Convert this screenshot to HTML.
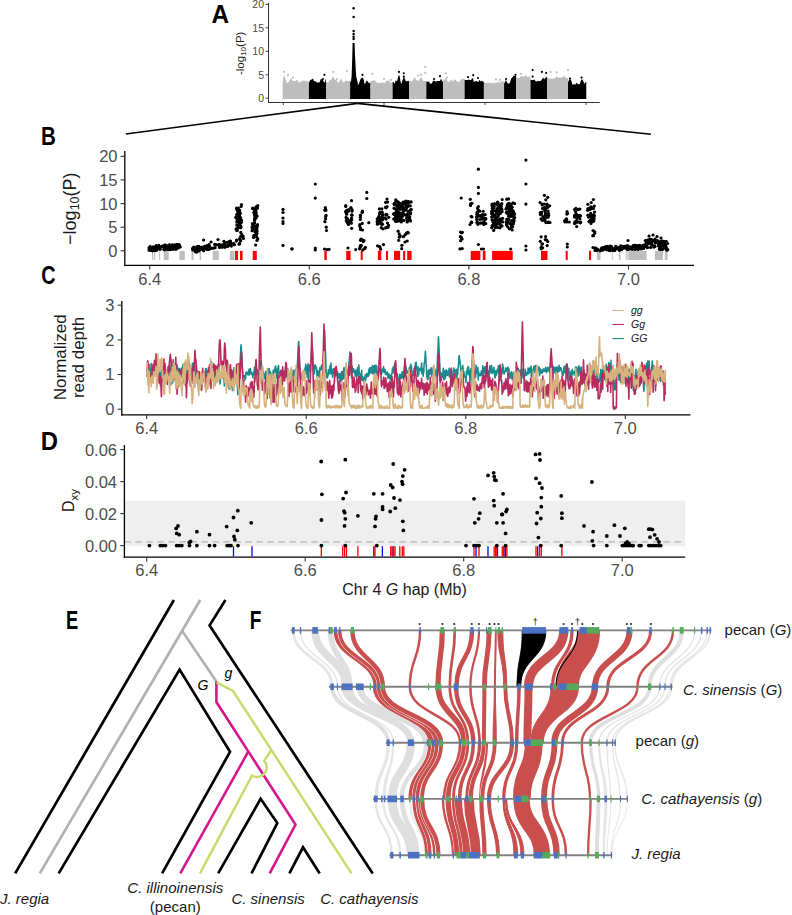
<!DOCTYPE html>
<html><head><meta charset="utf-8"><title>Figure</title>
<style>html,body{margin:0;padding:0;background:#fff;width:792px;height:915px;overflow:hidden}svg{display:block}</style>
</head><body>
<svg width="792" height="915" viewBox="0 0 792 915" font-family='"Liberation Sans", sans-serif'>
<line x1="268.5" y1="3" x2="268.5" y2="103" stroke="#333" stroke-width="1.0"/>
<line x1="268" y1="102.5" x2="599.7" y2="102.5" stroke="#333" stroke-width="1.0"/>
<line x1="265.5" y1="98.2" x2="268.5" y2="98.2" stroke="#333" stroke-width="0.9"/>
<text x="264" y="101.9" font-size="10.5" text-anchor="end" fill="#4d4d4d" font-weight="normal" font-style="normal">0</text>
<line x1="265.5" y1="74.8" x2="268.5" y2="74.8" stroke="#333" stroke-width="0.9"/>
<text x="264" y="78.5" font-size="10.5" text-anchor="end" fill="#4d4d4d" font-weight="normal" font-style="normal">5</text>
<line x1="265.5" y1="51.3" x2="268.5" y2="51.3" stroke="#333" stroke-width="0.9"/>
<text x="264" y="55" font-size="10.5" text-anchor="end" fill="#4d4d4d" font-weight="normal" font-style="normal">10</text>
<line x1="265.5" y1="27.8" x2="268.5" y2="27.8" stroke="#333" stroke-width="0.9"/>
<text x="264" y="31.5" font-size="10.5" text-anchor="end" fill="#4d4d4d" font-weight="normal" font-style="normal">15</text>
<line x1="265.5" y1="4.4" x2="268.5" y2="4.4" stroke="#333" stroke-width="0.9"/>
<text x="264" y="8.1" font-size="10.5" text-anchor="end" fill="#4d4d4d" font-weight="normal" font-style="normal">20</text>
<line x1="283.3" y1="102.5" x2="283.3" y2="105" stroke="#333" stroke-width="0.9"/>
<line x1="384" y1="102.5" x2="384" y2="105" stroke="#333" stroke-width="0.9"/>
<line x1="485" y1="102.5" x2="485" y2="105" stroke="#333" stroke-width="0.9"/>
<line x1="586" y1="102.5" x2="586" y2="105" stroke="#333" stroke-width="0.9"/>
<text transform="translate(211.4 23.4) scale(0.96 1)" font-size="25.4" font-weight="bold" fill="#000">A</text>
<text transform="translate(243.8 53.3) rotate(-90)" font-size="11.5" text-anchor="middle" fill="#1a1a1a">-log<tspan font-size="8" dy="2.2">10</tspan><tspan dy="-2.2">(P)</tspan></text>
<line x1="124.8" y1="151" x2="124.8" y2="266" stroke="#000" stroke-width="1.3"/>
<line x1="124.2" y1="265.4" x2="694" y2="265.4" stroke="#000" stroke-width="1.3"/>
<line x1="120.6" y1="250.8" x2="124.8" y2="250.8" stroke="#333" stroke-width="1.1"/>
<text x="117.5" y="256.7" font-size="16.5" text-anchor="end" fill="#4d4d4d" font-weight="normal" font-style="normal">0</text>
<line x1="120.6" y1="227.2" x2="124.8" y2="227.2" stroke="#333" stroke-width="1.1"/>
<text x="117.5" y="233.1" font-size="16.5" text-anchor="end" fill="#4d4d4d" font-weight="normal" font-style="normal">5</text>
<line x1="120.6" y1="203.6" x2="124.8" y2="203.6" stroke="#333" stroke-width="1.1"/>
<text x="117.5" y="209.5" font-size="16.5" text-anchor="end" fill="#4d4d4d" font-weight="normal" font-style="normal">10</text>
<line x1="120.6" y1="179.9" x2="124.8" y2="179.9" stroke="#333" stroke-width="1.1"/>
<text x="117.5" y="185.8" font-size="16.5" text-anchor="end" fill="#4d4d4d" font-weight="normal" font-style="normal">15</text>
<line x1="120.6" y1="156.3" x2="124.8" y2="156.3" stroke="#333" stroke-width="1.1"/>
<text x="117.5" y="162.2" font-size="16.5" text-anchor="end" fill="#4d4d4d" font-weight="normal" font-style="normal">20</text>
<line x1="149.7" y1="265.4" x2="149.7" y2="269.6" stroke="#333" stroke-width="1.1"/>
<text x="149.7" y="284.6" font-size="16.5" text-anchor="middle" fill="#4d4d4d" font-weight="normal" font-style="normal">6.4</text>
<line x1="309.3" y1="265.4" x2="309.3" y2="269.6" stroke="#333" stroke-width="1.1"/>
<text x="309.3" y="284.6" font-size="16.5" text-anchor="middle" fill="#4d4d4d" font-weight="normal" font-style="normal">6.6</text>
<line x1="468.9" y1="265.4" x2="468.9" y2="269.6" stroke="#333" stroke-width="1.1"/>
<text x="468.9" y="284.6" font-size="16.5" text-anchor="middle" fill="#4d4d4d" font-weight="normal" font-style="normal">6.8</text>
<line x1="628.5" y1="265.4" x2="628.5" y2="269.6" stroke="#333" stroke-width="1.1"/>
<text x="628.5" y="284.6" font-size="16.5" text-anchor="middle" fill="#4d4d4d" font-weight="normal" font-style="normal">7.0</text>
<text transform="translate(41 144.7) scale(0.81 1)" font-size="25.4" font-weight="bold" fill="#000">B</text>
<text transform="translate(76.2 208.7) rotate(-90)" font-size="18" text-anchor="middle" fill="#1a1a1a">−log<tspan font-size="12.5" dy="3">10</tspan><tspan dy="-3">(P)</tspan></text>
<line x1="121.8" y1="301" x2="121.8" y2="415.5" stroke="#000" stroke-width="1.3"/>
<line x1="121.2" y1="414.8" x2="690.5" y2="414.8" stroke="#000" stroke-width="1.3"/>
<line x1="117.6" y1="409.2" x2="121.8" y2="409.2" stroke="#333" stroke-width="1.1"/>
<text x="114.5" y="415.1" font-size="16.5" text-anchor="end" fill="#4d4d4d" font-weight="normal" font-style="normal">0</text>
<line x1="117.6" y1="374.5" x2="121.8" y2="374.5" stroke="#333" stroke-width="1.1"/>
<text x="114.5" y="380.4" font-size="16.5" text-anchor="end" fill="#4d4d4d" font-weight="normal" font-style="normal">1</text>
<line x1="117.6" y1="339.9" x2="121.8" y2="339.9" stroke="#333" stroke-width="1.1"/>
<text x="114.5" y="345.8" font-size="16.5" text-anchor="end" fill="#4d4d4d" font-weight="normal" font-style="normal">2</text>
<line x1="117.6" y1="305.2" x2="121.8" y2="305.2" stroke="#333" stroke-width="1.1"/>
<text x="114.5" y="311.1" font-size="16.5" text-anchor="end" fill="#4d4d4d" font-weight="normal" font-style="normal">3</text>
<line x1="146.7" y1="414.8" x2="146.7" y2="419" stroke="#333" stroke-width="1.1"/>
<text x="146.7" y="434" font-size="16.5" text-anchor="middle" fill="#4d4d4d" font-weight="normal" font-style="normal">6.4</text>
<line x1="306.2" y1="414.8" x2="306.2" y2="419" stroke="#333" stroke-width="1.1"/>
<text x="306.2" y="434" font-size="16.5" text-anchor="middle" fill="#4d4d4d" font-weight="normal" font-style="normal">6.6</text>
<line x1="465.8" y1="414.8" x2="465.8" y2="419" stroke="#333" stroke-width="1.1"/>
<text x="465.8" y="434" font-size="16.5" text-anchor="middle" fill="#4d4d4d" font-weight="normal" font-style="normal">6.8</text>
<line x1="625.3" y1="414.8" x2="625.3" y2="419" stroke="#333" stroke-width="1.1"/>
<text x="625.3" y="434" font-size="16.5" text-anchor="middle" fill="#4d4d4d" font-weight="normal" font-style="normal">7.0</text>
<text transform="translate(41.3 284) scale(0.78 1)" font-size="25.4" font-weight="bold" fill="#000">C</text>
<text x="66" y="357.2" font-size="17" text-anchor="middle" fill="#1a1a1a" font-weight="normal" font-style="normal" transform="rotate(-90 66 357.2)">Normalized</text>
<text x="84.2" y="357.4" font-size="17" text-anchor="middle" fill="#1a1a1a" font-weight="normal" font-style="normal" transform="rotate(-90 84.2 357.4)">read depth</text>
<rect x="124.4" y="500.7" width="560.8" height="45.5" fill="#efefef"/>
<line x1="124.4" y1="541.8" x2="685.2" y2="541.8" stroke="#b3b3b3" stroke-width="1.3" stroke-dasharray="6.5 4.5"/>
<line x1="124.4" y1="445" x2="124.4" y2="557.8" stroke="#000" stroke-width="1.3"/>
<line x1="123.8" y1="557.2" x2="685.2" y2="557.2" stroke="#000" stroke-width="1.3"/>
<line x1="120.2" y1="545.6" x2="124.4" y2="545.6" stroke="#333" stroke-width="1.1"/>
<text x="117" y="551.5" font-size="16.5" text-anchor="end" fill="#4d4d4d" font-weight="normal" font-style="normal">0.00</text>
<line x1="120.2" y1="513.6" x2="124.4" y2="513.6" stroke="#333" stroke-width="1.1"/>
<text x="117" y="519.5" font-size="16.5" text-anchor="end" fill="#4d4d4d" font-weight="normal" font-style="normal">0.02</text>
<line x1="120.2" y1="481.6" x2="124.4" y2="481.6" stroke="#333" stroke-width="1.1"/>
<text x="117" y="487.5" font-size="16.5" text-anchor="end" fill="#4d4d4d" font-weight="normal" font-style="normal">0.04</text>
<line x1="120.2" y1="449.6" x2="124.4" y2="449.6" stroke="#333" stroke-width="1.1"/>
<text x="117" y="455.5" font-size="16.5" text-anchor="end" fill="#4d4d4d" font-weight="normal" font-style="normal">0.06</text>
<line x1="146.7" y1="557.2" x2="146.7" y2="561.4" stroke="#333" stroke-width="1.1"/>
<text x="146.7" y="576.4" font-size="16.5" text-anchor="middle" fill="#4d4d4d" font-weight="normal" font-style="normal">6.4</text>
<line x1="305.2" y1="557.2" x2="305.2" y2="561.4" stroke="#333" stroke-width="1.1"/>
<text x="305.2" y="576.4" font-size="16.5" text-anchor="middle" fill="#4d4d4d" font-weight="normal" font-style="normal">6.6</text>
<line x1="463.7" y1="557.2" x2="463.7" y2="561.4" stroke="#333" stroke-width="1.1"/>
<text x="463.7" y="576.4" font-size="16.5" text-anchor="middle" fill="#4d4d4d" font-weight="normal" font-style="normal">6.8</text>
<line x1="622.2" y1="557.2" x2="622.2" y2="561.4" stroke="#333" stroke-width="1.1"/>
<text x="622.2" y="576.4" font-size="16.5" text-anchor="middle" fill="#4d4d4d" font-weight="normal" font-style="normal">7.0</text>
<text transform="translate(40.8 450) scale(0.94 1)" font-size="25.4" font-weight="bold" fill="#000">D</text>
<text transform="translate(74.0 500.5) rotate(-90)" font-size="16" text-anchor="middle" fill="#1a1a1a">D<tspan font-size="11.5" dy="4">xy</tspan></text>
<text x="404.5" y="595.4" font-size="16" text-anchor="middle" fill="#1a1a1a">Chr 4 <tspan font-style="italic">G</tspan> hap (Mb)</text>
<text transform="translate(65.9 629) scale(0.72 1)" font-size="25.4" font-weight="bold" fill="#000">E</text>
<text transform="translate(249.8 628.7) scale(0.75 1)" font-size="25.4" font-weight="bold" fill="#000">F</text>
<text x="0" y="903.8" font-size="15" text-anchor="start" fill="#1a1a1a" font-weight="normal" font-style="italic">J. regia</text>
<text x="175.3" y="892.5" font-size="15" text-anchor="middle" fill="#1a1a1a" font-weight="normal" font-style="italic">C. illinoinensis</text>
<text x="268.1" y="903.8" font-size="15" text-anchor="middle" fill="#1a1a1a" font-weight="normal" font-style="italic">C. sinensis</text>
<text x="369.4" y="903.8" font-size="15" text-anchor="middle" fill="#1a1a1a" font-weight="normal" font-style="italic">C. cathayensis</text>
<text x="175.3" y="911.8" font-size="15" text-anchor="middle" fill="#1a1a1a" font-weight="normal" font-style="normal">(pecan)</text>
<text x="724.6" y="635" font-size="15" fill="#1a1a1a">pecan (<tspan font-style="italic">G</tspan>)</text>
<text x="683.1" y="694.7" font-size="15" fill="#1a1a1a"><tspan font-style="italic">C. sinensis</tspan> (<tspan font-style="italic">G</tspan>)</text>
<text x="635.6" y="745.9" font-size="15" fill="#1a1a1a">pecan (<tspan font-style="italic">g</tspan>)</text>
<text x="641.3" y="804.2" font-size="15" fill="#1a1a1a"><tspan font-style="italic">C. cathayensis</tspan> (<tspan font-style="italic">g</tspan>)</text>
<text x="631.4" y="858.8" font-size="15" fill="#1a1a1a" font-style="italic">J. regia</text>
<path d="M282.6 99 L282.6 82.9 L283.4 76.8 L284.1 75.1 L285.2 78.3 L286.5 82.6 L288 82.9 L289.5 80.5 L290.3 79.4 L291.1 77.8 L292.1 80.3 L292.9 81 L293.8 81 L294.7 80.7 L295.6 80.9 L297 79.6 L298.5 81.7 L299.3 82.5 L300.6 81.9 L302 80.8 L303.1 80.5 L304.6 80.7 L305.4 80.7 L306.8 81.1 L307.9 81.4 L308.9 81.4 L308.9 99 Z" fill="#bdbdbd"/>
<circle cx="284" cy="71.9" r="1.1" fill="#bdbdbd"/>
<circle cx="288" cy="75.2" r="1.1" fill="#bdbdbd"/>
<circle cx="293" cy="77.6" r="1.1" fill="#bdbdbd"/>
<path d="M308.9 99 L308.9 82.8 L310.2 80 L311.6 79.5 L313 78.6 L313.9 81.1 L315.3 81.3 L316.2 81.8 L317.4 82.8 L318.4 82.2 L319.6 82.6 L320.8 78.8 L322.2 79.3 L323.3 80.7 L324 82.3 L324.8 82.6 L325.8 79.1 L326 79.1 L326 99 Z" fill="#000"/>
<circle cx="324.4" cy="74.8" r="1.1" fill="#000"/>
<circle cx="323" cy="79" r="1.1" fill="#000"/>
<path d="M326 99 L326 82.4 L326.8 81.7 L327.9 82.7 L328.7 82.2 L329.5 79.8 L330.3 80.4 L331.4 79.5 L332.7 76.5 L334 78.2 L335 79.9 L336.3 80.1 L337.6 81.8 L338.4 82.8 L339.6 81.5 L341.1 78.2 L342.1 80.7 L342.9 82.3 L344.3 82.6 L345.6 80.6 L347 81.1 L347.8 81.2 L349.1 81.1 L350.1 81.1 L350.1 99 Z" fill="#bdbdbd"/>
<circle cx="333.4" cy="71.9" r="1.1" fill="#bdbdbd"/>
<circle cx="337" cy="79" r="1.1" fill="#bdbdbd"/>
<circle cx="347" cy="71" r="1.1" fill="#bdbdbd"/>
<path d="M350.1 99 L350.1 82.9 L350.9 80.6 L352.3 81.9 L353.5 82.4 L354.3 81.8 L355.4 82 L356.8 82.3 L357.7 84.2 L358.6 84.7 L360.1 79.9 L361.2 77.9 L362.7 77.8 L363.8 79.7 L364.5 84 L365.6 83 L366.5 80.6 L367.9 81.6 L368.8 83.3 L369.9 82.8 L370.5 82.8 L370.5 99 Z" fill="#000"/>
<circle cx="362.5" cy="74.8" r="1.1" fill="#000"/>
<path d="M370.5 99 L370.5 80.8 L371.6 80.9 L372.7 80.4 L374 80.3 L374.9 80.3 L376.3 82.4 L377 82.3 L378.4 82.9 L379.6 82.9 L381 82.8 L382.5 82.5 L384 82.9 L385 82.7 L385.9 81 L387 81 L388 80.4 L388.8 80.1 L390.2 82.4 L391.6 82.4 L392.6 82.4 L392.6 99 Z" fill="#bdbdbd"/>
<circle cx="372.6" cy="73.8" r="1.1" fill="#bdbdbd"/>
<circle cx="384" cy="79" r="1.1" fill="#bdbdbd"/>
<circle cx="391" cy="79.9" r="1.1" fill="#bdbdbd"/>
<path d="M392.6 99 L392.6 82.1 L393.4 81.7 L394.7 83.7 L395.7 80.2 L397.1 81.2 L398.5 75.5 L399.6 75.7 L400.4 81 L401.2 84.3 L402.1 81.3 L403.2 78.5 L404.1 76.6 L405 79.2 L405.8 81.3 L406.9 81.3 L408 80.7 L408.9 81 L409.1 81 L409.1 99 Z" fill="#000"/>
<circle cx="399" cy="71.9" r="1.1" fill="#000"/>
<circle cx="403.8" cy="73.3" r="1.1" fill="#000"/>
<circle cx="403.8" cy="76.6" r="1.1" fill="#000"/>
<path d="M409.1 99 L409.1 79.6 L409.8 81.2 L410.7 81.1 L412.1 81.7 L413 80.3 L414.1 77.4 L415.2 78.1 L416.2 80.3 L417.3 80.3 L418.2 80.7 L418.9 80.8 L420.1 78.5 L421.3 77 L422.3 79.4 L423.6 81.4 L425 80.7 L426.2 81.3 L426.3 81.3 L426.3 99 Z" fill="#bdbdbd"/>
<circle cx="425.2" cy="66.8" r="1.1" fill="#bdbdbd"/>
<circle cx="425.2" cy="72.9" r="1.1" fill="#bdbdbd"/>
<circle cx="421" cy="74.8" r="1.1" fill="#bdbdbd"/>
<circle cx="418" cy="75.7" r="1.1" fill="#bdbdbd"/>
<path d="M426.3 99 L426.3 81.4 L427.6 81.7 L429.1 81.6 L429.9 83.8 L430.7 83.5 L431.9 83.4 L433 80.7 L434.1 80.8 L434.9 81.2 L435.6 81.6 L436.9 81.2 L437.9 81 L439.2 81.1 L440 81 L441 78.6 L441.7 80.3 L442.9 82.1 L443.2 82.1 L443.2 99 Z" fill="#000"/>
<circle cx="440" cy="76.2" r="1.1" fill="#000"/>
<circle cx="434" cy="79" r="1.1" fill="#000"/>
<path d="M443.2 99 L443.2 79.7 L444.7 79.9 L445.7 77.7 L446.8 79.1 L447.7 82 L448.8 82 L450.2 81.1 L451.4 79.4 L452.1 80.7 L453.1 81.4 L454.4 79.5 L455.2 79.6 L456.7 81.2 L458.2 81.2 L459.2 82.5 L460.6 79.6 L461.5 79.6 L462.5 78.8 L463.8 78.8 L464.6 78.8 L464.6 99 Z" fill="#bdbdbd"/>
<circle cx="445.7" cy="73.3" r="1.1" fill="#bdbdbd"/>
<circle cx="447" cy="77.6" r="1.1" fill="#bdbdbd"/>
<path d="M464.6 99 L464.6 79.7 L465.3 80 L466.6 80.1 L467.4 80.3 L468.5 79.4 L469.9 79.9 L471.1 80 L471.9 78.6 L472.8 78.1 L473.9 81.9 L474.8 81.6 L476 81 L477 81.3 L478 82.3 L479.5 80.1 L480.9 81.5 L481.9 80.7 L483.3 81.7 L483.9 81.7 L483.9 99 Z" fill="#000"/>
<circle cx="473.2" cy="75.2" r="1.1" fill="#000"/>
<circle cx="468" cy="77.1" r="1.1" fill="#000"/>
<circle cx="478" cy="78" r="1.1" fill="#000"/>
<path d="M483.9 99 L483.9 82.3 L485 83.3 L486 82.4 L487.4 83 L488.2 82.8 L489.6 82.8 L490.9 82.9 L491.7 83.3 L493.1 83.2 L493.9 82.3 L494.7 82.9 L495.7 83.2 L496.6 82.2 L497.9 82.7 L498.7 81 L499.7 82.9 L500.7 81.9 L501.6 80.9 L502.9 81.6 L504 81.4 L504.1 81.4 L504.1 99 Z" fill="#bdbdbd"/>
<circle cx="496" cy="79.4" r="1.1" fill="#bdbdbd"/>
<circle cx="500" cy="79.9" r="1.1" fill="#bdbdbd"/>
<path d="M504.1 99 L504.1 82.5 L505 82.5 L505.9 79.8 L507.3 82.7 L508.8 83.8 L509.8 82.9 L511.1 78.8 L512.1 77.6 L512.8 76.7 L513.8 75.5 L514.7 76.1 L515.5 74.4 L516.1 74.4 L516.1 99 Z" fill="#000"/>
<circle cx="515.5" cy="74.8" r="1.1" fill="#000"/>
<circle cx="506" cy="79" r="1.1" fill="#000"/>
<path d="M516.1 99 L516.1 77.2 L517.1 78.1 L518.6 77.8 L519.3 77.9 L520.6 76.2 L522.1 76.6 L523 76.3 L523.9 76.6 L524.9 76.6 L526.1 77.6 L527 76.5 L528.4 77.3 L529.5 76.5 L530.3 76.8 L530.5 76.8 L530.5 99 Z" fill="#bdbdbd"/>
<circle cx="521" cy="73.8" r="1.1" fill="#bdbdbd"/>
<circle cx="526" cy="76.6" r="1.1" fill="#bdbdbd"/>
<path d="M530.5 99 L530.5 79.8 L531.5 80.1 L532.2 79.8 L533 80.2 L534.5 79.4 L535.4 81.1 L536.6 81.4 L537.7 80.9 L539 80.9 L539.8 81.3 L540.9 80.8 L541.8 79.4 L543.2 77.5 L544.2 79.4 L545.1 78.2 L546.6 76.9 L547 76.9 L547 99 Z" fill="#000"/>
<circle cx="532.6" cy="70.1" r="1.1" fill="#000"/>
<circle cx="532.6" cy="76.6" r="1.1" fill="#000"/>
<circle cx="541.9" cy="71.9" r="1.1" fill="#000"/>
<circle cx="546.2" cy="72.9" r="1.1" fill="#000"/>
<path d="M547 99 L547 77.6 L547.9 77.7 L549.1 78.4 L550.5 78.5 L551.8 78.7 L553 78.5 L554 78.4 L555.2 78.5 L555.9 77.2 L556.8 76.5 L557.6 77.6 L558.8 78.1 L559.8 77.4 L560.8 78 L561.8 77.3 L562.8 77 L563.5 76.8 L564.9 76.3 L565.9 78.6 L567.1 78 L568 78 L568 99 Z" fill="#bdbdbd"/>
<circle cx="550.6" cy="71.9" r="1.1" fill="#bdbdbd"/>
<circle cx="556.6" cy="72.4" r="1.1" fill="#bdbdbd"/>
<circle cx="568" cy="70.1" r="1.1" fill="#bdbdbd"/>
<path d="M568 99 L568 82.2 L568.8 80.5 L569.6 78.6 L571.1 80.3 L572.6 85 L574 84 L575.2 84.8 L576.5 82.7 L577.9 84.1 L579 84.4 L579.9 83.6 L580.6 81.5 L581.4 79.6 L582.5 79.4 L583.5 81.8 L584.5 84.1 L585.6 82.1 L586.3 82.1 L586.3 99 Z" fill="#000"/>
<circle cx="581.5" cy="77.6" r="1.1" fill="#000"/>
<circle cx="570" cy="78.5" r="1.1" fill="#000"/>
<path d="M350.6 84.1 L351.6 76.6 L352.3 56 L352.6 42.9 L354.6 42.9 L355.0 56 L356.2 76.6 L358.0 84.1 Z" fill="#000"/>
<circle cx="353.6" cy="8.2" r="1.25" fill="#000"/>
<circle cx="353.6" cy="17.1" r="1.25" fill="#000"/>
<circle cx="353.6" cy="31.1" r="1.25" fill="#000"/>
<circle cx="353.6" cy="33.9" r="1.25" fill="#000"/>
<circle cx="353.6" cy="36.8" r="1.25" fill="#000"/>
<circle cx="353.6" cy="39.1" r="1.25" fill="#000"/>
<line x1="125.8" y1="134" x2="357.4" y2="103.4" stroke="#000" stroke-width="1.6"/>
<line x1="357.4" y1="103.4" x2="650.9" y2="134.2" stroke="#000" stroke-width="1.6"/>
<rect x="152.1" y="250.9" width="1" height="9.1" fill="#bebebe"/>
<rect x="154.1" y="250.9" width="1.1" height="9.1" fill="#bebebe"/>
<rect x="159.2" y="250.9" width="1" height="9.1" fill="#bebebe"/>
<rect x="163.8" y="250.9" width="4.9" height="9.1" fill="#bebebe"/>
<rect x="179.4" y="250.9" width="5.4" height="9.1" fill="#bebebe"/>
<rect x="191.5" y="250.9" width="2" height="9.1" fill="#bebebe"/>
<rect x="199.6" y="250.9" width="1.4" height="9.1" fill="#bebebe"/>
<rect x="212.7" y="250.9" width="6.1" height="9.1" fill="#bebebe"/>
<rect x="229.9" y="250.9" width="4.6" height="9.1" fill="#bebebe"/>
<rect x="597" y="250.9" width="3.5" height="9.1" fill="#bebebe"/>
<rect x="611.8" y="250.9" width="0.9" height="9.1" fill="#bebebe"/>
<rect x="619" y="250.9" width="1.6" height="9.1" fill="#bebebe"/>
<rect x="628.5" y="250.9" width="18.2" height="9.1" fill="#bebebe"/>
<rect x="655" y="250.9" width="8" height="9.1" fill="#bebebe"/>
<rect x="664.8" y="250.9" width="2.8" height="9.1" fill="#bebebe"/>
<rect x="625.5" y="250.9" width="3" height="9.1" fill="#d4d4d4"/>
<rect x="235" y="250.9" width="3" height="9.1" fill="#ff0000"/>
<rect x="240" y="250.9" width="2.6" height="9.1" fill="#ff0000"/>
<rect x="252.7" y="250.9" width="4.1" height="9.1" fill="#ff0000"/>
<rect x="324.3" y="250.9" width="2.5" height="9.1" fill="#ff0000"/>
<rect x="346.2" y="250.9" width="4.4" height="9.1" fill="#ff0000"/>
<rect x="360.7" y="250.9" width="2" height="9.1" fill="#ff0000"/>
<rect x="377.9" y="250.9" width="3.4" height="9.1" fill="#ff0000"/>
<rect x="386" y="250.9" width="2" height="9.1" fill="#ff0000"/>
<rect x="394" y="250.9" width="6.1" height="9.1" fill="#ff0000"/>
<rect x="403.1" y="250.9" width="2.1" height="9.1" fill="#ff0000"/>
<rect x="407.2" y="250.9" width="4.4" height="9.1" fill="#ff0000"/>
<rect x="470.7" y="250.9" width="9.7" height="9.1" fill="#ff0000"/>
<rect x="482.8" y="250.9" width="2.7" height="9.1" fill="#ff0000"/>
<rect x="492.1" y="250.9" width="20.6" height="9.1" fill="#ff0000"/>
<rect x="541" y="250.9" width="6.5" height="9.1" fill="#ff0000"/>
<rect x="565.7" y="250.9" width="2" height="9.1" fill="#ff0000"/>
<rect x="589" y="250.9" width="2.1" height="9.1" fill="#ff0000"/>
<g fill="#000"><circle cx="173.1" cy="248.4" r="1.6"/><circle cx="163.4" cy="246" r="1.6"/><circle cx="163.9" cy="245.6" r="1.6"/><circle cx="153" cy="247.9" r="1.6"/><circle cx="151.9" cy="248" r="1.6"/><circle cx="165.1" cy="245.2" r="1.6"/><circle cx="169" cy="245.1" r="1.6"/><circle cx="172.1" cy="248.4" r="1.6"/><circle cx="165.1" cy="245.2" r="1.6"/><circle cx="164.9" cy="246.9" r="1.6"/><circle cx="179" cy="244.8" r="1.6"/><circle cx="176" cy="249.3" r="1.6"/><circle cx="172.1" cy="248.6" r="1.6"/><circle cx="155.1" cy="250.5" r="1.6"/><circle cx="164.5" cy="249.8" r="1.6"/><circle cx="177.9" cy="245" r="1.6"/><circle cx="173.8" cy="249.1" r="1.6"/><circle cx="151.1" cy="247.6" r="1.6"/><circle cx="172.8" cy="245.3" r="1.6"/><circle cx="177.2" cy="245.6" r="1.6"/><circle cx="174.7" cy="245.1" r="1.6"/><circle cx="164.8" cy="249.6" r="1.6"/><circle cx="155.6" cy="246.9" r="1.6"/><circle cx="164.9" cy="246.6" r="1.6"/><circle cx="150.2" cy="246.8" r="1.6"/><circle cx="154.1" cy="250.4" r="1.6"/><circle cx="170.4" cy="249.1" r="1.6"/><circle cx="154.3" cy="249.6" r="1.6"/><circle cx="152.6" cy="248.4" r="1.6"/><circle cx="169" cy="246.5" r="1.6"/><circle cx="176.5" cy="247" r="1.6"/><circle cx="167.3" cy="249.3" r="1.6"/><circle cx="152.3" cy="250.8" r="1.6"/><circle cx="168.8" cy="246.7" r="1.6"/><circle cx="174.1" cy="245.7" r="1.6"/><circle cx="180.2" cy="246.9" r="1.6"/><circle cx="160.3" cy="249.1" r="1.6"/><circle cx="162.9" cy="246" r="1.6"/><circle cx="172.4" cy="244.8" r="1.6"/><circle cx="174.8" cy="245.6" r="1.6"/><circle cx="169.1" cy="249.6" r="1.6"/><circle cx="167.5" cy="248.1" r="1.6"/><circle cx="158.8" cy="245.4" r="1.6"/><circle cx="150.1" cy="246.7" r="1.6"/><circle cx="168.4" cy="246.9" r="1.6"/><circle cx="165.1" cy="249.5" r="1.6"/><circle cx="153.2" cy="246.9" r="1.6"/><circle cx="169.6" cy="244.8" r="1.6"/><circle cx="149.1" cy="247.8" r="1.6"/><circle cx="152.4" cy="247.6" r="1.6"/><circle cx="156.1" cy="248.5" r="1.6"/><circle cx="167.6" cy="245.8" r="1.6"/><circle cx="168.7" cy="247.1" r="1.6"/><circle cx="153.2" cy="250.4" r="1.6"/><circle cx="156.7" cy="246.3" r="1.6"/><circle cx="152" cy="249" r="1.6"/><circle cx="176.4" cy="248.2" r="1.6"/><circle cx="161.7" cy="246.5" r="1.6"/><circle cx="149.4" cy="249.2" r="1.6"/><circle cx="166.7" cy="246.6" r="1.6"/><circle cx="169.3" cy="246.9" r="1.6"/><circle cx="178.5" cy="247.8" r="1.6"/><circle cx="156.8" cy="250" r="1.6"/><circle cx="150.4" cy="248.6" r="1.6"/><circle cx="161.8" cy="246.4" r="1.6"/><circle cx="150.8" cy="249.8" r="1.6"/><circle cx="149.4" cy="248.7" r="1.6"/><circle cx="178.6" cy="244.8" r="1.6"/><circle cx="155.3" cy="248.6" r="1.6"/><circle cx="165" cy="248.2" r="1.6"/><circle cx="174.6" cy="245.2" r="1.6"/><circle cx="158.7" cy="246.9" r="1.6"/><circle cx="150.5" cy="250.3" r="1.6"/><circle cx="173.7" cy="248" r="1.6"/><circle cx="149.2" cy="250.2" r="1.6"/><circle cx="172.5" cy="246.8" r="1.6"/><circle cx="172.4" cy="246.8" r="1.6"/><circle cx="156.1" cy="246.1" r="1.6"/><circle cx="156.3" cy="245.7" r="1.6"/><circle cx="159.6" cy="249.1" r="1.6"/><circle cx="170.9" cy="248.8" r="1.6"/><circle cx="171.4" cy="245.9" r="1.6"/><circle cx="166.4" cy="247.1" r="1.6"/><circle cx="173.8" cy="247" r="1.6"/><circle cx="157.4" cy="248.7" r="1.6"/><circle cx="179.4" cy="245.2" r="1.6"/><circle cx="176.7" cy="244.3" r="1.6"/><circle cx="157.2" cy="246.7" r="1.6"/><circle cx="172.4" cy="249.2" r="1.6"/><circle cx="172.5" cy="246.1" r="1.6"/><circle cx="176.7" cy="245.9" r="1.6"/><circle cx="156.5" cy="250.1" r="1.6"/><circle cx="168.9" cy="248.2" r="1.6"/><circle cx="170" cy="249.6" r="1.6"/><circle cx="163.8" cy="249.3" r="1.6"/><circle cx="222.1" cy="247.1" r="1.6"/><circle cx="211.1" cy="248.2" r="1.6"/><circle cx="216.7" cy="244.9" r="1.6"/><circle cx="201.5" cy="249.2" r="1.6"/><circle cx="195.8" cy="251.8" r="1.6"/><circle cx="198.6" cy="246.3" r="1.6"/><circle cx="197" cy="251.7" r="1.6"/><circle cx="207.2" cy="245.6" r="1.6"/><circle cx="193.7" cy="247.2" r="1.6"/><circle cx="221.9" cy="245.9" r="1.6"/><circle cx="222.1" cy="246.4" r="1.6"/><circle cx="195.3" cy="250" r="1.6"/><circle cx="207.9" cy="249.2" r="1.6"/><circle cx="227.3" cy="246.5" r="1.6"/><circle cx="195.3" cy="251.6" r="1.6"/><circle cx="231.4" cy="246.1" r="1.6"/><circle cx="197.1" cy="247.6" r="1.6"/><circle cx="197.3" cy="246.6" r="1.6"/><circle cx="228.5" cy="245.8" r="1.6"/><circle cx="219.5" cy="247.4" r="1.6"/><circle cx="219.3" cy="244.4" r="1.6"/><circle cx="196.7" cy="247" r="1.6"/><circle cx="224.7" cy="243" r="1.6"/><circle cx="206.1" cy="247.3" r="1.6"/><circle cx="193.4" cy="248.5" r="1.6"/><circle cx="204.5" cy="249.2" r="1.6"/><circle cx="208.1" cy="246.4" r="1.6"/><circle cx="233.5" cy="243.3" r="1.6"/><circle cx="228.7" cy="244.7" r="1.6"/><circle cx="193.8" cy="249.3" r="1.6"/><circle cx="211" cy="248.5" r="1.6"/><circle cx="207.2" cy="248.7" r="1.6"/><circle cx="215.4" cy="244.6" r="1.6"/><circle cx="229.1" cy="241.7" r="1.6"/><circle cx="227.3" cy="242.4" r="1.6"/><circle cx="192.6" cy="248.3" r="1.6"/><circle cx="224.9" cy="247.3" r="1.6"/><circle cx="192.7" cy="249.9" r="1.6"/><circle cx="213.4" cy="248.2" r="1.6"/><circle cx="200.3" cy="248.7" r="1.6"/><circle cx="207.3" cy="249.4" r="1.6"/><circle cx="203.6" cy="250.7" r="1.6"/><circle cx="204.6" cy="246.4" r="1.6"/><circle cx="222.2" cy="245.1" r="1.6"/><circle cx="197.2" cy="250" r="1.6"/><circle cx="195.9" cy="251" r="1.6"/><circle cx="222.1" cy="246.7" r="1.6"/><circle cx="219.2" cy="244.8" r="1.6"/><circle cx="209.6" cy="246.6" r="1.6"/><circle cx="230.3" cy="241.4" r="1.6"/><circle cx="230.3" cy="241.1" r="1.6"/><circle cx="201.3" cy="247.2" r="1.6"/><circle cx="230.8" cy="243.7" r="1.6"/><circle cx="208.6" cy="249.5" r="1.6"/><circle cx="202.4" cy="248.1" r="1.6"/><circle cx="215.1" cy="247.7" r="1.6"/><circle cx="224.5" cy="245.5" r="1.6"/><circle cx="207.3" cy="246.6" r="1.6"/><circle cx="199.1" cy="250.8" r="1.6"/><circle cx="220.6" cy="246.7" r="1.6"/><circle cx="199.7" cy="248.5" r="1.6"/><circle cx="225.4" cy="245" r="1.6"/><circle cx="197.9" cy="248.9" r="1.6"/><circle cx="230.1" cy="242.3" r="1.6"/><circle cx="200.6" cy="247.5" r="1.6"/><circle cx="222.4" cy="247" r="1.6"/><circle cx="199.1" cy="247" r="1.6"/><circle cx="203" cy="247.3" r="1.6"/><circle cx="214.7" cy="244.4" r="1.6"/><circle cx="206.4" cy="246" r="1.6"/><circle cx="233.9" cy="244.5" r="1.6"/><circle cx="196.8" cy="251.9" r="1.6"/><circle cx="196.8" cy="248.6" r="1.6"/><circle cx="234.3" cy="244.8" r="1.6"/><circle cx="223.7" cy="244.5" r="1.6"/><circle cx="200.8" cy="249.4" r="1.6"/><circle cx="197" cy="247.6" r="1.6"/><circle cx="209" cy="244.7" r="1.6"/><circle cx="209.5" cy="248.8" r="1.6"/><circle cx="222" cy="245.1" r="1.6"/><circle cx="203.6" cy="240" r="1.6"/><circle cx="211" cy="242" r="1.6"/><circle cx="218" cy="239.5" r="1.6"/><circle cx="224" cy="241.3" r="1.6"/><circle cx="239.5" cy="211.1" r="1.6"/><circle cx="239.3" cy="224.3" r="1.6"/><circle cx="241" cy="220.6" r="1.6"/><circle cx="240.1" cy="213" r="1.6"/><circle cx="240" cy="225.9" r="1.6"/><circle cx="239.9" cy="223.3" r="1.6"/><circle cx="239.5" cy="214.9" r="1.6"/><circle cx="239.5" cy="217.2" r="1.6"/><circle cx="240.3" cy="222" r="1.6"/><circle cx="237.4" cy="218" r="1.6"/><circle cx="239.4" cy="222.9" r="1.6"/><circle cx="241.1" cy="222.4" r="1.6"/><circle cx="240.3" cy="218.8" r="1.6"/><circle cx="241.4" cy="220" r="1.6"/><circle cx="236.9" cy="230.4" r="1.6"/><circle cx="238.9" cy="220.6" r="1.6"/><circle cx="239" cy="218.8" r="1.6"/><circle cx="239.5" cy="219.1" r="1.6"/><circle cx="238.3" cy="210.7" r="1.6"/><circle cx="239.8" cy="224.8" r="1.6"/><circle cx="236.7" cy="214.6" r="1.6"/><circle cx="236.3" cy="216.8" r="1.6"/><circle cx="236.1" cy="217.3" r="1.6"/><circle cx="239.8" cy="213.8" r="1.6"/><circle cx="237.2" cy="230.4" r="1.6"/><circle cx="238.9" cy="225.6" r="1.6"/><circle cx="238.2" cy="210.8" r="1.6"/><circle cx="240.3" cy="222.1" r="1.6"/><circle cx="238.6" cy="213" r="1.6"/><circle cx="241.3" cy="222.1" r="1.6"/><circle cx="240.5" cy="217.6" r="1.6"/><circle cx="237.6" cy="210.8" r="1.6"/><circle cx="240.6" cy="226.7" r="1.6"/><circle cx="237.5" cy="213.6" r="1.6"/><circle cx="238.3" cy="208.1" r="1.6"/><circle cx="240" cy="213.4" r="1.6"/><circle cx="237.7" cy="217.4" r="1.6"/><circle cx="239.5" cy="216" r="1.6"/><circle cx="241.1" cy="206.5" r="1.6"/><circle cx="240.6" cy="226.2" r="1.6"/><circle cx="236.8" cy="222.1" r="1.6"/><circle cx="236.1" cy="228.9" r="1.6"/><circle cx="239.6" cy="210.2" r="1.6"/><circle cx="236.8" cy="225.1" r="1.6"/><circle cx="237.9" cy="227.9" r="1.6"/><circle cx="240.4" cy="227.6" r="1.6"/><circle cx="239.3" cy="223" r="1.6"/><circle cx="240.9" cy="227.6" r="1.6"/><circle cx="237.1" cy="219.7" r="1.6"/><circle cx="240.1" cy="227.4" r="1.6"/><circle cx="239.1" cy="213.2" r="1.6"/><circle cx="236.8" cy="209.3" r="1.6"/><circle cx="238.6" cy="218.8" r="1.6"/><circle cx="238.7" cy="227" r="1.6"/><circle cx="236" cy="217.6" r="1.6"/><circle cx="240.2" cy="240.4" r="1.6"/><circle cx="242.3" cy="236.8" r="1.6"/><circle cx="239.1" cy="244.2" r="1.6"/><circle cx="236.6" cy="240.1" r="1.6"/><circle cx="240.8" cy="232.4" r="1.6"/><circle cx="240.6" cy="240.7" r="1.6"/><circle cx="243" cy="236.2" r="1.6"/><circle cx="243.4" cy="238.5" r="1.6"/><circle cx="239.6" cy="243.4" r="1.6"/><circle cx="236.3" cy="241.1" r="1.6"/><circle cx="240.7" cy="236.3" r="1.6"/><circle cx="242.5" cy="236.7" r="1.6"/><circle cx="239.6" cy="238.7" r="1.6"/><circle cx="241.8" cy="234.7" r="1.6"/><circle cx="241.5" cy="204.5" r="1.6"/><circle cx="236.5" cy="208" r="1.6"/><circle cx="254.6" cy="223.1" r="1.6"/><circle cx="257" cy="231" r="1.6"/><circle cx="254.4" cy="214.9" r="1.6"/><circle cx="255" cy="231.7" r="1.6"/><circle cx="256.8" cy="216.2" r="1.6"/><circle cx="253.8" cy="225.4" r="1.6"/><circle cx="256.7" cy="228" r="1.6"/><circle cx="257.3" cy="208.4" r="1.6"/><circle cx="253.8" cy="212.5" r="1.6"/><circle cx="257.5" cy="226.1" r="1.6"/><circle cx="256.7" cy="230" r="1.6"/><circle cx="255.7" cy="227.2" r="1.6"/><circle cx="255.6" cy="213.2" r="1.6"/><circle cx="256" cy="229.1" r="1.6"/><circle cx="252.6" cy="208.1" r="1.6"/><circle cx="256.6" cy="231.8" r="1.6"/><circle cx="254.2" cy="237.1" r="1.6"/><circle cx="255.4" cy="215.8" r="1.6"/><circle cx="254.5" cy="219.5" r="1.6"/><circle cx="255.9" cy="207.2" r="1.6"/><circle cx="255.4" cy="210.4" r="1.6"/><circle cx="256.9" cy="233.6" r="1.6"/><circle cx="254.7" cy="218.2" r="1.6"/><circle cx="255.6" cy="245" r="1.6"/><circle cx="254.9" cy="210" r="1.6"/><circle cx="255.9" cy="211.4" r="1.6"/><circle cx="252.1" cy="226.8" r="1.6"/><circle cx="252.7" cy="208.6" r="1.6"/><circle cx="257.2" cy="207.5" r="1.6"/><circle cx="256.3" cy="228.3" r="1.6"/><circle cx="253.1" cy="229.4" r="1.6"/><circle cx="256.3" cy="234.8" r="1.6"/><circle cx="252.5" cy="227.6" r="1.6"/><circle cx="254.8" cy="215.4" r="1.6"/><circle cx="257.8" cy="205.5" r="1.6"/><circle cx="252.1" cy="230.7" r="1.6"/><circle cx="252.5" cy="228.2" r="1.6"/><circle cx="253" cy="224.8" r="1.6"/><circle cx="252.4" cy="223.7" r="1.6"/><circle cx="254.6" cy="211.2" r="1.6"/><circle cx="256.8" cy="225.7" r="1.6"/><circle cx="255.8" cy="218.2" r="1.6"/><circle cx="256.7" cy="237" r="1.6"/><circle cx="255.4" cy="208.8" r="1.6"/><circle cx="257.8" cy="238.8" r="1.6"/><circle cx="254" cy="235.3" r="1.6"/><circle cx="257" cy="215.9" r="1.6"/><circle cx="254.6" cy="220.4" r="1.6"/><circle cx="256.1" cy="233" r="1.6"/><circle cx="256.8" cy="207" r="1.6"/><circle cx="253.6" cy="224" r="1.6"/><circle cx="256.9" cy="206.7" r="1.6"/><circle cx="257" cy="240.4" r="1.6"/><circle cx="255.4" cy="231.7" r="1.6"/><circle cx="256.8" cy="233.5" r="1.6"/><circle cx="254.1" cy="223.1" r="1.6"/><circle cx="256.8" cy="228.8" r="1.6"/><circle cx="257.6" cy="224.6" r="1.6"/><circle cx="256.1" cy="213" r="1.6"/><circle cx="253.5" cy="237.3" r="1.6"/><circle cx="283" cy="209.4" r="1.6"/><circle cx="283" cy="212.5" r="1.6"/><circle cx="283" cy="218" r="1.6"/><circle cx="283" cy="221.5" r="1.6"/><circle cx="283" cy="223.5" r="1.6"/><circle cx="283" cy="245.4" r="1.6"/><circle cx="291.9" cy="248.8" r="1.6"/><circle cx="292" cy="249" r="1.6"/><circle cx="315.3" cy="184" r="1.6"/><circle cx="315.3" cy="198.1" r="1.6"/><circle cx="315.3" cy="248" r="1.6"/><circle cx="315.3" cy="250" r="1.6"/><circle cx="325.4" cy="207.5" r="1.6"/><circle cx="326.3" cy="227.2" r="1.6"/><circle cx="324.9" cy="221.7" r="1.6"/><circle cx="326.5" cy="230.5" r="1.6"/><circle cx="325.6" cy="218.7" r="1.6"/><circle cx="325.8" cy="210.4" r="1.6"/><circle cx="324.8" cy="210.2" r="1.6"/><circle cx="326.1" cy="215.4" r="1.6"/><circle cx="325.7" cy="216.6" r="1.6"/><circle cx="325.6" cy="209.3" r="1.6"/><circle cx="324.5" cy="249" r="1.6"/><circle cx="327" cy="249.5" r="1.6"/><circle cx="329" cy="249.3" r="1.6"/><circle cx="345.9" cy="211.5" r="1.6"/><circle cx="346.3" cy="220.8" r="1.6"/><circle cx="346.6" cy="214.2" r="1.6"/><circle cx="349" cy="209.5" r="1.6"/><circle cx="352" cy="215.2" r="1.6"/><circle cx="349.3" cy="220.7" r="1.6"/><circle cx="348.4" cy="224.4" r="1.6"/><circle cx="350.9" cy="207.5" r="1.6"/><circle cx="345.8" cy="211.7" r="1.6"/><circle cx="346.1" cy="217.4" r="1.6"/><circle cx="351.3" cy="223.2" r="1.6"/><circle cx="351.5" cy="218" r="1.6"/><circle cx="348.2" cy="223.4" r="1.6"/><circle cx="347.3" cy="218.6" r="1.6"/><circle cx="351.8" cy="214.9" r="1.6"/><circle cx="348.5" cy="223.5" r="1.6"/><circle cx="352" cy="209.6" r="1.6"/><circle cx="347.3" cy="222.5" r="1.6"/><circle cx="351.5" cy="200.7" r="1.6"/><circle cx="350.7" cy="220.4" r="1.6"/><circle cx="352" cy="211.2" r="1.6"/><circle cx="350.5" cy="221.4" r="1.6"/><circle cx="347.5" cy="220.4" r="1.6"/><circle cx="346.3" cy="212.9" r="1.6"/><circle cx="346.4" cy="211.5" r="1.6"/><circle cx="347.1" cy="219.2" r="1.6"/><circle cx="345.7" cy="205.6" r="1.6"/><circle cx="345.8" cy="206.4" r="1.6"/><circle cx="351.7" cy="228.3" r="1.6"/><circle cx="346.5" cy="210.5" r="1.6"/><circle cx="351.6" cy="219.8" r="1.6"/><circle cx="348.5" cy="221.3" r="1.6"/><circle cx="348.7" cy="211.1" r="1.6"/><circle cx="347" cy="219.7" r="1.6"/><circle cx="349.2" cy="222.1" r="1.6"/><circle cx="347.3" cy="211.3" r="1.6"/><circle cx="347.4" cy="210.2" r="1.6"/><circle cx="346.7" cy="213.8" r="1.6"/><circle cx="348" cy="248" r="1.6"/><circle cx="355.7" cy="249.6" r="1.6"/><circle cx="366.8" cy="192.4" r="1.6"/><circle cx="366.8" cy="198.5" r="1.6"/><circle cx="368.8" cy="222.7" r="1.6"/><circle cx="362.2" cy="212.3" r="1.6"/><circle cx="362.4" cy="211.1" r="1.6"/><circle cx="362.2" cy="223.4" r="1.6"/><circle cx="360.3" cy="219.5" r="1.6"/><circle cx="360.5" cy="215.2" r="1.6"/><circle cx="360.3" cy="217.3" r="1.6"/><circle cx="362.5" cy="230" r="1.6"/><circle cx="362.3" cy="212" r="1.6"/><circle cx="360.5" cy="227.9" r="1.6"/><circle cx="359.9" cy="224.5" r="1.6"/><circle cx="360.5" cy="229.6" r="1.6"/><circle cx="359.7" cy="226.1" r="1.6"/><circle cx="362.1" cy="239.8" r="1.6"/><circle cx="359.5" cy="248.8" r="1.6"/><circle cx="363.4" cy="240.4" r="1.6"/><circle cx="362.8" cy="249.9" r="1.6"/><circle cx="361.1" cy="245.4" r="1.6"/><circle cx="360.5" cy="240.3" r="1.6"/><circle cx="365.3" cy="247.3" r="1.6"/><circle cx="361" cy="239" r="1.6"/><circle cx="360.2" cy="245.9" r="1.6"/><circle cx="363.2" cy="241.6" r="1.6"/><circle cx="361" cy="246" r="1.6"/><circle cx="364.8" cy="248.6" r="1.6"/><circle cx="363.9" cy="240.6" r="1.6"/><circle cx="360" cy="247.5" r="1.6"/><circle cx="379.4" cy="208.9" r="1.6"/><circle cx="381.8" cy="223.8" r="1.6"/><circle cx="382.2" cy="212.2" r="1.6"/><circle cx="382.5" cy="224.2" r="1.6"/><circle cx="378.5" cy="223.6" r="1.6"/><circle cx="379.1" cy="217.2" r="1.6"/><circle cx="380.5" cy="219.3" r="1.6"/><circle cx="379.6" cy="213.7" r="1.6"/><circle cx="381.3" cy="227.7" r="1.6"/><circle cx="378.9" cy="216.4" r="1.6"/><circle cx="381.5" cy="224.2" r="1.6"/><circle cx="382.7" cy="219.2" r="1.6"/><circle cx="380.1" cy="212.3" r="1.6"/><circle cx="382.8" cy="214.6" r="1.6"/><circle cx="377.5" cy="223.4" r="1.6"/><circle cx="377.1" cy="221.8" r="1.6"/><circle cx="378.1" cy="220.4" r="1.6"/><circle cx="380.4" cy="221.8" r="1.6"/><circle cx="377.5" cy="224.2" r="1.6"/><circle cx="377.2" cy="218.9" r="1.6"/><circle cx="380" cy="213.7" r="1.6"/><circle cx="379.4" cy="220.3" r="1.6"/><circle cx="382.2" cy="220" r="1.6"/><circle cx="381.5" cy="223.6" r="1.6"/><circle cx="382.6" cy="217.9" r="1.6"/><circle cx="382" cy="217.5" r="1.6"/><circle cx="382.6" cy="215.5" r="1.6"/><circle cx="378.4" cy="218.1" r="1.6"/><circle cx="382.9" cy="228.8" r="1.6"/><circle cx="381.9" cy="208.8" r="1.6"/><circle cx="380.6" cy="249.2" r="1.6"/><circle cx="383.5" cy="244.6" r="1.6"/><circle cx="380" cy="247.1" r="1.6"/><circle cx="379.6" cy="246.5" r="1.6"/><circle cx="377.5" cy="245.8" r="1.6"/><circle cx="387" cy="199.1" r="1.6"/><circle cx="385.6" cy="227.9" r="1.6"/><circle cx="388.1" cy="226.9" r="1.6"/><circle cx="387.5" cy="223" r="1.6"/><circle cx="388.5" cy="225.3" r="1.6"/><circle cx="385.1" cy="217.9" r="1.6"/><circle cx="386.1" cy="219.1" r="1.6"/><circle cx="386.1" cy="214.9" r="1.6"/><circle cx="388.7" cy="217.3" r="1.6"/><circle cx="386" cy="214.3" r="1.6"/><circle cx="386.7" cy="227.3" r="1.6"/><circle cx="386.2" cy="207.8" r="1.6"/><circle cx="387.6" cy="202.1" r="1.6"/><circle cx="387.4" cy="227.5" r="1.6"/><circle cx="387.1" cy="206.6" r="1.6"/><circle cx="386.9" cy="214.7" r="1.6"/><circle cx="385.6" cy="202.3" r="1.6"/><circle cx="385.5" cy="207.4" r="1.6"/><circle cx="400.7" cy="206.1" r="1.6"/><circle cx="395.1" cy="218.6" r="1.6"/><circle cx="404.3" cy="214.7" r="1.6"/><circle cx="397.1" cy="210.5" r="1.6"/><circle cx="403.2" cy="210.8" r="1.6"/><circle cx="399" cy="205.7" r="1.6"/><circle cx="402.6" cy="213.3" r="1.6"/><circle cx="393.7" cy="219.1" r="1.6"/><circle cx="397.7" cy="211.3" r="1.6"/><circle cx="398.5" cy="206.3" r="1.6"/><circle cx="407.2" cy="202.4" r="1.6"/><circle cx="408.9" cy="202.3" r="1.6"/><circle cx="400.4" cy="216.4" r="1.6"/><circle cx="395.4" cy="221.1" r="1.6"/><circle cx="406.6" cy="208.1" r="1.6"/><circle cx="399.7" cy="213.9" r="1.6"/><circle cx="408.5" cy="212" r="1.6"/><circle cx="406.6" cy="218.2" r="1.6"/><circle cx="401.9" cy="216.9" r="1.6"/><circle cx="409.7" cy="219.3" r="1.6"/><circle cx="393.6" cy="213.8" r="1.6"/><circle cx="402.3" cy="213.4" r="1.6"/><circle cx="400.9" cy="221.1" r="1.6"/><circle cx="404.2" cy="210.5" r="1.6"/><circle cx="401.6" cy="206.2" r="1.6"/><circle cx="400.4" cy="209.1" r="1.6"/><circle cx="399.2" cy="220.5" r="1.6"/><circle cx="402.3" cy="204.9" r="1.6"/><circle cx="398.9" cy="213.1" r="1.6"/><circle cx="403.8" cy="220.3" r="1.6"/><circle cx="399.2" cy="220.2" r="1.6"/><circle cx="410.5" cy="210" r="1.6"/><circle cx="409.6" cy="202" r="1.6"/><circle cx="403.5" cy="220.3" r="1.6"/><circle cx="407.2" cy="222" r="1.6"/><circle cx="402.7" cy="215.4" r="1.6"/><circle cx="400.4" cy="213.5" r="1.6"/><circle cx="399.7" cy="216.1" r="1.6"/><circle cx="402.8" cy="208.9" r="1.6"/><circle cx="400.6" cy="213.1" r="1.6"/><circle cx="409.1" cy="211.2" r="1.6"/><circle cx="401.3" cy="221.9" r="1.6"/><circle cx="399.6" cy="218.1" r="1.6"/><circle cx="396.5" cy="221.5" r="1.6"/><circle cx="408.1" cy="203.3" r="1.6"/><circle cx="409.3" cy="218.2" r="1.6"/><circle cx="411" cy="209.5" r="1.6"/><circle cx="396.3" cy="211.7" r="1.6"/><circle cx="402.4" cy="204.8" r="1.6"/><circle cx="404.7" cy="208.4" r="1.6"/><circle cx="411.1" cy="201.9" r="1.6"/><circle cx="400.8" cy="206.6" r="1.6"/><circle cx="405.7" cy="207.4" r="1.6"/><circle cx="408.4" cy="215" r="1.6"/><circle cx="397" cy="212.6" r="1.6"/><circle cx="398.2" cy="212.2" r="1.6"/><circle cx="411.1" cy="209.6" r="1.6"/><circle cx="395.7" cy="216.9" r="1.6"/><circle cx="395.4" cy="204.6" r="1.6"/><circle cx="402.7" cy="214.5" r="1.6"/><circle cx="407.8" cy="201.3" r="1.6"/><circle cx="407.1" cy="216" r="1.6"/><circle cx="399.8" cy="206.6" r="1.6"/><circle cx="395.3" cy="213.7" r="1.6"/><circle cx="399.7" cy="209.1" r="1.6"/><circle cx="394.5" cy="213.7" r="1.6"/><circle cx="410.5" cy="214" r="1.6"/><circle cx="397.9" cy="220.5" r="1.6"/><circle cx="408.6" cy="219.9" r="1.6"/><circle cx="407.9" cy="213.7" r="1.6"/><circle cx="410.5" cy="220.9" r="1.6"/><circle cx="397.8" cy="216.1" r="1.6"/><circle cx="397.4" cy="219.4" r="1.6"/><circle cx="402.1" cy="205" r="1.6"/><circle cx="396.6" cy="204.9" r="1.6"/><circle cx="410.7" cy="212.8" r="1.6"/><circle cx="395.5" cy="209.1" r="1.6"/><circle cx="400.6" cy="203.6" r="1.6"/><circle cx="408.1" cy="206.1" r="1.6"/><circle cx="396.9" cy="206" r="1.6"/><circle cx="394.1" cy="208.2" r="1.6"/><circle cx="396.3" cy="201.1" r="1.6"/><circle cx="398.3" cy="202" r="1.6"/><circle cx="401.3" cy="219.4" r="1.6"/><circle cx="396.3" cy="216.2" r="1.6"/><circle cx="400.2" cy="204" r="1.6"/><circle cx="410.3" cy="205.8" r="1.6"/><circle cx="401.5" cy="215.8" r="1.6"/><circle cx="398.1" cy="213.8" r="1.6"/><circle cx="400" cy="213.8" r="1.6"/><circle cx="397.3" cy="201.9" r="1.6"/><circle cx="402.6" cy="206.7" r="1.6"/><circle cx="407.2" cy="214.8" r="1.6"/><circle cx="403.5" cy="209.2" r="1.6"/><circle cx="395" cy="218.9" r="1.6"/><circle cx="399.2" cy="203.3" r="1.6"/><circle cx="403.4" cy="211.5" r="1.6"/><circle cx="398.8" cy="207.5" r="1.6"/><circle cx="397.5" cy="216.1" r="1.6"/><circle cx="398.5" cy="220.1" r="1.6"/><circle cx="407.2" cy="220.8" r="1.6"/><circle cx="395.8" cy="201.6" r="1.6"/><circle cx="405.5" cy="208.4" r="1.6"/><circle cx="400.8" cy="215.7" r="1.6"/><circle cx="397.9" cy="207.7" r="1.6"/><circle cx="404.6" cy="203.4" r="1.6"/><circle cx="409.7" cy="217" r="1.6"/><circle cx="394.2" cy="204.4" r="1.6"/><circle cx="397" cy="209" r="1.6"/><circle cx="394.2" cy="214.4" r="1.6"/><circle cx="396.7" cy="213.4" r="1.6"/><circle cx="406.2" cy="210.1" r="1.6"/><circle cx="405.6" cy="201" r="1.6"/><circle cx="408.3" cy="206.1" r="1.6"/><circle cx="394.3" cy="214.3" r="1.6"/><circle cx="394.3" cy="203.3" r="1.6"/><circle cx="407.5" cy="220.2" r="1.6"/><circle cx="406.8" cy="215.6" r="1.6"/><circle cx="400.5" cy="220" r="1.6"/><circle cx="398.5" cy="220.9" r="1.6"/><circle cx="401" cy="216.5" r="1.6"/><circle cx="406.6" cy="214.8" r="1.6"/><circle cx="401.5" cy="215.7" r="1.6"/><circle cx="401.1" cy="220.5" r="1.6"/><circle cx="395.8" cy="199.8" r="1.6"/><circle cx="405.9" cy="205.4" r="1.6"/><circle cx="403.2" cy="215.1" r="1.6"/><circle cx="403.1" cy="202.2" r="1.6"/><circle cx="399.8" cy="205.2" r="1.6"/><circle cx="399" cy="215.8" r="1.6"/><circle cx="405.1" cy="234.8" r="1.6"/><circle cx="398.6" cy="240.3" r="1.6"/><circle cx="401.7" cy="248.7" r="1.6"/><circle cx="400.3" cy="236" r="1.6"/><circle cx="408.3" cy="232.8" r="1.6"/><circle cx="403.4" cy="236.7" r="1.6"/><circle cx="407.2" cy="241" r="1.6"/><circle cx="406.4" cy="233.4" r="1.6"/><circle cx="405" cy="242" r="1.6"/><circle cx="401.9" cy="245.3" r="1.6"/><circle cx="407.5" cy="232.3" r="1.6"/><circle cx="399.3" cy="237.2" r="1.6"/><circle cx="398.1" cy="231.2" r="1.6"/><circle cx="399.2" cy="233.9" r="1.6"/><circle cx="461.2" cy="198" r="1.6"/><circle cx="462.1" cy="239" r="1.6"/><circle cx="460.3" cy="236.7" r="1.6"/><circle cx="461.4" cy="237.4" r="1.6"/><circle cx="460.5" cy="232.1" r="1.6"/><circle cx="460" cy="248.9" r="1.6"/><circle cx="462.3" cy="232.3" r="1.6"/><circle cx="462.2" cy="248.6" r="1.6"/><circle cx="461.7" cy="232.8" r="1.6"/><circle cx="461.5" cy="238.7" r="1.6"/><circle cx="460.6" cy="240.7" r="1.6"/><circle cx="470" cy="224.5" r="1.6"/><circle cx="471.3" cy="216.3" r="1.6"/><circle cx="471.9" cy="217" r="1.6"/><circle cx="470.5" cy="205.5" r="1.6"/><circle cx="470.3" cy="199.3" r="1.6"/><circle cx="471.5" cy="222.3" r="1.6"/><circle cx="470.6" cy="203.8" r="1.6"/><circle cx="471.3" cy="222.4" r="1.6"/><circle cx="471.9" cy="203.3" r="1.6"/><circle cx="471.6" cy="222" r="1.6"/><circle cx="478.4" cy="169.2" r="1.6"/><circle cx="478.4" cy="187.4" r="1.6"/><circle cx="478.4" cy="193.4" r="1.6"/><circle cx="478.4" cy="244.5" r="1.6"/><circle cx="481.4" cy="249" r="1.6"/><circle cx="483.4" cy="249" r="1.6"/><circle cx="478" cy="211.7" r="1.6"/><circle cx="476.9" cy="222.6" r="1.6"/><circle cx="477.1" cy="212.6" r="1.6"/><circle cx="477.6" cy="212.7" r="1.6"/><circle cx="478.2" cy="209.8" r="1.6"/><circle cx="476.6" cy="217" r="1.6"/><circle cx="477.8" cy="222.5" r="1.6"/><circle cx="477.9" cy="224.3" r="1.6"/><circle cx="478.4" cy="215.4" r="1.6"/><circle cx="477.5" cy="208" r="1.6"/><circle cx="477.1" cy="217.3" r="1.6"/><circle cx="476.7" cy="219.6" r="1.6"/><circle cx="476.8" cy="214.3" r="1.6"/><circle cx="478.4" cy="206.6" r="1.6"/><circle cx="479.8" cy="211.2" r="1.6"/><circle cx="484.2" cy="222.3" r="1.6"/><circle cx="485.1" cy="214.7" r="1.6"/><circle cx="481.3" cy="216.7" r="1.6"/><circle cx="482.2" cy="215.5" r="1.6"/><circle cx="483.8" cy="224.4" r="1.6"/><circle cx="480.6" cy="215.5" r="1.6"/><circle cx="483.2" cy="211.3" r="1.6"/><circle cx="480.1" cy="215.8" r="1.6"/><circle cx="485.8" cy="223.7" r="1.6"/><circle cx="485.8" cy="218.6" r="1.6"/><circle cx="484.8" cy="219.5" r="1.6"/><circle cx="483.5" cy="217.7" r="1.6"/><circle cx="485.7" cy="219" r="1.6"/><circle cx="481.4" cy="223" r="1.6"/><circle cx="479.7" cy="219.5" r="1.6"/><circle cx="482.4" cy="219.2" r="1.6"/><circle cx="481.9" cy="215.1" r="1.6"/><circle cx="482.9" cy="214.7" r="1.6"/><circle cx="480.2" cy="223.1" r="1.6"/><circle cx="483.1" cy="222.7" r="1.6"/><circle cx="481.1" cy="217" r="1.6"/><circle cx="494.3" cy="216.9" r="1.6"/><circle cx="494" cy="205.8" r="1.6"/><circle cx="497.2" cy="205" r="1.6"/><circle cx="496.1" cy="214" r="1.6"/><circle cx="501.2" cy="220.9" r="1.6"/><circle cx="500" cy="227.8" r="1.6"/><circle cx="499.6" cy="223.8" r="1.6"/><circle cx="495.9" cy="227" r="1.6"/><circle cx="497.8" cy="202.9" r="1.6"/><circle cx="500.2" cy="208.9" r="1.6"/><circle cx="495.7" cy="217.9" r="1.6"/><circle cx="493.9" cy="220.7" r="1.6"/><circle cx="496.3" cy="219" r="1.6"/><circle cx="501.3" cy="225.9" r="1.6"/><circle cx="501.3" cy="221.6" r="1.6"/><circle cx="495.3" cy="221" r="1.6"/><circle cx="500.7" cy="212.3" r="1.6"/><circle cx="499.8" cy="222.4" r="1.6"/><circle cx="492" cy="205.5" r="1.6"/><circle cx="497.6" cy="202.2" r="1.6"/><circle cx="501.9" cy="209.4" r="1.6"/><circle cx="493.7" cy="224" r="1.6"/><circle cx="498" cy="203.5" r="1.6"/><circle cx="492.7" cy="204.6" r="1.6"/><circle cx="497.7" cy="220.2" r="1.6"/><circle cx="495.8" cy="224.9" r="1.6"/><circle cx="497.5" cy="223.2" r="1.6"/><circle cx="502.1" cy="211.6" r="1.6"/><circle cx="493.2" cy="224.8" r="1.6"/><circle cx="500.5" cy="207.6" r="1.6"/><circle cx="500.7" cy="212.8" r="1.6"/><circle cx="496.8" cy="224.1" r="1.6"/><circle cx="495.9" cy="218.7" r="1.6"/><circle cx="492.3" cy="208.4" r="1.6"/><circle cx="501.5" cy="204.1" r="1.6"/><circle cx="493.4" cy="214.7" r="1.6"/><circle cx="498" cy="211.8" r="1.6"/><circle cx="491.6" cy="211.3" r="1.6"/><circle cx="491.7" cy="227.7" r="1.6"/><circle cx="492" cy="219.8" r="1.6"/><circle cx="494.6" cy="215.5" r="1.6"/><circle cx="494.4" cy="216.2" r="1.6"/><circle cx="502.2" cy="199.5" r="1.6"/><circle cx="497.8" cy="227.4" r="1.6"/><circle cx="500.2" cy="218.9" r="1.6"/><circle cx="495.6" cy="222.9" r="1.6"/><circle cx="501.3" cy="221" r="1.6"/><circle cx="494.9" cy="223" r="1.6"/><circle cx="497.2" cy="211.8" r="1.6"/><circle cx="497.7" cy="204.5" r="1.6"/><circle cx="495.3" cy="227.7" r="1.6"/><circle cx="496.9" cy="209.1" r="1.6"/><circle cx="494.1" cy="206.4" r="1.6"/><circle cx="491.6" cy="213.4" r="1.6"/><circle cx="496.5" cy="210.6" r="1.6"/><circle cx="493.4" cy="210.5" r="1.6"/><circle cx="495" cy="216.7" r="1.6"/><circle cx="502" cy="226" r="1.6"/><circle cx="498" cy="207.5" r="1.6"/><circle cx="498" cy="210.3" r="1.6"/><circle cx="500.2" cy="224.7" r="1.6"/><circle cx="492.3" cy="225.5" r="1.6"/><circle cx="494.6" cy="203.6" r="1.6"/><circle cx="493.3" cy="220.6" r="1.6"/><circle cx="493.9" cy="208" r="1.6"/><circle cx="498.3" cy="219.9" r="1.6"/><circle cx="493.7" cy="230.4" r="1.6"/><circle cx="498.2" cy="223.2" r="1.6"/><circle cx="501.3" cy="206.4" r="1.6"/><circle cx="493.6" cy="224.9" r="1.6"/><circle cx="498.7" cy="205.4" r="1.6"/><circle cx="495.2" cy="219.9" r="1.6"/><circle cx="496" cy="211.4" r="1.6"/><circle cx="492.1" cy="204.1" r="1.6"/><circle cx="498.5" cy="215.4" r="1.6"/><circle cx="498.2" cy="214.6" r="1.6"/><circle cx="491.7" cy="217.1" r="1.6"/><circle cx="502.6" cy="218.3" r="1.6"/><circle cx="499.6" cy="205.3" r="1.6"/><circle cx="493.2" cy="222.2" r="1.6"/><circle cx="492.5" cy="212.5" r="1.6"/><circle cx="497.5" cy="216.9" r="1.6"/><circle cx="498.9" cy="211.3" r="1.6"/><circle cx="499.8" cy="220.8" r="1.6"/><circle cx="500" cy="208.7" r="1.6"/><circle cx="500.2" cy="213.4" r="1.6"/><circle cx="494.6" cy="226.5" r="1.6"/><circle cx="493" cy="214.9" r="1.6"/><circle cx="498.8" cy="210.4" r="1.6"/><circle cx="502.6" cy="221.9" r="1.6"/><circle cx="492.5" cy="206.4" r="1.6"/><circle cx="492.2" cy="216.9" r="1.6"/><circle cx="493.5" cy="210.5" r="1.6"/><circle cx="493.2" cy="221.4" r="1.6"/><circle cx="501.8" cy="203.7" r="1.6"/><circle cx="512.6" cy="226.6" r="1.6"/><circle cx="510.2" cy="211.3" r="1.6"/><circle cx="512.8" cy="210.8" r="1.6"/><circle cx="513.8" cy="220.6" r="1.6"/><circle cx="506.4" cy="212.6" r="1.6"/><circle cx="513.4" cy="216.5" r="1.6"/><circle cx="509.4" cy="228.8" r="1.6"/><circle cx="511.3" cy="209" r="1.6"/><circle cx="508.1" cy="208.6" r="1.6"/><circle cx="507.6" cy="219.2" r="1.6"/><circle cx="508.4" cy="205.7" r="1.6"/><circle cx="510.8" cy="223.7" r="1.6"/><circle cx="513.4" cy="221" r="1.6"/><circle cx="513" cy="211" r="1.6"/><circle cx="510.1" cy="204" r="1.6"/><circle cx="511.8" cy="213.9" r="1.6"/><circle cx="510.9" cy="205.5" r="1.6"/><circle cx="513.6" cy="221.7" r="1.6"/><circle cx="513.4" cy="223.7" r="1.6"/><circle cx="514.6" cy="203.6" r="1.6"/><circle cx="506.8" cy="199.2" r="1.6"/><circle cx="513.8" cy="220.7" r="1.6"/><circle cx="506.7" cy="219.4" r="1.6"/><circle cx="506.6" cy="225" r="1.6"/><circle cx="512.1" cy="229.9" r="1.6"/><circle cx="506.1" cy="222" r="1.6"/><circle cx="511.9" cy="215.1" r="1.6"/><circle cx="507.8" cy="205.5" r="1.6"/><circle cx="506" cy="208.9" r="1.6"/><circle cx="513.5" cy="214.7" r="1.6"/><circle cx="507" cy="207.3" r="1.6"/><circle cx="511.8" cy="220.7" r="1.6"/><circle cx="510.2" cy="211.5" r="1.6"/><circle cx="510.2" cy="209.9" r="1.6"/><circle cx="507.7" cy="226.8" r="1.6"/><circle cx="512.2" cy="207.3" r="1.6"/><circle cx="508.1" cy="204" r="1.6"/><circle cx="510.3" cy="216.4" r="1.6"/><circle cx="509" cy="219.5" r="1.6"/><circle cx="511.5" cy="216.2" r="1.6"/><circle cx="511.9" cy="226.5" r="1.6"/><circle cx="512.1" cy="210.6" r="1.6"/><circle cx="509.5" cy="211.1" r="1.6"/><circle cx="509.2" cy="206.4" r="1.6"/><circle cx="514.6" cy="217.6" r="1.6"/><circle cx="514" cy="217.7" r="1.6"/><circle cx="509.1" cy="207.8" r="1.6"/><circle cx="506.8" cy="223.7" r="1.6"/><circle cx="513.8" cy="219.7" r="1.6"/><circle cx="508.7" cy="216.2" r="1.6"/><circle cx="508.6" cy="198.9" r="1.6"/><circle cx="512.4" cy="215" r="1.6"/><circle cx="511" cy="206.3" r="1.6"/><circle cx="511.3" cy="210.9" r="1.6"/><circle cx="512.1" cy="215.6" r="1.6"/><circle cx="511.2" cy="210.7" r="1.6"/><circle cx="511.3" cy="208.4" r="1.6"/><circle cx="511.2" cy="224.8" r="1.6"/><circle cx="510" cy="215.4" r="1.6"/><circle cx="510" cy="206.4" r="1.6"/><circle cx="514" cy="215.6" r="1.6"/><circle cx="510.4" cy="206.4" r="1.6"/><circle cx="507.3" cy="213.4" r="1.6"/><circle cx="511.4" cy="227.2" r="1.6"/><circle cx="513.4" cy="212.2" r="1.6"/><circle cx="513.1" cy="202.8" r="1.6"/><circle cx="507.2" cy="205.5" r="1.6"/><circle cx="508.9" cy="215.4" r="1.6"/><circle cx="509.8" cy="212.5" r="1.6"/><circle cx="514.6" cy="213.8" r="1.6"/><circle cx="510" cy="222.9" r="1.6"/><circle cx="507.1" cy="211.8" r="1.6"/><circle cx="510.4" cy="211.9" r="1.6"/><circle cx="508.8" cy="203.4" r="1.6"/><circle cx="507.6" cy="204.4" r="1.6"/><circle cx="507.4" cy="207.6" r="1.6"/><circle cx="508.7" cy="223" r="1.6"/><circle cx="506.6" cy="223.6" r="1.6"/><circle cx="507.6" cy="222" r="1.6"/><circle cx="511.2" cy="204.1" r="1.6"/><circle cx="510.7" cy="249" r="1.6"/><circle cx="525.9" cy="160.1" r="1.6"/><circle cx="525.9" cy="184" r="1.6"/><circle cx="525.9" cy="204.1" r="1.6"/><circle cx="525.9" cy="246" r="1.6"/><circle cx="525.9" cy="250" r="1.6"/><circle cx="544.4" cy="218" r="1.6"/><circle cx="543" cy="216.6" r="1.6"/><circle cx="548.1" cy="211.1" r="1.6"/><circle cx="545.8" cy="199.8" r="1.6"/><circle cx="549.7" cy="205.8" r="1.6"/><circle cx="546.7" cy="204.5" r="1.6"/><circle cx="547.6" cy="214" r="1.6"/><circle cx="545" cy="218.7" r="1.6"/><circle cx="540.3" cy="212.7" r="1.6"/><circle cx="544.6" cy="207.3" r="1.6"/><circle cx="544.7" cy="208.1" r="1.6"/><circle cx="544.9" cy="220.3" r="1.6"/><circle cx="546.7" cy="206.8" r="1.6"/><circle cx="540.4" cy="214.6" r="1.6"/><circle cx="547.7" cy="197.3" r="1.6"/><circle cx="542.2" cy="220.2" r="1.6"/><circle cx="541" cy="218.8" r="1.6"/><circle cx="545.6" cy="217.3" r="1.6"/><circle cx="547.1" cy="204.2" r="1.6"/><circle cx="546.9" cy="215.3" r="1.6"/><circle cx="550" cy="222.5" r="1.6"/><circle cx="541.5" cy="213.9" r="1.6"/><circle cx="540.1" cy="202.6" r="1.6"/><circle cx="542.6" cy="208.4" r="1.6"/><circle cx="548.6" cy="213.7" r="1.6"/><circle cx="544.2" cy="209.4" r="1.6"/><circle cx="548.7" cy="222" r="1.6"/><circle cx="542.6" cy="204.1" r="1.6"/><circle cx="545.4" cy="212.7" r="1.6"/><circle cx="544.9" cy="210.7" r="1.6"/><circle cx="548" cy="222.3" r="1.6"/><circle cx="545.6" cy="209.6" r="1.6"/><circle cx="545.3" cy="214.9" r="1.6"/><circle cx="543.2" cy="219.7" r="1.6"/><circle cx="542.9" cy="220.2" r="1.6"/><circle cx="545.9" cy="222.6" r="1.6"/><circle cx="544.4" cy="195.3" r="1.6"/><circle cx="544.3" cy="204" r="1.6"/><circle cx="548.6" cy="215.5" r="1.6"/><circle cx="541.8" cy="212.1" r="1.6"/><circle cx="548" cy="217.2" r="1.6"/><circle cx="546.7" cy="207.4" r="1.6"/><circle cx="548.4" cy="222.3" r="1.6"/><circle cx="542.1" cy="205" r="1.6"/><circle cx="547.8" cy="207.3" r="1.6"/><circle cx="545.3" cy="239.6" r="1.6"/><circle cx="547.2" cy="245.6" r="1.6"/><circle cx="541.2" cy="236.8" r="1.6"/><circle cx="545.6" cy="236.6" r="1.6"/><circle cx="546.7" cy="240.1" r="1.6"/><circle cx="541.9" cy="244.1" r="1.6"/><circle cx="542.5" cy="243.8" r="1.6"/><circle cx="541.2" cy="248.8" r="1.6"/><circle cx="542.6" cy="247.8" r="1.6"/><circle cx="541.2" cy="247.2" r="1.6"/><circle cx="547.8" cy="241.5" r="1.6"/><circle cx="540.3" cy="241.3" r="1.6"/><circle cx="567.5" cy="213.3" r="1.6"/><circle cx="567" cy="211.7" r="1.6"/><circle cx="566.6" cy="219.4" r="1.6"/><circle cx="566.4" cy="218.8" r="1.6"/><circle cx="564.8" cy="220.6" r="1.6"/><circle cx="564.8" cy="221.8" r="1.6"/><circle cx="569.3" cy="222" r="1.6"/><circle cx="566.9" cy="214.1" r="1.6"/><circle cx="566" cy="219.7" r="1.6"/><circle cx="566.7" cy="221.9" r="1.6"/><circle cx="567.3" cy="244" r="1.6"/><circle cx="567.3" cy="247" r="1.6"/><circle cx="575" cy="221.8" r="1.6"/><circle cx="578.5" cy="209.4" r="1.6"/><circle cx="575.3" cy="222.3" r="1.6"/><circle cx="580.3" cy="222.8" r="1.6"/><circle cx="574.5" cy="223.5" r="1.6"/><circle cx="576.7" cy="221.1" r="1.6"/><circle cx="574.7" cy="215.2" r="1.6"/><circle cx="576.1" cy="209" r="1.6"/><circle cx="579.9" cy="209.1" r="1.6"/><circle cx="578.3" cy="216.8" r="1.6"/><circle cx="579.9" cy="215.4" r="1.6"/><circle cx="574.5" cy="209.6" r="1.6"/><circle cx="578.9" cy="217.2" r="1.6"/><circle cx="576.8" cy="218.6" r="1.6"/><circle cx="575.5" cy="223.1" r="1.6"/><circle cx="576.7" cy="226.6" r="1.6"/><circle cx="577.7" cy="209.5" r="1.6"/><circle cx="580.5" cy="215.9" r="1.6"/><circle cx="578.1" cy="215.5" r="1.6"/><circle cx="575.5" cy="216.1" r="1.6"/><circle cx="576.9" cy="214.5" r="1.6"/><circle cx="575.7" cy="211.8" r="1.6"/><circle cx="580.5" cy="222.2" r="1.6"/><circle cx="574.4" cy="216.9" r="1.6"/><circle cx="579.9" cy="219" r="1.6"/><circle cx="575.9" cy="208.4" r="1.6"/><circle cx="576.2" cy="214.3" r="1.6"/><circle cx="578" cy="222.2" r="1.6"/><circle cx="588.1" cy="209" r="1.6"/><circle cx="591.7" cy="218.2" r="1.6"/><circle cx="587.9" cy="215.2" r="1.6"/><circle cx="594.4" cy="215.5" r="1.6"/><circle cx="592.3" cy="208.5" r="1.6"/><circle cx="593.2" cy="220.7" r="1.6"/><circle cx="587.6" cy="210.3" r="1.6"/><circle cx="590.3" cy="209.2" r="1.6"/><circle cx="592.6" cy="207.6" r="1.6"/><circle cx="589.9" cy="208.4" r="1.6"/><circle cx="589" cy="221.6" r="1.6"/><circle cx="594.5" cy="212.1" r="1.6"/><circle cx="591" cy="223.4" r="1.6"/><circle cx="592.8" cy="208.4" r="1.6"/><circle cx="591.9" cy="220.2" r="1.6"/><circle cx="588.1" cy="208.7" r="1.6"/><circle cx="588.6" cy="217.2" r="1.6"/><circle cx="592.7" cy="219.1" r="1.6"/><circle cx="594.1" cy="219.1" r="1.6"/><circle cx="593.3" cy="215" r="1.6"/><circle cx="590.5" cy="220.1" r="1.6"/><circle cx="593.6" cy="221.3" r="1.6"/><circle cx="591.2" cy="202.5" r="1.6"/><circle cx="594.3" cy="206.1" r="1.6"/><circle cx="593.4" cy="208.4" r="1.6"/><circle cx="590.7" cy="213.4" r="1.6"/><circle cx="593.9" cy="217.1" r="1.6"/><circle cx="590.2" cy="220.4" r="1.6"/><circle cx="592.3" cy="221.2" r="1.6"/><circle cx="590.3" cy="216.1" r="1.6"/><circle cx="593.4" cy="215.1" r="1.6"/><circle cx="593.4" cy="199.6" r="1.6"/><circle cx="590.9" cy="206.9" r="1.6"/><circle cx="593.2" cy="215.3" r="1.6"/><circle cx="590.7" cy="208.6" r="1.6"/><circle cx="590" cy="215.8" r="1.6"/><circle cx="589.5" cy="209.6" r="1.6"/><circle cx="592.4" cy="216.2" r="1.6"/><circle cx="593.1" cy="216.6" r="1.6"/><circle cx="587.8" cy="204.3" r="1.6"/><circle cx="592.8" cy="235.7" r="1.6"/><circle cx="593.1" cy="230.6" r="1.6"/><circle cx="594.7" cy="233.3" r="1.6"/><circle cx="594.7" cy="231.8" r="1.6"/><circle cx="593.5" cy="235.7" r="1.6"/><circle cx="619.4" cy="250.2" r="1.6"/><circle cx="602.9" cy="250.1" r="1.6"/><circle cx="601.4" cy="248.8" r="1.6"/><circle cx="593" cy="247.5" r="1.6"/><circle cx="642.1" cy="246.9" r="1.6"/><circle cx="635.1" cy="246.2" r="1.6"/><circle cx="611.3" cy="246.5" r="1.6"/><circle cx="621.7" cy="249.6" r="1.6"/><circle cx="619.7" cy="247.4" r="1.6"/><circle cx="641.3" cy="249" r="1.6"/><circle cx="627.6" cy="245.7" r="1.6"/><circle cx="625.4" cy="247.5" r="1.6"/><circle cx="642.8" cy="246.4" r="1.6"/><circle cx="627.4" cy="248.3" r="1.6"/><circle cx="612.5" cy="248.4" r="1.6"/><circle cx="628.2" cy="249.5" r="1.6"/><circle cx="618.9" cy="247.4" r="1.6"/><circle cx="643.8" cy="245" r="1.6"/><circle cx="636.4" cy="248.2" r="1.6"/><circle cx="622" cy="247.6" r="1.6"/><circle cx="632.1" cy="249.3" r="1.6"/><circle cx="630.9" cy="248.7" r="1.6"/><circle cx="594.8" cy="248.1" r="1.6"/><circle cx="600.1" cy="250.8" r="1.6"/><circle cx="639.4" cy="245.6" r="1.6"/><circle cx="623.6" cy="248.2" r="1.6"/><circle cx="595.4" cy="248.4" r="1.6"/><circle cx="631.9" cy="248.2" r="1.6"/><circle cx="607.6" cy="249.6" r="1.6"/><circle cx="608.1" cy="248.6" r="1.6"/><circle cx="614.9" cy="250.4" r="1.6"/><circle cx="626.7" cy="249.1" r="1.6"/><circle cx="628.2" cy="247.1" r="1.6"/><circle cx="643.1" cy="248" r="1.6"/><circle cx="628.9" cy="246.6" r="1.6"/><circle cx="601.4" cy="249" r="1.6"/><circle cx="635.9" cy="248.7" r="1.6"/><circle cx="611.1" cy="246.6" r="1.6"/><circle cx="619.8" cy="249.7" r="1.6"/><circle cx="601.4" cy="249.8" r="1.6"/><circle cx="601.9" cy="247.8" r="1.6"/><circle cx="595.8" cy="248" r="1.6"/><circle cx="612.9" cy="250.4" r="1.6"/><circle cx="643" cy="245.6" r="1.6"/><circle cx="609.1" cy="250.4" r="1.6"/><circle cx="603.3" cy="247.8" r="1.6"/><circle cx="615.8" cy="246.3" r="1.6"/><circle cx="606.5" cy="248" r="1.6"/><circle cx="613" cy="250.4" r="1.6"/><circle cx="606.9" cy="247.1" r="1.6"/><circle cx="640.3" cy="247" r="1.6"/><circle cx="636.5" cy="248" r="1.6"/><circle cx="633.5" cy="246.6" r="1.6"/><circle cx="600.9" cy="249.9" r="1.6"/><circle cx="617.5" cy="248.3" r="1.6"/><circle cx="627.9" cy="248.8" r="1.6"/><circle cx="607.3" cy="247.8" r="1.6"/><circle cx="640.7" cy="247.3" r="1.6"/><circle cx="608" cy="249" r="1.6"/><circle cx="606.5" cy="249.7" r="1.6"/><circle cx="595.1" cy="250.4" r="1.6"/><circle cx="622.5" cy="247.2" r="1.6"/><circle cx="641.9" cy="246" r="1.6"/><circle cx="605.7" cy="246.5" r="1.6"/><circle cx="621.5" cy="249.1" r="1.6"/><circle cx="628.3" cy="247.2" r="1.6"/><circle cx="635" cy="245.6" r="1.6"/><circle cx="609" cy="249.1" r="1.6"/><circle cx="643.3" cy="247.7" r="1.6"/><circle cx="629" cy="248.9" r="1.6"/><circle cx="613.5" cy="250.2" r="1.6"/><circle cx="631.6" cy="246.8" r="1.6"/><circle cx="613.4" cy="249.6" r="1.6"/><circle cx="611.2" cy="246.9" r="1.6"/><circle cx="638.3" cy="247.4" r="1.6"/><circle cx="620.1" cy="248.7" r="1.6"/><circle cx="639.9" cy="245.5" r="1.6"/><circle cx="610.6" cy="246.3" r="1.6"/><circle cx="614.5" cy="248.2" r="1.6"/><circle cx="637.3" cy="248.1" r="1.6"/><circle cx="623" cy="247.4" r="1.6"/><circle cx="622.8" cy="246.8" r="1.6"/><circle cx="636.9" cy="248.6" r="1.6"/><circle cx="636.6" cy="245.7" r="1.6"/><circle cx="627.9" cy="248.8" r="1.6"/><circle cx="619" cy="249.8" r="1.6"/><circle cx="639.7" cy="248.3" r="1.6"/><circle cx="635.7" cy="248" r="1.6"/><circle cx="638.7" cy="245.5" r="1.6"/><circle cx="629.6" cy="248.5" r="1.6"/><circle cx="624.8" cy="246.7" r="1.6"/><circle cx="596.5" cy="249.3" r="1.6"/><circle cx="635.9" cy="246.3" r="1.6"/><circle cx="604.1" cy="247.3" r="1.6"/><circle cx="597.9" cy="249.6" r="1.6"/><circle cx="643.7" cy="248.4" r="1.6"/><circle cx="611.7" cy="249.2" r="1.6"/><circle cx="596.8" cy="250.4" r="1.6"/><circle cx="609.9" cy="246.1" r="1.6"/><circle cx="625.7" cy="246.1" r="1.6"/><circle cx="607.3" cy="246.4" r="1.6"/><circle cx="616.2" cy="248.4" r="1.6"/><circle cx="635" cy="245.3" r="1.6"/><circle cx="636" cy="245.6" r="1.6"/><circle cx="604.7" cy="249.1" r="1.6"/><circle cx="610.7" cy="247.5" r="1.6"/><circle cx="622.6" cy="246.6" r="1.6"/><circle cx="634.3" cy="246.1" r="1.6"/><circle cx="636.6" cy="248.7" r="1.6"/><circle cx="620.9" cy="245.8" r="1.6"/><circle cx="633.5" cy="245.3" r="1.6"/><circle cx="619.2" cy="247.6" r="1.6"/><circle cx="596.3" cy="249.5" r="1.6"/><circle cx="630.7" cy="247.9" r="1.6"/><circle cx="613.8" cy="248.3" r="1.6"/><circle cx="623.6" cy="246.6" r="1.6"/><circle cx="638.1" cy="249.5" r="1.6"/><circle cx="634.8" cy="249.5" r="1.6"/><circle cx="610.1" cy="250.6" r="1.6"/><circle cx="596.7" cy="248.8" r="1.6"/><circle cx="648.1" cy="243" r="1.6"/><circle cx="660.7" cy="246.9" r="1.6"/><circle cx="655.5" cy="242.9" r="1.6"/><circle cx="649.4" cy="242.7" r="1.6"/><circle cx="651.5" cy="241.1" r="1.6"/><circle cx="661.9" cy="245.4" r="1.6"/><circle cx="655.1" cy="241.6" r="1.6"/><circle cx="661.2" cy="242.4" r="1.6"/><circle cx="651.1" cy="244.3" r="1.6"/><circle cx="661.1" cy="249.4" r="1.6"/><circle cx="662.2" cy="249.3" r="1.6"/><circle cx="666.2" cy="247.8" r="1.6"/><circle cx="661.5" cy="241.2" r="1.6"/><circle cx="649.7" cy="239.2" r="1.6"/><circle cx="664.9" cy="247.6" r="1.6"/><circle cx="659.5" cy="242.8" r="1.6"/><circle cx="653.2" cy="241" r="1.6"/><circle cx="659.5" cy="249.3" r="1.6"/><circle cx="652" cy="239.8" r="1.6"/><circle cx="649" cy="242.2" r="1.6"/><circle cx="665.7" cy="248.4" r="1.6"/><circle cx="655.5" cy="240.8" r="1.6"/><circle cx="647.5" cy="240.2" r="1.6"/><circle cx="662.9" cy="245.1" r="1.6"/><circle cx="667.8" cy="249.7" r="1.6"/><circle cx="663.3" cy="245.2" r="1.6"/><circle cx="663.9" cy="242.1" r="1.6"/><circle cx="647.5" cy="243.9" r="1.6"/><circle cx="656.7" cy="241.9" r="1.6"/><circle cx="650.8" cy="239.4" r="1.6"/><circle cx="665.9" cy="247.6" r="1.6"/><circle cx="666.7" cy="250.2" r="1.6"/><circle cx="655" cy="246.4" r="1.6"/><circle cx="653.8" cy="247" r="1.6"/><circle cx="664.4" cy="242.2" r="1.6"/><circle cx="645.3" cy="240.5" r="1.6"/><circle cx="658.5" cy="243.7" r="1.6"/><circle cx="645.2" cy="246" r="1.6"/><circle cx="663.1" cy="245" r="1.6"/><circle cx="646" cy="246.6" r="1.6"/><circle cx="657.3" cy="240.7" r="1.6"/><circle cx="652.4" cy="245.1" r="1.6"/><circle cx="665.4" cy="245.5" r="1.6"/><circle cx="659.7" cy="242.3" r="1.6"/><circle cx="650.6" cy="247.4" r="1.6"/><circle cx="653.8" cy="240.6" r="1.6"/><circle cx="658.6" cy="241.4" r="1.6"/><circle cx="649.6" cy="243.2" r="1.6"/><circle cx="658.5" cy="246" r="1.6"/><circle cx="661.3" cy="244.6" r="1.6"/><circle cx="646.6" cy="245.2" r="1.6"/><circle cx="646.2" cy="242.9" r="1.6"/><circle cx="654.2" cy="245.8" r="1.6"/><circle cx="661.4" cy="242.8" r="1.6"/><circle cx="659.9" cy="246.7" r="1.6"/><circle cx="655.8" cy="241.2" r="1.6"/><circle cx="665.9" cy="246.6" r="1.6"/><circle cx="646.4" cy="240.8" r="1.6"/><circle cx="667.7" cy="243.5" r="1.6"/><circle cx="654" cy="246.8" r="1.6"/><circle cx="663.9" cy="246.7" r="1.6"/><circle cx="662.1" cy="241.1" r="1.6"/><circle cx="647.2" cy="247.6" r="1.6"/><circle cx="663.5" cy="241.3" r="1.6"/><circle cx="646.1" cy="240.8" r="1.6"/><circle cx="666.4" cy="243.3" r="1.6"/><circle cx="660.5" cy="248.9" r="1.6"/><circle cx="659.7" cy="248.7" r="1.6"/><circle cx="651" cy="240.7" r="1.6"/><circle cx="645.4" cy="245.4" r="1.6"/><circle cx="647.4" cy="247.6" r="1.6"/><circle cx="661.3" cy="242.3" r="1.6"/><circle cx="663.6" cy="242.4" r="1.6"/><circle cx="656.8" cy="241" r="1.6"/><circle cx="663.1" cy="248.9" r="1.6"/><circle cx="666.1" cy="241.3" r="1.6"/><circle cx="664.6" cy="246.1" r="1.6"/><circle cx="663.9" cy="245.5" r="1.6"/><circle cx="659.3" cy="245.7" r="1.6"/><circle cx="663.4" cy="241.6" r="1.6"/><circle cx="646.2" cy="243.6" r="1.6"/><circle cx="651.7" cy="242.9" r="1.6"/><circle cx="645.2" cy="245.2" r="1.6"/><circle cx="645.6" cy="246" r="1.6"/><circle cx="663.7" cy="245.1" r="1.6"/><circle cx="628" cy="240.5" r="1.6"/><circle cx="649" cy="236" r="1.6"/><circle cx="653" cy="235" r="1.6"/><circle cx="657" cy="236.5" r="1.6"/><circle cx="661" cy="238" r="1.6"/><circle cx="655" cy="239" r="1.6"/></g>
<path d="M147 368.4 L147.3 375.7 L147.6 369.3 L148 370.1 L148.3 375.3 L148.6 371.1 L148.9 366.8 L149.2 364.6 L149.6 373.2 L149.9 369.3 L150.2 370.5 L150.5 369.6 L150.8 378.6 L151.2 363.5 L151.5 373.5 L151.8 382.3 L152.1 379.4 L152.4 369.3 L152.8 370 L153.1 366 L153.4 370.4 L153.7 369.9 L154 368.1 L154.4 371.5 L154.7 367 L155 366.9 L155.3 374.9 L155.6 369.7 L156 367.1 L156.3 370.9 L156.6 373.1 L156.9 367.3 L157.2 371.3 L157.6 371 L157.9 368.8 L158.2 371.4 L158.5 371.9 L158.8 370.5 L159.2 375.4 L159.5 381.1 L159.8 372.5 L160.1 382.2 L160.4 385.6 L160.8 374.9 L161.1 376.4 L161.4 369.1 L161.7 378.7 L162 373.7 L162.4 381.2 L162.7 374.7 L163 378 L163.3 378.2 L163.6 375.6 L164 387.4 L164.3 375.5 L164.6 370.9 L164.9 367 L165.2 370.7 L165.6 380.7 L165.9 373.1 L166.2 379 L166.5 369.6 L166.8 374.9 L167.2 372.6 L167.5 373.8 L167.8 370.2 L168.1 380 L168.4 376.6 L168.8 375.7 L169.1 377.6 L169.4 377.3 L169.7 366 L170 375.3 L170.4 373.4 L170.7 373.3 L171 384.7 L171.3 366.7 L171.6 372.8 L172 377.7 L172.3 369.4 L172.6 383 L172.9 380.1 L173.2 372.9 L173.6 372.4 L173.9 379.1 L174.2 368.2 L174.5 365.9 L174.8 371.6 L175.2 366.3 L175.5 362.7 L175.8 369.1 L176.1 364.3 L176.4 370.3 L176.8 364.6 L177.1 370.2 L177.4 365.7 L177.7 379.6 L178 368.3 L178.4 372.4 L178.7 372.8 L179 375.6 L179.3 373.2 L179.6 371.5 L180 375.4 L180.3 378.2 L180.6 375.4 L180.9 370 L181.2 369.9 L181.6 368 L181.9 374.3 L182.2 370.7 L182.5 370.5 L182.8 364.7 L183.2 367.7 L183.5 372.3 L183.8 371.4 L184.1 372.7 L184.4 378 L184.8 373.4 L185.1 380.4 L185.4 373.6 L185.7 381.2 L186 375.4 L186.4 377.1 L186.7 367.4 L187 371.3 L187.3 375.2 L187.6 373.9 L188 365.7 L188.3 372 L188.6 368 L188.9 365.5 L189.2 363.2 L189.6 373 L189.9 369 L190.2 373 L190.5 381.1 L190.8 379.6 L191.2 369 L191.5 373.4 L191.8 370.4 L192.1 372.7 L192.4 363.3 L192.8 366.8 L193.1 368.8 L193.4 363.3 L193.7 367.5 L194 371.5 L194.4 369.9 L194.7 361.9 L195 365.4 L195.3 377.5 L195.6 372.8 L196 382.6 L196.3 379.8 L196.6 373.8 L196.9 375.2 L197.2 372.9 L197.6 383.3 L197.9 376.6 L198.2 386.4 L198.5 377.6 L198.8 379.6 L199.2 383.6 L199.5 385.8 L199.8 388.3 L200.1 381.5 L200.4 378.7 L200.8 385.5 L201.1 383.9 L201.4 377.6 L201.7 378.8 L202 372.3 L202.4 376.1 L202.7 378.2 L203 381.9 L203.3 373.8 L203.6 377.9 L204 373.3 L204.3 376.4 L204.6 374.5 L204.9 377 L205.2 374.6 L205.6 368.6 L205.9 371.6 L206.2 368.9 L206.5 378.6 L206.8 373 L207.2 381.1 L207.5 379.6 L207.8 375.7 L208.1 374.8 L208.4 370.8 L208.8 370.1 L209.1 379.2 L209.4 370.2 L209.7 367.5 L210 373.9 L210.4 370.6 L210.7 377.5 L211 366.8 L211.3 365.6 L211.6 362.1 L212 370.4 L212.3 375.9 L212.6 375.6 L212.9 373.3 L213.2 377.5 L213.6 380 L213.9 371.6 L214.2 374.3 L214.5 374.2 L214.8 366.7 L215.2 377.9 L215.5 370.3 L215.8 370.6 L216.1 366.2 L216.4 371.9 L216.8 379.9 L217.1 377 L217.4 380.7 L217.7 368.9 L218 373.6 L218.4 371 L218.7 378.5 L219 363.5 L219.3 377.7 L219.6 374.4 L220 383.9 L220.3 382.7 L220.6 377.6 L220.9 373.3 L221.2 375.1 L221.6 373.6 L221.9 369.9 L222.2 372.1 L222.5 367 L222.8 363.4 L223.2 369.7 L223.5 374.5 L223.8 372.7 L224.1 380.9 L224.4 385.9 L224.8 373.5 L225.1 373.1 L225.4 377.7 L225.7 378 L226 378.9 L226.4 379.7 L226.7 380.8 L227 384.1 L227.3 379.2 L227.6 386.3 L228 378.2 L228.3 385.4 L228.6 383.4 L228.9 381.7 L229.2 389.3 L229.6 383.4 L229.9 370.5 L230.2 383.2 L230.5 370.3 L230.8 373.2 L231.2 379.8 L231.5 380.3 L231.8 371.2 L232.1 375.4 L232.4 390.5 L232.8 382.3 L233.1 381.3 L233.4 371.3 L233.7 376.6 L234 367.8 L234.4 375.2 L234.7 374.5 L235 380.8 L235.3 376.5 L235.6 378.9 L236 375.2 L236.3 375.4 L236.6 381.2 L236.9 378.2 L237.2 385.7 L237.6 389.5 L237.9 394.7 L238.2 384.5 L238.5 392.2 L238.8 377.7 L239.2 379.4 L239.5 373.3 L239.8 368.4 L240.1 362.9 L240.4 356.5 L240.8 348.6 L241.1 344.8 L241.4 349.8 L241.7 355.1 L242 362.5 L242.4 367.8 L242.7 375.6 L243 377.5 L243.3 375.6 L243.6 375.8 L244 375.9 L244.3 376.6 L244.6 376 L244.9 380 L245.2 375.4 L245.6 378.4 L245.9 372.3 L246.2 373.8 L246.5 373.8 L246.8 372.1 L247.2 373.7 L247.5 374.6 L247.8 372.6 L248.1 374.5 L248.4 374.3 L248.8 369.9 L249.1 375.2 L249.4 369 L249.7 371.9 L250 372.1 L250.4 368.6 L250.7 371.1 L251 374.3 L251.3 372.8 L251.6 372.3 L252 374.3 L252.3 374.9 L252.6 375.3 L252.9 377.6 L253.2 375.1 L253.6 372.4 L253.9 371.7 L254.2 371.5 L254.5 367.3 L254.8 374.8 L255.2 367.1 L255.5 367.5 L255.8 369.8 L256.1 369.2 L256.4 369.7 L256.8 370.5 L257.1 369.5 L257.4 371.6 L257.7 374.4 L258 374.2 L258.4 371.5 L258.7 373.3 L259 380.5 L259.3 378.6 L259.6 372.2 L260 369.1 L260.3 368.2 L260.6 363.6 L260.9 361.2 L261.2 363.4 L261.6 366.2 L261.9 368.1 L262.2 370.8 L262.5 366.7 L262.8 371.6 L263.2 376 L263.5 373.9 L263.8 373.5 L264.1 374.4 L264.4 377.9 L264.8 377.4 L265.1 379.5 L265.4 373.8 L265.7 371.4 L266 373.5 L266.4 371.8 L266.7 376.3 L267 372.4 L267.3 377.2 L267.6 370.7 L268 375.9 L268.3 375 L268.6 368.8 L268.9 371.4 L269.2 368.9 L269.6 373.7 L269.9 375.3 L270.2 372.5 L270.5 371.9 L270.8 374.1 L271.2 376.9 L271.5 380.6 L271.8 375.5 L272.1 377.5 L272.4 375.8 L272.8 377.4 L273.1 371.6 L273.4 370.3 L273.7 372.3 L274 372.9 L274.4 369.9 L274.7 372.3 L275 367.2 L275.3 370.1 L275.6 366.1 L276 371.5 L276.3 373.7 L276.6 372.1 L276.9 378 L277.2 370.5 L277.6 368.4 L277.9 373.1 L278.2 366.5 L278.5 365.6 L278.8 373.4 L279.2 377.6 L279.5 375.3 L279.8 372.1 L280.1 372.7 L280.4 373.3 L280.8 370.7 L281.1 371.6 L281.4 372.9 L281.7 374.2 L282 374.7 L282.4 374.3 L282.7 374.5 L283 378.4 L283.3 371.8 L283.6 375.4 L284 371.8 L284.3 377.9 L284.6 370.5 L284.9 377.3 L285.2 377.3 L285.6 370.8 L285.9 372.8 L286.2 371.1 L286.5 368.6 L286.8 371.4 L287.2 377.2 L287.5 378.3 L287.8 368.9 L288.1 373.7 L288.4 376.2 L288.8 375.5 L289.1 376.9 L289.4 380 L289.7 373.9 L290 381.1 L290.4 373.7 L290.7 369.9 L291 374.3 L291.3 373.6 L291.6 378 L292 378.2 L292.3 378.7 L292.6 373.6 L292.9 379.7 L293.2 370.2 L293.6 373 L293.9 371.1 L294.2 375.4 L294.5 375.6 L294.8 373 L295.2 372.9 L295.5 369.3 L295.8 378.2 L296.1 371.2 L296.4 370.6 L296.8 367.6 L297.1 367.3 L297.4 365.2 L297.7 359 L298 351.7 L298.4 344.3 L298.7 341.5 L299 347.5 L299.3 356.5 L299.6 364.6 L300 373.8 L300.3 378.6 L300.6 378 L300.9 377.1 L301.2 379.8 L301.6 374.9 L301.9 375.3 L302.2 373.1 L302.5 376.1 L302.8 374.5 L303.2 373.3 L303.5 370.5 L303.8 376.1 L304.1 371.7 L304.4 374 L304.8 372.1 L305.1 367.8 L305.4 369.9 L305.7 364.2 L306 370 L306.4 373.6 L306.7 369.3 L307 366 L307.3 377.4 L307.6 374.4 L308 363.7 L308.3 369.4 L308.6 380 L308.9 365.6 L309.2 367.7 L309.6 368.2 L309.9 364.8 L310.2 364.6 L310.5 371.6 L310.8 364.5 L311.2 359.4 L311.5 353.7 L311.8 346 L312.1 345 L312.4 350 L312.8 355.1 L313.1 363.2 L313.4 364.1 L313.7 369.4 L314 370.2 L314.4 373.9 L314.7 368.3 L315 366.1 L315.3 365.1 L315.6 367.5 L316 368.7 L316.3 367 L316.6 368.5 L316.9 372.8 L317.2 377.7 L317.6 372.1 L317.9 370.8 L318.2 376.3 L318.5 375.6 L318.8 372.2 L319.2 371.3 L319.5 377.6 L319.8 367.9 L320.1 370.5 L320.4 370 L320.8 370.1 L321.1 367.5 L321.4 366.1 L321.7 365 L322 368.7 L322.4 367.6 L322.7 366.2 L323 366.5 L323.3 358.2 L323.6 353.3 L324 343.1 L324.3 338.7 L324.6 330.5 L324.9 339 L325.2 347.7 L325.6 355.6 L325.9 366.3 L326.2 374.1 L326.5 377 L326.8 374.3 L327.2 377.9 L327.5 377.4 L327.8 373.4 L328.1 375.8 L328.4 369.6 L328.8 371 L329.1 373.5 L329.4 371.8 L329.7 371.5 L330 365.9 L330.4 367.9 L330.7 374.1 L331 363.1 L331.3 371.9 L331.6 369.7 L332 370.9 L332.3 372.6 L332.6 377.5 L332.9 374.3 L333.2 368.8 L333.6 371.2 L333.9 373.7 L334.2 371.4 L334.5 368.7 L334.8 372.1 L335.2 376.4 L335.5 373.2 L335.8 373.9 L336.1 375.2 L336.4 370.8 L336.8 371.1 L337.1 371.9 L337.4 376.3 L337.7 373.5 L338 377.4 L338.4 373.2 L338.7 376.7 L339 378.6 L339.3 376.5 L339.6 375.8 L340 373.8 L340.3 378.1 L340.6 377.5 L340.9 381.7 L341.2 374.2 L341.6 371.8 L341.9 377.7 L342.2 371.5 L342.5 379.7 L342.8 373.9 L343.2 371.5 L343.5 373.4 L343.8 367.9 L344.1 378.4 L344.4 368.2 L344.8 371.3 L345.1 369.6 L345.4 367.2 L345.7 369.9 L346 371.4 L346.4 368.8 L346.7 374.8 L347 371.5 L347.3 374.7 L347.6 371 L348 370.7 L348.3 375.1 L348.6 372.1 L348.9 363.1 L349.2 361.7 L349.6 356.7 L349.9 352 L350.2 353.1 L350.5 357.8 L350.8 360.6 L351.2 367.6 L351.5 377.8 L351.8 374.4 L352.1 366.4 L352.4 369.7 L352.8 372.4 L353.1 370.6 L353.4 370.2 L353.7 368.7 L354 372 L354.4 371.8 L354.7 373.2 L355 371.4 L355.3 375.6 L355.6 370.2 L356 373.9 L356.3 377.2 L356.6 374.8 L356.9 373.5 L357.2 369.6 L357.6 367.7 L357.9 372.8 L358.2 376.4 L358.5 369.5 L358.8 365.1 L359.2 372.8 L359.5 373.9 L359.8 373.2 L360.1 374.7 L360.4 375.3 L360.8 379.9 L361.1 374.1 L361.4 378.4 L361.7 370.3 L362 379.8 L362.4 380.5 L362.7 376.8 L363 379.2 L363.3 377.3 L363.6 379 L364 380.5 L364.3 383.4 L364.6 379.8 L364.9 378.2 L365.2 375.1 L365.6 380.4 L365.9 374.5 L366.2 374.5 L366.5 377.5 L366.8 373.6 L367.2 374.9 L367.5 373.9 L367.8 375.3 L368.1 376.2 L368.4 375.8 L368.8 369.5 L369.1 374.9 L369.4 368.4 L369.7 370.9 L370 367.7 L370.4 368.9 L370.7 373 L371 369.4 L371.3 367.3 L371.6 369 L372 370.6 L372.3 373.4 L372.6 365.5 L372.9 373.7 L373.2 366.6 L373.6 371.4 L373.9 373.2 L374.2 366.1 L374.5 375 L374.8 365.3 L375.2 370.8 L375.5 371 L375.8 369.5 L376.1 365.2 L376.4 373.4 L376.8 366.3 L377.1 377.1 L377.4 373.8 L377.7 374.9 L378 377 L378.4 370.6 L378.7 371 L379 368.3 L379.3 371.7 L379.6 369.4 L380 368.4 L380.3 370.2 L380.6 374.2 L380.9 374 L381.2 369.9 L381.6 374 L381.9 371.9 L382.2 369.3 L382.5 370.4 L382.8 371.5 L383.2 370.2 L383.5 366.5 L383.8 371 L384.1 372.2 L384.4 369.2 L384.8 370.5 L385.1 369.5 L385.4 373.5 L385.7 374.6 L386 374.5 L386.4 373.8 L386.7 373.9 L387 372.1 L387.3 372.1 L387.6 374.8 L388 378.1 L388.3 375.8 L388.6 377.2 L388.9 373.9 L389.2 376.6 L389.6 378.4 L389.9 375.6 L390.2 380 L390.5 375.7 L390.8 375.2 L391.2 376.9 L391.5 375.3 L391.8 373.9 L392.1 373.6 L392.4 368.7 L392.8 371.8 L393.1 367.1 L393.4 371.3 L393.7 370.2 L394 372.8 L394.4 365.7 L394.7 363.8 L395 376.6 L395.3 375.1 L395.6 370 L396 373.2 L396.3 375.5 L396.6 375.2 L396.9 373.7 L397.2 373.5 L397.6 383.5 L397.9 379.7 L398.2 380.9 L398.5 378 L398.8 378.8 L399.2 378.3 L399.5 374.5 L399.8 379.1 L400.1 377.3 L400.4 374.6 L400.8 375.1 L401.1 374.8 L401.4 378.4 L401.7 374.7 L402 372 L402.4 376.6 L402.7 377.7 L403 376 L403.3 371.3 L403.6 371.2 L404 370.6 L404.3 374.6 L404.6 377.1 L404.9 373.6 L405.2 375.8 L405.6 371.8 L405.9 371.6 L406.2 367.6 L406.5 370.6 L406.8 370.4 L407.2 372.6 L407.5 371.3 L407.8 372.7 L408.1 371.2 L408.4 374 L408.8 370.7 L409.1 369.2 L409.4 367.7 L409.7 367.5 L410 370 L410.4 367.6 L410.7 364.4 L411 370.5 L411.3 365.6 L411.6 369.4 L412 372.2 L412.3 372.7 L412.6 372.2 L412.9 374.7 L413.2 375.1 L413.6 375.2 L413.9 370.7 L414.2 368.3 L414.5 374 L414.8 367.5 L415.2 371 L415.5 362.5 L415.8 364.5 L416.1 362.4 L416.4 367.1 L416.8 368.8 L417.1 370.8 L417.4 368.2 L417.7 376.5 L418 366.7 L418.4 370.6 L418.7 374.6 L419 369.6 L419.3 370.2 L419.6 369.9 L420 368.2 L420.3 370.6 L420.6 369.2 L420.9 370.8 L421.2 368.7 L421.6 363 L421.9 373.7 L422.2 369.1 L422.5 372.3 L422.8 368.6 L423.2 376.3 L423.5 370.9 L423.8 372.1 L424.1 364 L424.4 362.4 L424.8 360.9 L425.1 356 L425.4 351.3 L425.7 356.8 L426 362.4 L426.4 366.3 L426.7 376.7 L427 375.6 L427.3 377.7 L427.6 379.5 L428 379.5 L428.3 370.9 L428.6 377.5 L428.9 373.3 L429.2 369.6 L429.6 369.5 L429.9 374.4 L430.2 371.8 L430.5 369.6 L430.8 372 L431.2 367.8 L431.5 369.4 L431.8 376.8 L432.1 374.2 L432.4 371.3 L432.8 372.6 L433.1 372.4 L433.4 366.6 L433.7 372.8 L434 369.9 L434.4 379 L434.7 368.7 L435 375.7 L435.3 375.6 L435.6 372.9 L436 372.1 L436.3 370.5 L436.6 376.5 L436.9 373.3 L437.2 366.6 L437.6 355.5 L437.9 350.7 L438.2 343.7 L438.5 336.8 L438.8 344.3 L439.2 352.9 L439.5 359.3 L439.8 366.6 L440.1 381 L440.4 378.6 L440.8 372.9 L441.1 373.5 L441.4 380.6 L441.7 373.6 L442 377.3 L442.4 374.7 L442.7 375.2 L443 371.8 L443.3 368.4 L443.6 377.1 L444 380.1 L444.3 374.3 L444.6 370.9 L444.9 372.3 L445.2 378.5 L445.6 376.5 L445.9 376.2 L446.2 369.8 L446.5 370.6 L446.8 375.3 L447.2 374.2 L447.5 371.4 L447.8 375.1 L448.1 374.6 L448.4 371.6 L448.8 372.7 L449.1 368.3 L449.4 376.9 L449.7 373.7 L450 375.1 L450.4 369.5 L450.7 371.4 L451 371.8 L451.3 375.7 L451.6 374.4 L452 379.4 L452.3 381.3 L452.6 377 L452.9 377.4 L453.2 370.8 L453.6 369.4 L453.9 368 L454.2 370.6 L454.5 369.8 L454.8 371 L455.2 377.7 L455.5 375.1 L455.8 370.1 L456.1 370 L456.4 369.3 L456.8 384.2 L457.1 373.1 L457.4 372.1 L457.7 374.4 L458 369.3 L458.4 365.3 L458.7 361.5 L459 356.5 L459.3 355.6 L459.6 359.3 L460 361.3 L460.3 364 L460.6 367.4 L460.9 372.5 L461.2 368.7 L461.6 372.4 L461.9 371.7 L462.2 369.4 L462.5 366.7 L462.8 365.6 L463.2 371.3 L463.5 372.5 L463.8 371.6 L464.1 373.7 L464.4 376.6 L464.8 376.7 L465.1 376.3 L465.4 377.5 L465.7 378.8 L466 382.4 L466.4 371.2 L466.7 371.2 L467 374.7 L467.3 369 L467.6 369.6 L468 366.5 L468.3 372.4 L468.6 367.3 L468.9 374.7 L469.2 375.2 L469.6 370.7 L469.9 382 L470.2 377.1 L470.5 379 L470.8 368.8 L471.2 379.3 L471.5 371.1 L471.8 377.2 L472.1 377.5 L472.4 374 L472.8 373 L473.1 373.1 L473.4 374.1 L473.7 371 L474 373.2 L474.4 375.8 L474.7 375.5 L475 370.5 L475.3 374.1 L475.6 377.4 L476 365 L476.3 371.2 L476.6 370.6 L476.9 372.9 L477.2 371.7 L477.6 373.6 L477.9 367.3 L478.2 379.9 L478.5 371.3 L478.8 373.7 L479.2 375.7 L479.5 374.5 L479.8 374.2 L480.1 375.7 L480.4 373.5 L480.8 375.4 L481.1 373.6 L481.4 370.8 L481.7 373.3 L482 375.4 L482.4 375.9 L482.7 365.9 L483 374.6 L483.3 371 L483.6 371.5 L484 373.1 L484.3 369.3 L484.6 366.7 L484.9 372.7 L485.2 368.9 L485.6 366.5 L485.9 376.3 L486.2 375.2 L486.5 371.8 L486.8 371.3 L487.2 373.1 L487.5 372 L487.8 371.4 L488.1 371 L488.4 375.1 L488.8 377.8 L489.1 375.5 L489.4 372.9 L489.7 368 L490 365.7 L490.4 372 L490.7 371.2 L491 372.5 L491.3 368.3 L491.6 365.5 L492 369.2 L492.3 373.8 L492.6 370 L492.9 371 L493.2 372.5 L493.6 371.3 L493.9 367.4 L494.2 371.1 L494.5 371.8 L494.8 377.6 L495.2 377.7 L495.5 373.4 L495.8 370.9 L496.1 375.6 L496.4 374.5 L496.8 373.4 L497.1 371.8 L497.4 369.1 L497.7 371 L498 371.8 L498.4 365.7 L498.7 371.1 L499 372.9 L499.3 381.1 L499.6 370.9 L500 373.5 L500.3 375.8 L500.6 379.3 L500.9 370.4 L501.2 376.2 L501.6 368.7 L501.9 374.5 L502.2 370.7 L502.5 364.1 L502.8 366 L503.2 367.2 L503.5 371.5 L503.8 372.1 L504.1 374 L504.4 373 L504.8 371.9 L505.1 371.6 L505.4 370.1 L505.7 367.8 L506 368.1 L506.4 371.4 L506.7 371.2 L507 369.2 L507.3 369 L507.6 368.2 L508 367.1 L508.3 370.1 L508.6 375.1 L508.9 368.8 L509.2 375.3 L509.6 378.4 L509.9 377 L510.2 377.8 L510.5 373.4 L510.8 373.9 L511.2 374.3 L511.5 371.9 L511.8 378.3 L512.1 379.1 L512.4 373.3 L512.8 378.2 L513.1 373.4 L513.4 373.1 L513.7 374 L514 374 L514.4 373.2 L514.7 371.7 L515 375.9 L515.3 371.4 L515.6 376.7 L516 376 L516.3 372.3 L516.6 370.4 L516.9 373.1 L517.2 374 L517.6 368 L517.9 372.6 L518.2 368.4 L518.5 369.7 L518.8 372.6 L519.2 373.7 L519.5 375.8 L519.8 371.7 L520.1 375.2 L520.4 370 L520.8 375.6 L521.1 380.1 L521.4 378.3 L521.7 372.3 L522 374.7 L522.4 374 L522.7 369.2 L523 370.9 L523.3 377.9 L523.6 375.4 L524 378.3 L524.3 373.5 L524.6 373.9 L524.9 373.6 L525.2 369.3 L525.6 375.7 L525.9 372.6 L526.2 372.2 L526.5 375.3 L526.8 372.7 L527.2 373.3 L527.5 373.6 L527.8 373.8 L528.1 368 L528.4 373.7 L528.8 373.6 L529.1 372.7 L529.4 368 L529.7 372 L530 370 L530.4 370 L530.7 369.6 L531 366.1 L531.3 377.1 L531.6 368.8 L532 370.4 L532.3 376.2 L532.6 372.9 L532.9 374.3 L533.2 371.4 L533.6 371.1 L533.9 366.4 L534.2 366.8 L534.5 370.9 L534.8 372.7 L535.2 365.5 L535.5 367.9 L535.8 371 L536.1 367 L536.4 365.6 L536.8 370.8 L537.1 369.7 L537.4 369.4 L537.7 370.7 L538 368.7 L538.4 369.8 L538.7 368.3 L539 366.7 L539.3 371.7 L539.6 375.7 L540 369 L540.3 371.8 L540.6 369.1 L540.9 373.2 L541.2 371.3 L541.6 373 L541.9 372.8 L542.2 372.9 L542.5 369.6 L542.8 370.8 L543.2 371.1 L543.5 371.4 L543.8 368.8 L544.1 369.5 L544.4 369.7 L544.8 371.2 L545.1 370 L545.4 369.6 L545.7 367.4 L546 370 L546.4 372.6 L546.7 371.5 L547 369.9 L547.3 369.8 L547.6 367.4 L548 371.1 L548.3 370.7 L548.6 368.5 L548.9 370.4 L549.2 367.5 L549.6 367.7 L549.9 372.7 L550.2 366.5 L550.5 362.7 L550.8 364.7 L551.2 372 L551.5 373.8 L551.8 375.1 L552.1 372.9 L552.4 370 L552.8 377.2 L553.1 376 L553.4 366.2 L553.7 369.4 L554 370.8 L554.4 368.9 L554.7 367.7 L555 373.3 L555.3 370.3 L555.6 367.6 L556 368.5 L556.3 368 L556.6 373.7 L556.9 369.1 L557.2 366.9 L557.6 368.2 L557.9 372 L558.2 371.9 L558.5 371.9 L558.8 369.2 L559.2 365.4 L559.5 370.8 L559.8 368.4 L560.1 367.5 L560.4 369.8 L560.8 367.7 L561.1 368.6 L561.4 370.9 L561.7 371.5 L562 372.1 L562.4 374.9 L562.7 372.2 L563 375.3 L563.3 373.4 L563.6 370.3 L564 367.1 L564.3 372.2 L564.6 370.5 L564.9 366 L565.2 372.1 L565.6 373.4 L565.9 372.9 L566.2 365.1 L566.5 374.1 L566.8 374.5 L567.2 367.2 L567.5 371.9 L567.8 370.7 L568.1 372 L568.4 373.4 L568.8 368.3 L569.1 380.2 L569.4 376.7 L569.7 374.6 L570 374.5 L570.4 372.2 L570.7 373.5 L571 376.3 L571.3 371.1 L571.6 377.3 L572 375.9 L572.3 369.2 L572.6 371.8 L572.9 372.9 L573.2 373.1 L573.6 373.5 L573.9 371.8 L574.2 374.9 L574.5 374.6 L574.8 371.5 L575.2 371.8 L575.5 367.1 L575.8 371.5 L576.1 368.8 L576.4 367.1 L576.8 372.3 L577.1 376.1 L577.4 370.4 L577.7 369.6 L578 367.8 L578.4 375.9 L578.7 365.9 L579 366.1 L579.3 368.7 L579.6 372.1 L580 370 L580.3 375.3 L580.6 373 L580.9 368 L581.2 367 L581.6 370.9 L581.9 372 L582.2 376.6 L582.5 375.2 L582.8 374.7 L583.2 379 L583.5 380.3 L583.8 382.9 L584.1 373.4 L584.4 373.8 L584.8 379.6 L585.1 374.7 L585.4 375.5 L585.7 375.9 L586 378 L586.4 376.2 L586.7 380.2 L587 385.1 L587.3 374.8 L587.6 379 L588 375.2 L588.3 370.1 L588.6 376.5 L588.9 374.8 L589.2 374.5 L589.6 363.3 L589.9 373.1 L590.2 370.2 L590.5 368.5 L590.8 371.5 L591.2 376.3 L591.5 378.3 L591.8 376.4 L592.1 385.3 L592.4 377.4 L592.8 379.4 L593.1 369.4 L593.4 379.5 L593.7 385.1 L594 377.3 L594.4 379.5 L594.7 362.2 L595 371.7 L595.3 361.8 L595.6 379.5 L596 377.1 L596.3 365.2 L596.6 373.2 L596.9 369.9 L597.2 375.2 L597.6 373.3 L597.9 383 L598.2 379 L598.5 379.7 L598.8 380.1 L599.2 379.6 L599.5 382 L599.8 381 L600.1 373.9 L600.4 380.7 L600.8 369.5 L601.1 372.1 L601.4 370.3 L601.7 370.5 L602 376.8 L602.4 389.4 L602.7 365.6 L603 371.7 L603.3 374.1 L603.6 375.8 L604 371.2 L604.3 374.2 L604.6 379.4 L604.9 370.3 L605.2 378.6 L605.6 380.3 L605.9 369.5 L606.2 364.2 L606.5 375 L606.8 367.4 L607.2 370.4 L607.5 373.9 L607.8 371.3 L608.1 377 L608.4 366.5 L608.8 362.5 L609.1 375 L609.4 363.6 L609.7 372.1 L610 367.6 L610.4 372.6 L610.7 374 L611 360.4 L611.3 374.4 L611.6 373.4 L612 377 L612.3 375 L612.6 373.8 L612.9 383.5 L613.2 378.3 L613.6 378.1 L613.9 372.5 L614.2 389.2 L614.5 389.3 L614.8 389.7 L615.2 389.6 L615.5 389.4 L615.8 382 L616.1 369.9 L616.4 375.7 L616.8 375.3 L617.1 373.4 L617.4 364.3 L617.7 373.9 L618 374.8 L618.4 372.3 L618.7 369.2 L619 380.2 L619.3 376.6 L619.6 374.2 L620 372.2 L620.3 373.3 L620.6 382.5 L620.9 373.6 L621.2 378 L621.6 375.4 L621.9 376.2 L622.2 378.8 L622.5 371.3 L622.8 376 L623.2 375.1 L623.5 380.1 L623.8 377.1 L624.1 374.1 L624.4 374 L624.8 376.4 L625.1 372.8 L625.4 376 L625.7 375.9 L626 370.5 L626.4 377.8 L626.7 378.2 L627 369.7 L627.3 378.9 L627.6 379.4 L628 371.5 L628.3 369.5 L628.6 371 L628.9 373.7 L629.2 383.5 L629.6 373.5 L629.9 370.2 L630.2 373 L630.5 377.4 L630.8 371.8 L631.2 380 L631.5 378 L631.8 382.6 L632.1 376.3 L632.4 377.8 L632.8 375 L633.1 386.6 L633.4 390.8 L633.7 375.8 L634 382.6 L634.4 377.1 L634.7 387.1 L635 375.3 L635.3 378.9 L635.6 377 L636 369.3 L636.3 384.6 L636.6 378.3 L636.9 385.3 L637.2 378.2 L637.6 381.3 L637.9 377.3 L638.2 370.7 L638.5 374.3 L638.8 383.6 L639.2 383.1 L639.5 382.3 L639.8 379.7 L640.1 384.6 L640.4 374.3 L640.8 380.7 L641.1 374.9 L641.4 383 L641.7 376.5 L642 378.9 L642.4 378.3 L642.7 373.5 L643 378.8 L643.3 374.5 L643.6 388.2 L644 391.3 L644.3 377.7 L644.6 383 L644.9 371.1 L645.2 376.1 L645.6 368.4 L645.9 369.1 L646.2 375.4 L646.5 371.6 L646.8 363.7 L647.2 362.9 L647.5 367.4 L647.8 361.1 L648.1 373.5 L648.4 370.2 L648.8 364 L649.1 361.1 L649.4 370.6 L649.7 374.8 L650 373.6 L650.4 372.7 L650.7 378.1 L651 370.8 L651.3 372.9 L651.6 366.8 L652 365.6 L652.3 361 L652.6 370.2 L652.9 378.4 L653.2 376.7 L653.6 366.2 L653.9 369.9 L654.2 371.9 L654.5 375.7 L654.8 371.9 L655.2 373.6 L655.5 380 L655.8 378.4 L656.1 383.5 L656.4 369.9 L656.8 371.1 L657.1 373 L657.4 379.2 L657.7 371.4 L658 371.1 L658.4 369.9 L658.7 377.8 L659 379.2 L659.3 378.3 L659.6 379.7 L660 368.6 L660.3 374 L660.6 381.5 L660.9 370.9 L661.2 381.1 L661.6 374.8 L661.9 376.7 L662.2 378 L662.5 380.1 L662.8 381 L663.2 371 L663.5 381.8 L663.8 372.4 L664.1 383.8 L664.4 379.6 L664.8 386.9 L665.1 378.2 L665.4 383.3" fill="none" stroke="#1b8a8f" stroke-width="1.6" stroke-linejoin="round"/>
<path d="M147 376.7 L147.3 372.6 L147.6 360.7 L148 362.2 L148.3 372.9 L148.6 379 L148.9 375.1 L149.2 374.5 L149.6 379.5 L149.9 375.2 L150.2 378.7 L150.5 374.6 L150.8 376.1 L151.2 381.8 L151.5 377.8 L151.8 374.8 L152.1 381.6 L152.4 374.8 L152.8 367.7 L153.1 364.3 L153.4 366.5 L153.7 372.7 L154 376.1 L154.4 360.3 L154.7 369.9 L155 365.5 L155.3 374.2 L155.6 374.5 L156 353.8 L156.3 375.3 L156.6 363.4 L156.9 383.8 L157.2 373.2 L157.6 380.9 L157.9 368.9 L158.2 375.4 L158.5 380.4 L158.8 370.8 L159.2 383.3 L159.5 381.6 L159.8 376.2 L160.1 380.1 L160.4 376.5 L160.8 378.5 L161.1 389.3 L161.4 396.8 L161.7 385.4 L162 377.3 L162.4 381.4 L162.7 367 L163 379 L163.3 373.4 L163.6 374.9 L164 359.1 L164.3 370.9 L164.6 368.1 L164.9 363.4 L165.2 369.1 L165.6 374.7 L165.9 374.9 L166.2 372.9 L166.5 370.4 L166.8 376.3 L167.2 372.2 L167.5 384.4 L167.8 373.4 L168.1 366.6 L168.4 369.5 L168.8 372.8 L169.1 365.6 L169.4 363 L169.7 359.9 L170 357.1 L170.4 354.4 L170.7 357.6 L171 359.6 L171.3 368.1 L171.6 374.4 L172 373 L172.3 374.7 L172.6 365.9 L172.9 365.4 L173.2 359.9 L173.6 377.3 L173.9 371 L174.2 379.3 L174.5 377.4 L174.8 371 L175.2 378.6 L175.5 381.8 L175.8 357.2 L176.1 378.8 L176.4 375.9 L176.8 386.2 L177.1 394.1 L177.4 386.5 L177.7 383.4 L178 387.4 L178.4 382.6 L178.7 378.8 L179 374 L179.3 370.2 L179.6 368.5 L180 378 L180.3 377.2 L180.6 377 L180.9 375.5 L181.2 375 L181.6 369.8 L181.9 372.4 L182.2 377 L182.5 372.6 L182.8 376.3 L183.2 375.1 L183.5 382.5 L183.8 368.2 L184.1 370.7 L184.4 363.3 L184.8 379.4 L185.1 382.3 L185.4 383.9 L185.7 386 L186 374.7 L186.4 397.7 L186.7 390.5 L187 375 L187.3 383 L187.6 370.2 L188 368 L188.3 365.1 L188.6 368.5 L188.9 361.6 L189.2 379.4 L189.6 364.2 L189.9 374.3 L190.2 384.5 L190.5 386.3 L190.8 377.2 L191.2 377.2 L191.5 380 L191.8 374.6 L192.1 376.5 L192.4 367.1 L192.8 373.9 L193.1 383.1 L193.4 370.5 L193.7 370 L194 365.4 L194.4 362.8 L194.7 356 L195 350.3 L195.3 356 L195.6 361 L196 359.7 L196.3 364.3 L196.6 368.2 L196.9 372.7 L197.2 372.1 L197.6 372.8 L197.9 371.4 L198.2 374.4 L198.5 372.7 L198.8 375.2 L199.2 375.1 L199.5 371.7 L199.8 384.4 L200.1 381.9 L200.4 376 L200.8 380.7 L201.1 378.4 L201.4 384.4 L201.7 390.4 L202 382.8 L202.4 375.8 L202.7 368.4 L203 374.8 L203.3 379 L203.6 374.1 L204 377.2 L204.3 381.5 L204.6 371.7 L204.9 375.7 L205.2 386.9 L205.6 382.2 L205.9 377 L206.2 376 L206.5 382.5 L206.8 382.8 L207.2 379.9 L207.5 371.1 L207.8 378.6 L208.1 375.5 L208.4 367.8 L208.8 372 L209.1 384.5 L209.4 365.8 L209.7 364.7 L210 374.3 L210.4 374.1 L210.7 378.4 L211 388.4 L211.3 371.6 L211.6 378.2 L212 374.1 L212.3 367.9 L212.6 373.3 L212.9 370.7 L213.2 366.2 L213.6 374.2 L213.9 363.7 L214.2 373 L214.5 374.5 L214.8 367.4 L215.2 365.6 L215.5 365.7 L215.8 366.3 L216.1 369.4 L216.4 366.9 L216.8 382 L217.1 380.7 L217.4 376.7 L217.7 374.9 L218 365.2 L218.4 363.9 L218.7 362.9 L219 351.2 L219.3 345.4 L219.6 340.2 L220 339.9 L220.3 344.9 L220.6 351 L220.9 360.5 L221.2 365.4 L221.6 365.7 L221.9 364.5 L222.2 368.5 L222.5 361.3 L222.8 372 L223.2 372.3 L223.5 363.6 L223.8 364.2 L224.1 359.3 L224.4 348.3 L224.8 343 L225.1 346.6 L225.4 350.1 L225.7 357.5 L226 366.2 L226.4 366.2 L226.7 371.8 L227 370.3 L227.3 360.3 L227.6 375.1 L228 373.2 L228.3 364.4 L228.6 365.2 L228.9 381.4 L229.2 372.6 L229.6 380.3 L229.9 378.5 L230.2 382.3 L230.5 364.7 L230.8 378.9 L231.2 370.7 L231.5 386.4 L231.8 369.8 L232.1 383.1 L232.4 386.1 L232.8 383.8 L233.1 378 L233.4 378.3 L233.7 375.6 L234 371.4 L234.4 370 L234.7 371.7 L235 375.5 L235.3 371.6 L235.6 370.1 L236 372.5 L236.3 374.3 L236.6 364.2 L236.9 372.3 L237.2 371.4 L237.6 374.9 L237.9 364.4 L238.2 374.7 L238.5 375.6 L238.8 363.5 L239.2 389.2 L239.5 382.5 L239.8 377.6 L240.1 378.9 L240.4 365 L240.8 362.8 L241.1 357.8 L241.4 352.2 L241.7 354.7 L242 363.5 L242.4 369.9 L242.7 371.9 L243 388.5 L243.3 385.1 L243.6 390 L244 380.9 L244.3 388.5 L244.6 389 L244.9 386.7 L245.2 392 L245.6 402.3 L245.9 391.2 L246.2 385.5 L246.5 390.5 L246.8 393.6 L247.2 394 L247.5 397.2 L247.8 395.7 L248.1 387.1 L248.4 388.4 L248.8 393.5 L249.1 391 L249.4 395.3 L249.7 388.3 L250 393.6 L250.4 383.4 L250.7 390.4 L251 382.1 L251.3 382.3 L251.6 396.4 L252 389.8 L252.3 381.7 L252.6 395.2 L252.9 387.9 L253.2 397.7 L253.6 386.7 L253.9 397.2 L254.2 390.8 L254.5 377.6 L254.8 382.1 L255.2 375.9 L255.5 371.1 L255.8 360.6 L256.1 359.6 L256.4 365.5 L256.8 372.9 L257.1 381.4 L257.4 386 L257.7 385.1 L258 389.7 L258.4 388.3 L258.7 389.6 L259 375.4 L259.3 358 L259.6 346.1 L260 334.6 L260.3 327 L260.6 340.6 L260.9 352.9 L261.2 362.4 L261.6 376 L261.9 380.8 L262.2 385.9 L262.5 390.2 L262.8 386.8 L263.2 389.2 L263.5 382.4 L263.8 382.6 L264.1 382.4 L264.4 389.1 L264.8 393.7 L265.1 390.3 L265.4 389.1 L265.7 381.3 L266 377.4 L266.4 387.8 L266.7 391 L267 388.8 L267.3 398.4 L267.6 390.2 L268 391.9 L268.3 388.3 L268.6 382.1 L268.9 390.5 L269.2 391.3 L269.6 390.4 L269.9 389 L270.2 398.2 L270.5 386.4 L270.8 390.7 L271.2 388.9 L271.5 388.4 L271.8 393.5 L272.1 378.4 L272.4 387.3 L272.8 392.8 L273.1 402.5 L273.4 389.9 L273.7 394.8 L274 388.9 L274.4 384.3 L274.7 402.1 L275 395 L275.3 389.5 L275.6 384.3 L276 387.4 L276.3 396.3 L276.6 389.2 L276.9 393.9 L277.2 386.2 L277.6 378.9 L277.9 375.3 L278.2 379.1 L278.5 390.2 L278.8 387.7 L279.2 386.9 L279.5 386.6 L279.8 383.7 L280.1 384.6 L280.4 383.6 L280.8 375.9 L281.1 370.3 L281.4 370.3 L281.7 373 L282 375.3 L282.4 385 L282.7 366.9 L283 373.6 L283.3 373 L283.6 373.3 L284 380.6 L284.3 376.3 L284.6 380.9 L284.9 376.8 L285.2 370.2 L285.6 366.7 L285.9 362.2 L286.2 363.4 L286.5 364.7 L286.8 376.3 L287.2 371.1 L287.5 378.1 L287.8 386.2 L288.1 385.3 L288.4 390.6 L288.8 388.7 L289.1 396.4 L289.4 384.1 L289.7 379.2 L290 386.9 L290.4 391.6 L290.7 383.1 L291 379.8 L291.3 392.1 L291.6 387.9 L292 389 L292.3 376.6 L292.6 390.5 L292.9 379.3 L293.2 387.6 L293.6 391.1 L293.9 380.9 L294.2 383.9 L294.5 391.1 L294.8 392.5 L295.2 390.7 L295.5 388.2 L295.8 387 L296.1 388.8 L296.4 388.2 L296.8 393.5 L297.1 392.7 L297.4 393.2 L297.7 382.1 L298 373.2 L298.4 361.5 L298.7 357 L299 346.8 L299.3 357.1 L299.6 364.4 L300 369.8 L300.3 381 L300.6 383.7 L300.9 387.8 L301.2 391.2 L301.6 392.2 L301.9 393.9 L302.2 396.2 L302.5 388.6 L302.8 390.9 L303.2 391.7 L303.5 386.7 L303.8 395 L304.1 391.6 L304.4 390.9 L304.8 395.6 L305.1 388.6 L305.4 389.6 L305.7 390.1 L306 380.6 L306.4 393.4 L306.7 392.3 L307 390.3 L307.3 387.2 L307.6 389.8 L308 389 L308.3 379.5 L308.6 384.7 L308.9 381.2 L309.2 393.1 L309.6 386.2 L309.9 380.5 L310.2 388.6 L310.5 375.1 L310.8 361.4 L311.2 356.6 L311.5 343.2 L311.8 332.9 L312.1 342.8 L312.4 352.6 L312.8 365.3 L313.1 375.2 L313.4 386.2 L313.7 392.9 L314 387 L314.4 383 L314.7 386.7 L315 380.6 L315.3 389.7 L315.6 390.6 L316 388.7 L316.3 380.7 L316.6 384.2 L316.9 382.5 L317.2 384.1 L317.6 380.1 L317.9 389.6 L318.2 385.4 L318.5 383.6 L318.8 386.3 L319.2 381.5 L319.5 387.3 L319.8 391.4 L320.1 380.5 L320.4 395.1 L320.8 379.3 L321.1 385.5 L321.4 386.5 L321.7 387.5 L322 386.9 L322.4 383.8 L322.7 379.2 L323 359.9 L323.3 351.6 L323.6 337.8 L324 324.1 L324.3 334.6 L324.6 346.6 L324.9 364 L325.2 374.8 L325.6 389.7 L325.9 389.4 L326.2 384.4 L326.5 383.6 L326.8 382.9 L327.2 390 L327.5 381.7 L327.8 382.6 L328.1 391 L328.4 390.5 L328.8 398.2 L329.1 391.4 L329.4 389.6 L329.7 380.5 L330 385.2 L330.4 386.5 L330.7 393.6 L331 388.4 L331.3 388.5 L331.6 397.9 L332 385.7 L332.3 397.7 L332.6 394.9 L332.9 395.4 L333.2 390.8 L333.6 384.3 L333.9 390.6 L334.2 380.9 L334.5 381.8 L334.8 368.3 L335.2 375.2 L335.5 368.7 L335.8 367.5 L336.1 366.3 L336.4 367.9 L336.8 371.7 L337.1 371.8 L337.4 379.1 L337.7 381.6 L338 383.6 L338.4 390.8 L338.7 391.3 L339 393.3 L339.3 390.3 L339.6 380.2 L340 390.7 L340.3 386.9 L340.6 389.3 L340.9 385.3 L341.2 387.1 L341.6 385.4 L341.9 390.9 L342.2 400.2 L342.5 382.6 L342.8 384.6 L343.2 393 L343.5 386.1 L343.8 383.2 L344.1 388.8 L344.4 389.1 L344.8 397.1 L345.1 392.7 L345.4 380.9 L345.7 387 L346 380.9 L346.4 371.3 L346.7 380.4 L347 383.3 L347.3 384.2 L347.6 391 L348 386.5 L348.3 371.1 L348.6 366.2 L348.9 370.5 L349.2 375.1 L349.6 375.1 L349.9 373.3 L350.2 366.8 L350.5 360.8 L350.8 353.9 L351.2 353.4 L351.5 357.9 L351.8 373.1 L352.1 374.8 L352.4 386.3 L352.8 387.4 L353.1 381.6 L353.4 387.2 L353.7 383.1 L354 377.1 L354.4 382.4 L354.7 387.8 L355 387 L355.3 392.1 L355.6 391.1 L356 389.3 L356.3 381.8 L356.6 380.4 L356.9 378.3 L357.2 382.9 L357.6 384.6 L357.9 382.4 L358.2 392.8 L358.5 386.7 L358.8 376 L359.2 379.7 L359.5 379.5 L359.8 376.3 L360.1 383.3 L360.4 379.5 L360.8 389.4 L361.1 391.7 L361.4 387.2 L361.7 393.6 L362 386 L362.4 386.3 L362.7 398.9 L363 395.2 L363.3 388.4 L363.6 386 L364 392.9 L364.3 390.6 L364.6 390.5 L364.9 396.6 L365.2 387.1 L365.6 392.9 L365.9 394.6 L366.2 388.4 L366.5 386.2 L366.8 384 L367.2 390.6 L367.5 387 L367.8 391.2 L368.1 391.4 L368.4 394.9 L368.8 393.1 L369.1 393.7 L369.4 390.3 L369.7 390.3 L370 390.4 L370.4 398.2 L370.7 395.3 L371 387.5 L371.3 382.1 L371.6 390 L372 393.4 L372.3 389.2 L372.6 393 L372.9 393.9 L373.2 391.9 L373.6 393.8 L373.9 380 L374.2 385.8 L374.5 394.2 L374.8 386.9 L375.2 376.2 L375.5 386.7 L375.8 393.9 L376.1 385.9 L376.4 389.2 L376.8 387.7 L377.1 396.2 L377.4 382.7 L377.7 380.5 L378 379.2 L378.4 376.6 L378.7 372.2 L379 360 L379.3 359.9 L379.6 352.2 L380 348.4 L380.3 354.1 L380.6 365.7 L380.9 371.9 L381.2 382.8 L381.6 386.7 L381.9 382.5 L382.2 384.7 L382.5 381.2 L382.8 380.7 L383.2 384.1 L383.5 379.1 L383.8 377.2 L384.1 388.4 L384.4 387.6 L384.8 387.9 L385.1 379.7 L385.4 384 L385.7 377.8 L386 380.2 L386.4 386.6 L386.7 385.2 L387 386.9 L387.3 391.6 L387.6 387.7 L388 383.2 L388.3 389.3 L388.6 383.3 L388.9 389.2 L389.2 397.7 L389.6 382.4 L389.9 381.5 L390.2 383.3 L390.5 383.7 L390.8 384.4 L391.2 394.2 L391.5 393.1 L391.8 378.6 L392.1 376.7 L392.4 386.8 L392.8 390.9 L393.1 387 L393.4 396.9 L393.7 391 L394 380.9 L394.4 387.2 L394.7 374 L395 367.5 L395.3 362 L395.6 360.8 L396 365.6 L396.3 372.7 L396.6 375.9 L396.9 381.2 L397.2 390.3 L397.6 393.3 L397.9 388.1 L398.2 389 L398.5 395.1 L398.8 388.2 L399.2 380.3 L399.5 394 L399.8 378.4 L400.1 389.9 L400.4 381.6 L400.8 397 L401.1 394.8 L401.4 388.7 L401.7 392.9 L402 386.2 L402.4 391.8 L402.7 384.3 L403 390.8 L403.3 381.2 L403.6 382.4 L404 372.5 L404.3 367.3 L404.6 365 L404.9 358.6 L405.2 362.3 L405.6 365.6 L405.9 375.8 L406.2 376.4 L406.5 383.9 L406.8 380.6 L407.2 378.7 L407.5 378.4 L407.8 380.5 L408.1 379.9 L408.4 391.1 L408.8 384.5 L409.1 383.5 L409.4 386.1 L409.7 389.3 L410 387.6 L410.4 370.5 L410.7 381.7 L411 376.7 L411.3 374.4 L411.6 376.3 L412 375.2 L412.3 386.7 L412.6 381.4 L412.9 391.6 L413.2 388.6 L413.6 388.8 L413.9 384.3 L414.2 377.6 L414.5 371.7 L414.8 366.5 L415.2 366.6 L415.5 371.6 L415.8 374 L416.1 377.1 L416.4 381.8 L416.8 392.5 L417.1 386.3 L417.4 381.2 L417.7 386.5 L418 380.4 L418.4 387.4 L418.7 384.5 L419 382.4 L419.3 392.9 L419.6 382.9 L420 389.7 L420.3 385.5 L420.6 382.7 L420.9 386.9 L421.2 384.5 L421.6 378.2 L421.9 383.8 L422.2 389.2 L422.5 384.3 L422.8 386.4 L423.2 388.4 L423.5 383.3 L423.8 385.2 L424.1 395.2 L424.4 392.7 L424.8 392.2 L425.1 391.8 L425.4 383.6 L425.7 390.7 L426 392.4 L426.4 388.3 L426.7 388.2 L427 382.2 L427.3 394.2 L427.6 387.3 L428 383.8 L428.3 385.9 L428.6 389 L428.9 390.1 L429.2 385 L429.6 390.5 L429.9 390.6 L430.2 377.3 L430.5 391.4 L430.8 384.2 L431.2 385.7 L431.5 390.7 L431.8 391.5 L432.1 382.2 L432.4 386 L432.8 388.1 L433.1 382.9 L433.4 394.1 L433.7 388.6 L434 388.2 L434.4 385 L434.7 385.9 L435 384 L435.3 401.3 L435.6 388.6 L436 389.7 L436.3 395 L436.6 397.2 L436.9 393.8 L437.2 376.3 L437.6 374.9 L437.9 371.2 L438.2 363.4 L438.5 360.4 L438.8 354.5 L439.2 361.6 L439.5 369.4 L439.8 380.8 L440.1 376.3 L440.4 383.9 L440.8 388.7 L441.1 392.5 L441.4 389.9 L441.7 389.3 L442 388.2 L442.4 393.4 L442.7 382.2 L443 400.6 L443.3 388.4 L443.6 386 L444 395.7 L444.3 390.6 L444.6 387.7 L444.9 386.4 L445.2 383.3 L445.6 390.1 L445.9 389.9 L446.2 393.4 L446.5 381.7 L446.8 387.8 L447.2 395.7 L447.5 392 L447.8 396.5 L448.1 388.5 L448.4 393.7 L448.8 391.6 L449.1 386.9 L449.4 387.9 L449.7 392.3 L450 390.9 L450.4 388.6 L450.7 376.4 L451 378.7 L451.3 368.1 L451.6 376.8 L452 383.4 L452.3 386.6 L452.6 377.6 L452.9 378.3 L453.2 382.6 L453.6 379.6 L453.9 382.4 L454.2 373.7 L454.5 384.6 L454.8 387 L455.2 385.5 L455.5 384.2 L455.8 385.1 L456.1 378.6 L456.4 387.9 L456.8 386.4 L457.1 383.8 L457.4 382 L457.7 382.9 L458 386.1 L458.4 378.9 L458.7 387.7 L459 380.9 L459.3 394 L459.6 382.5 L460 391.9 L460.3 387.5 L460.6 382.2 L460.9 385 L461.2 378 L461.6 381.3 L461.9 379 L462.2 377 L462.5 375.3 L462.8 374.7 L463.2 374.2 L463.5 385.6 L463.8 385.6 L464.1 387.6 L464.4 387.3 L464.8 387.7 L465.1 390 L465.4 396.4 L465.7 401.1 L466 395.3 L466.4 393.3 L466.7 386.9 L467 396.2 L467.3 389.8 L467.6 383.3 L468 382.2 L468.3 392.2 L468.6 391.2 L468.9 387.4 L469.2 389.8 L469.6 382.8 L469.9 393.1 L470.2 389.4 L470.5 389.2 L470.8 389.3 L471.2 390.4 L471.5 384.1 L471.8 375 L472.1 365.7 L472.4 357.7 L472.8 346.6 L473.1 347.9 L473.4 359.8 L473.7 363.8 L474 375.7 L474.4 385.4 L474.7 396.8 L475 392.5 L475.3 384.6 L475.6 381.9 L476 389.9 L476.3 388.4 L476.6 387.4 L476.9 388.8 L477.2 385.1 L477.6 390.5 L477.9 386.7 L478.2 389.1 L478.5 390.2 L478.8 387.1 L479.2 390.4 L479.5 391.1 L479.8 389 L480.1 384.3 L480.4 386.3 L480.8 384.9 L481.1 383.3 L481.4 388.6 L481.7 388.1 L482 381.8 L482.4 377.5 L482.7 382.4 L483 382.8 L483.3 383.4 L483.6 374.4 L484 378.5 L484.3 388 L484.6 384.4 L484.9 383.4 L485.2 375.7 L485.6 381.7 L485.9 379.4 L486.2 375.3 L486.5 368.3 L486.8 363.7 L487.2 362.4 L487.5 370.9 L487.8 376.9 L488.1 381.9 L488.4 387.3 L488.8 386.6 L489.1 379.6 L489.4 384.5 L489.7 377.1 L490 379.7 L490.4 385.6 L490.7 381 L491 380.9 L491.3 380.7 L491.6 390 L492 380.8 L492.3 382.9 L492.6 378.7 L492.9 389.1 L493.2 387.1 L493.6 395.9 L493.9 386.9 L494.2 385.5 L494.5 388 L494.8 381.3 L495.2 382.2 L495.5 384.2 L495.8 383.6 L496.1 387.4 L496.4 390.1 L496.8 393 L497.1 392.7 L497.4 394.7 L497.7 402.4 L498 389.9 L498.4 389.6 L498.7 385 L499 380.4 L499.3 375 L499.6 370.7 L500 364.7 L500.3 367.7 L500.6 372.1 L500.9 378.5 L501.2 381.2 L501.6 380.4 L501.9 384.7 L502.2 394.1 L502.5 386.2 L502.8 392.4 L503.2 390.3 L503.5 385.9 L503.8 390 L504.1 382.7 L504.4 387.8 L504.8 383.7 L505.1 388.9 L505.4 380.8 L505.7 388.8 L506 378.8 L506.4 383.6 L506.7 380.6 L507 385.9 L507.3 382.7 L507.6 389.1 L508 372.6 L508.3 395.7 L508.6 387.4 L508.9 389.4 L509.2 394.5 L509.6 387.3 L509.9 384.4 L510.2 387.6 L510.5 391 L510.8 393.7 L511.2 391.7 L511.5 389 L511.8 385.5 L512.1 385.3 L512.4 386 L512.8 390.5 L513.1 396.4 L513.4 377.4 L513.7 387 L514 384 L514.4 386.1 L514.7 390.2 L515 389.4 L515.3 386.9 L515.6 381.3 L516 374.7 L516.3 362.3 L516.6 376 L516.9 365.2 L517.2 378.9 L517.6 374.5 L517.9 386.8 L518.2 383.4 L518.5 388.6 L518.8 387.3 L519.2 373.2 L519.5 376.8 L519.8 380.5 L520.1 377.1 L520.4 382.7 L520.8 383.2 L521.1 383.2 L521.4 366.1 L521.7 352.4 L522 337.6 L522.4 322 L522.7 333 L523 349.7 L523.3 361.6 L523.6 375.1 L524 376.9 L524.3 390.6 L524.6 379.1 L524.9 384.9 L525.2 385.9 L525.6 383.8 L525.9 384.7 L526.2 391.1 L526.5 381.3 L526.8 381 L527.2 382.2 L527.5 391.9 L527.8 388.3 L528.1 382.5 L528.4 382.8 L528.8 391.6 L529.1 387.5 L529.4 382.8 L529.7 393.1 L530 388.9 L530.4 383.5 L530.7 378.3 L531 380.2 L531.3 384.3 L531.6 388.4 L532 390.3 L532.3 396.8 L532.6 389.7 L532.9 390.8 L533.2 387.5 L533.6 389.5 L533.9 389.1 L534.2 386.8 L534.5 385 L534.8 387.5 L535.2 384.4 L535.5 383.7 L535.8 384.8 L536.1 387.9 L536.4 382.9 L536.8 381.2 L537.1 389.8 L537.4 379.4 L537.7 384.8 L538 390.6 L538.4 399.4 L538.7 394.2 L539 392.2 L539.3 391 L539.6 390.5 L540 390.8 L540.3 387.5 L540.6 385.8 L540.9 391.7 L541.2 384.5 L541.6 380.1 L541.9 386.4 L542.2 379.7 L542.5 385.6 L542.8 376.1 L543.2 398.3 L543.5 387.9 L543.8 395.9 L544.1 387.1 L544.4 387.5 L544.8 392.8 L545.1 387.7 L545.4 395.2 L545.7 386.9 L546 395.6 L546.4 393.3 L546.7 386.1 L547 392.6 L547.3 384.7 L547.6 384.8 L548 396.6 L548.3 391.3 L548.6 385.8 L548.9 393.4 L549.2 384.1 L549.6 390.4 L549.9 380.9 L550.2 373.4 L550.5 358.6 L550.8 353.5 L551.2 348.9 L551.5 355.7 L551.8 358 L552.1 364.5 L552.4 372.3 L552.8 376 L553.1 388.1 L553.4 392.5 L553.7 393.3 L554 398.4 L554.4 394.9 L554.7 391.9 L555 385.9 L555.3 388.6 L555.6 389.9 L556 382.2 L556.3 389.6 L556.6 387.5 L556.9 391.9 L557.2 394.2 L557.6 386.3 L557.9 386.9 L558.2 376.2 L558.5 381.2 L558.8 383.6 L559.2 385.1 L559.5 383.2 L559.8 397.8 L560.1 388.8 L560.4 390.2 L560.8 380.4 L561.1 384.3 L561.4 382.1 L561.7 390.9 L562 376.2 L562.4 384.1 L562.7 381.5 L563 387.5 L563.3 387.6 L563.6 380.2 L564 386 L564.3 386.8 L564.6 382.2 L564.9 387.8 L565.2 391.2 L565.6 382.7 L565.9 380 L566.2 374.7 L566.5 369 L566.8 363.9 L567.2 364.1 L567.5 368.5 L567.8 378.9 L568.1 381.2 L568.4 384.7 L568.8 386.7 L569.1 388.8 L569.4 385.6 L569.7 388.5 L570 387.7 L570.4 376.4 L570.7 386.1 L571 376.7 L571.3 382.2 L571.6 377 L572 378.4 L572.3 380.4 L572.6 386.3 L572.9 385.5 L573.2 384.8 L573.6 393.4 L573.9 387 L574.2 380 L574.5 379.7 L574.8 378.6 L575.2 386.4 L575.5 389.8 L575.8 384.1 L576.1 388.7 L576.4 395.8 L576.8 389.8 L577.1 390.3 L577.4 388.8 L577.7 392.3 L578 382.6 L578.4 396.1 L578.7 395.4 L579 387.2 L579.3 384.1 L579.6 393.6 L580 381.2 L580.3 386.4 L580.6 383.7 L580.9 371.6 L581.2 377 L581.6 377.1 L581.9 375.2 L582.2 384.1 L582.5 380.7 L582.8 380.9 L583.2 370.3 L583.5 359.9 L583.8 371.5 L584.1 370 L584.4 382.1 L584.8 382.8 L585.1 386.1 L585.4 373.9 L585.7 386 L586 375.9 L586.4 380.8 L586.7 382.1 L587 382.8 L587.3 365.4 L587.6 382.8 L588 382.7 L588.3 383.6 L588.6 389.1 L588.9 381.9 L589.2 374.1 L589.6 376.1 L589.9 382.2 L590.2 372.4 L590.5 371.3 L590.8 371.6 L591.2 365.7 L591.5 372.2 L591.8 377.4 L592.1 365.9 L592.4 388.3 L592.8 381.8 L593.1 376.3 L593.4 381.8 L593.7 384 L594 384.2 L594.4 387.2 L594.7 373.6 L595 385.2 L595.3 386.2 L595.6 382.5 L596 378.8 L596.3 387.4 L596.6 379.3 L596.9 390.3 L597.2 384 L597.6 380.4 L597.9 379.5 L598.2 398.7 L598.5 397.8 L598.8 397.6 L599.2 398.8 L599.5 396.6 L599.8 396.9 L600.1 391.7 L600.4 384.8 L600.8 383.1 L601.1 392.2 L601.4 384.7 L601.7 374.2 L602 387.1 L602.4 387.7 L602.7 388 L603 373.9 L603.3 372.9 L603.6 373 L604 374.7 L604.3 376.8 L604.6 377.3 L604.9 374.7 L605.2 372.1 L605.6 378.9 L605.9 378.2 L606.2 376.9 L606.5 375 L606.8 386.1 L607.2 378.5 L607.5 367.2 L607.8 391.4 L608.1 375 L608.4 373.8 L608.8 364.5 L609.1 383.9 L609.4 376.4 L609.7 382.9 L610 377.5 L610.4 374 L610.7 392.5 L611 380.3 L611.3 384.4 L611.6 370.6 L612 372.4 L612.3 366.8 L612.6 378.5 L612.9 374.5 L613.2 406.8 L613.6 408.8 L613.9 409.1 L614.2 409 L614.5 406.7 L614.8 408.3 L615.2 408.3 L615.5 408.7 L615.8 407 L616.1 407.7 L616.4 407.7 L616.8 372.3 L617.1 372.7 L617.4 353.6 L617.7 365.6 L618 362.2 L618.4 371.9 L618.7 373.7 L619 371.9 L619.3 364 L619.6 359.4 L620 364.4 L620.3 365.9 L620.6 371.1 L620.9 379.9 L621.2 367.7 L621.6 375.6 L621.9 366.5 L622.2 382.4 L622.5 372.8 L622.8 370.3 L623.2 373.5 L623.5 372.3 L623.8 369.5 L624.1 367.2 L624.4 367.1 L624.8 368 L625.1 373.3 L625.4 383.7 L625.7 364.2 L626 386.2 L626.4 376.7 L626.7 380.6 L627 382.7 L627.3 377 L627.6 379 L628 384.4 L628.3 388.1 L628.6 388 L628.9 399.3 L629.2 380.7 L629.6 378.6 L629.9 379.8 L630.2 368.6 L630.5 378.4 L630.8 372.2 L631.2 388.2 L631.5 387.9 L631.8 383.8 L632.1 361.2 L632.4 383.7 L632.8 374.9 L633.1 363.6 L633.4 373 L633.7 385.9 L634 384.8 L634.4 394.5 L634.7 383.9 L635 388.9 L635.3 393.7 L635.6 386.7 L636 389.6 L636.3 382.7 L636.6 375.7 L636.9 385.6 L637.2 385.8 L637.6 384.9 L637.9 384.1 L638.2 379.4 L638.5 376.1 L638.8 369.6 L639.2 378.4 L639.5 386.4 L639.8 372.4 L640.1 384.8 L640.4 381.6 L640.8 380.8 L641.1 382.5 L641.4 367.9 L641.7 370.6 L642 362.4 L642.4 368.5 L642.7 364.6 L643 373.3 L643.3 380.4 L643.6 378.5 L644 383.2 L644.3 372.9 L644.6 367.3 L644.9 365.1 L645.2 366.3 L645.6 370.8 L645.9 375 L646.2 371.3 L646.5 384.7 L646.8 385.6 L647.2 383.3 L647.5 385.7 L647.8 373 L648.1 367.4 L648.4 385.5 L648.8 378.2 L649.1 383.5 L649.4 384 L649.7 394.4 L650 383.8 L650.4 375.5 L650.7 385.2 L651 370.6 L651.3 377.9 L651.6 374.8 L652 373.3 L652.3 374.1 L652.6 373.1 L652.9 379 L653.2 392.2 L653.6 365.6 L653.9 376.7 L654.2 380.9 L654.5 375.7 L654.8 375.6 L655.2 376 L655.5 390.8 L655.8 369.1 L656.1 385.4 L656.4 367.1 L656.8 368 L657.1 370.6 L657.4 379.6 L657.7 368.6 L658 379.8 L658.4 368.1 L658.7 375.9 L659 367.5 L659.3 369.8 L659.6 378.5 L660 372.6 L660.3 377.8 L660.6 365.8 L660.9 368.5 L661.2 366.2 L661.6 376 L661.9 372.9 L662.2 381.5 L662.5 376.7 L662.8 379 L663.2 379.3 L663.5 385.2 L663.8 373.3 L664.1 400.8 L664.4 395 L664.8 381.2 L665.1 394.5 L665.4 392.2" fill="none" stroke="#b82a5e" stroke-width="1.6" stroke-linejoin="round"/>
<path d="M147 375.6 L147.3 363.1 L147.6 372.7 L148 384.9 L148.3 382.5 L148.6 370.7 L148.9 392.8 L149.2 371.9 L149.6 381.9 L149.9 377.5 L150.2 380.1 L150.5 379.3 L150.8 379.4 L151.2 386.6 L151.5 377.5 L151.8 377.5 L152.1 375.9 L152.4 381.8 L152.8 377.2 L153.1 382.2 L153.4 383.3 L153.7 371.6 L154 375.3 L154.4 372.4 L154.7 373.1 L155 372.5 L155.3 375.9 L155.6 373.3 L156 366.2 L156.3 371 L156.6 388.9 L156.9 387.6 L157.2 384.8 L157.6 377.2 L157.9 354.6 L158.2 373.3 L158.5 371.1 L158.8 368.7 L159.2 370.6 L159.5 367.5 L159.8 371.2 L160.1 359.5 L160.4 366.8 L160.8 366.5 L161.1 369.1 L161.4 362.7 L161.7 357.7 L162 361 L162.4 377.7 L162.7 371 L163 377.2 L163.3 377 L163.6 388.8 L164 394.6 L164.3 388.5 L164.6 393.6 L164.9 375.6 L165.2 382.8 L165.6 381.3 L165.9 373.9 L166.2 384 L166.5 370.1 L166.8 375.8 L167.2 375.4 L167.5 377.1 L167.8 373.7 L168.1 380.8 L168.4 380.8 L168.8 378.6 L169.1 376.6 L169.4 389 L169.7 393.5 L170 386.6 L170.4 373 L170.7 378.7 L171 379.1 L171.3 371.5 L171.6 382.2 L172 379.6 L172.3 366.7 L172.6 379.8 L172.9 379.2 L173.2 370.9 L173.6 363.5 L173.9 378.4 L174.2 371 L174.5 374.2 L174.8 371.4 L175.2 365.9 L175.5 375.4 L175.8 389.1 L176.1 383.3 L176.4 378 L176.8 376.5 L177.1 370.7 L177.4 379.8 L177.7 387.9 L178 381.5 L178.4 373.4 L178.7 372.8 L179 382.1 L179.3 379.9 L179.6 386.4 L180 378 L180.3 375.6 L180.6 381.8 L180.9 382.7 L181.2 384 L181.6 390.8 L181.9 383.9 L182.2 395.8 L182.5 374.6 L182.8 377.6 L183.2 370.4 L183.5 368.7 L183.8 363.7 L184.1 379.6 L184.4 384.6 L184.8 383.3 L185.1 379.5 L185.4 360.1 L185.7 372.4 L186 361.5 L186.4 363.2 L186.7 364.9 L187 362.4 L187.3 369.1 L187.6 358.9 L188 353.1 L188.3 369.4 L188.6 368.3 L188.9 356.7 L189.2 377.3 L189.6 379.7 L189.9 376.3 L190.2 376.4 L190.5 366.8 L190.8 381.8 L191.2 387.8 L191.5 390.6 L191.8 390.2 L192.1 403.4 L192.4 400.1 L192.8 399.6 L193.1 388.2 L193.4 385.7 L193.7 372.3 L194 371.9 L194.4 381.5 L194.7 378.1 L195 387.5 L195.3 381.4 L195.6 380.3 L196 377 L196.3 378.8 L196.6 375.1 L196.9 382.5 L197.2 379.7 L197.6 372.5 L197.9 376.6 L198.2 391.2 L198.5 382.8 L198.8 395.8 L199.2 382 L199.5 384.7 L199.8 379.9 L200.1 382.8 L200.4 389.5 L200.8 372.8 L201.1 373.2 L201.4 383.9 L201.7 376.1 L202 381 L202.4 383.8 L202.7 382.5 L203 373.7 L203.3 375.6 L203.6 377.5 L204 372.1 L204.3 376.6 L204.6 379.2 L204.9 384.9 L205.2 386.2 L205.6 389 L205.9 392.3 L206.2 388.6 L206.5 384.7 L206.8 388.7 L207.2 377.2 L207.5 388 L207.8 389.1 L208.1 373.5 L208.4 374.6 L208.8 387.1 L209.1 374 L209.4 376.8 L209.7 376.9 L210 378.3 L210.4 371.6 L210.7 358.5 L211 377.7 L211.3 377.7 L211.6 364 L212 380.9 L212.3 368.4 L212.6 379.7 L212.9 380.2 L213.2 371.9 L213.6 388.7 L213.9 384.1 L214.2 379.3 L214.5 382.2 L214.8 384.9 L215.2 385.5 L215.5 377.4 L215.8 380.4 L216.1 377.5 L216.4 378.3 L216.8 369.8 L217.1 382.7 L217.4 380.6 L217.7 381.1 L218 372.2 L218.4 381 L218.7 379.4 L219 367.9 L219.3 378.7 L219.6 373.4 L220 375.7 L220.3 378 L220.6 378.4 L220.9 377.9 L221.2 371.5 L221.6 365.7 L221.9 374.9 L222.2 378.5 L222.5 376.7 L222.8 373.6 L223.2 376 L223.5 365.9 L223.8 377.3 L224.1 371.8 L224.4 366.8 L224.8 382.3 L225.1 382.4 L225.4 376.9 L225.7 382.1 L226 372.6 L226.4 393.1 L226.7 380.6 L227 387.6 L227.3 385 L227.6 378.6 L228 375.9 L228.3 364.8 L228.6 379.3 L228.9 374.9 L229.2 386.5 L229.6 386.9 L229.9 378.8 L230.2 389.1 L230.5 381.6 L230.8 382.6 L231.2 383.8 L231.5 382 L231.8 381 L232.1 386.2 L232.4 378.3 L232.8 379.5 L233.1 381.3 L233.4 389.8 L233.7 382.1 L234 391 L234.4 381.3 L234.7 369.5 L235 368 L235.3 374.5 L235.6 380.8 L236 384.5 L236.3 375.4 L236.6 383.9 L236.9 384.4 L237.2 381.8 L237.6 373.9 L237.9 365 L238.2 386.3 L238.5 389.2 L238.8 388.3 L239.2 392.2 L239.5 399.5 L239.8 404.7 L240.1 405.3 L240.4 407.7 L240.8 408.2 L241.1 386.3 L241.4 394.2 L241.7 392.7 L242 380.8 L242.4 390.3 L242.7 390.5 L243 388.5 L243.3 387.8 L243.6 395.4 L244 396 L244.3 382.1 L244.6 389.9 L244.9 388.1 L245.2 394.8 L245.6 388.7 L245.9 387.5 L246.2 389.8 L246.5 389 L246.8 389 L247.2 388.4 L247.5 397.6 L247.8 401.7 L248.1 404.7 L248.4 405.1 L248.8 405.4 L249.1 406.5 L249.4 407.3 L249.7 408.2 L250 391.8 L250.4 397.2 L250.7 392.2 L251 389.4 L251.3 389.1 L251.6 401.5 L252 390.6 L252.3 396.7 L252.6 393.3 L252.9 399.1 L253.2 404.8 L253.6 406.1 L253.9 405.7 L254.2 407.4 L254.5 407 L254.8 407.4 L255.2 407.7 L255.5 405.5 L255.8 407.7 L256.1 408.2 L256.4 406.2 L256.8 406 L257.1 407.4 L257.4 406 L257.7 408.2 L258 408 L258.4 407.9 L258.7 406.6 L259 407.1 L259.3 404.2 L259.6 392.8 L260 370.6 L260.3 379.3 L260.6 378.9 L260.9 381.5 L261.2 373.2 L261.6 370.9 L261.9 375.1 L262.2 366.2 L262.5 377.8 L262.8 373.5 L263.2 378.4 L263.5 379 L263.8 390.7 L264.1 398.2 L264.4 403.4 L264.8 406.5 L265.1 406.7 L265.4 406.3 L265.7 407.5 L266 405.4 L266.4 398.3 L266.7 383.1 L267 382.2 L267.3 368.3 L267.6 373.7 L268 375.9 L268.3 377.3 L268.6 394.2 L268.9 381.5 L269.2 388 L269.6 379.7 L269.9 374.5 L270.2 376.1 L270.5 389.6 L270.8 400.6 L271.2 404.7 L271.5 394.9 L271.8 383.7 L272.1 374.4 L272.4 374.3 L272.8 382.4 L273.1 376.5 L273.4 382.1 L273.7 377.8 L274 382.4 L274.4 380.1 L274.7 373.2 L275 376.2 L275.3 378.1 L275.6 393.7 L276 399.6 L276.3 404.9 L276.6 405.6 L276.9 406.4 L277.2 405.2 L277.6 406.4 L277.9 405.1 L278.2 405.1 L278.5 396.3 L278.8 388.2 L279.2 390.8 L279.5 379.3 L279.8 382.3 L280.1 385.4 L280.4 393.7 L280.8 377.1 L281.1 388 L281.4 387.1 L281.7 390.5 L282 391.8 L282.4 386.5 L282.7 391.4 L283 397.4 L283.3 393.1 L283.6 396.3 L284 387.3 L284.3 391.5 L284.6 398.5 L284.9 404.3 L285.2 404.5 L285.6 405.6 L285.9 406.1 L286.2 405.8 L286.5 406.4 L286.8 404.5 L287.2 406.7 L287.5 400.2 L287.8 385.4 L288.1 369.3 L288.4 376.6 L288.8 375.1 L289.1 381.9 L289.4 378.2 L289.7 380.5 L290 380.4 L290.4 370.8 L290.7 374.1 L291 374.6 L291.3 367.3 L291.6 376.8 L292 376.6 L292.3 393.7 L292.6 399.4 L292.9 405.2 L293.2 407.7 L293.6 405.6 L293.9 405.6 L294.2 408.2 L294.5 387.8 L294.8 380.1 L295.2 373.6 L295.5 372.4 L295.8 380.4 L296.1 365.3 L296.4 381.8 L296.8 394.2 L297.1 401 L297.4 403.9 L297.7 391.7 L298 387.2 L298.4 390 L298.7 386.8 L299 391.5 L299.3 391.5 L299.6 384.2 L300 390.9 L300.3 391.7 L300.6 400.1 L300.9 403.1 L301.2 407.7 L301.6 408.2 L301.9 388.1 L302.2 386.3 L302.5 371.9 L302.8 377.8 L303.2 380.8 L303.5 370.3 L303.8 370.9 L304.1 372.6 L304.4 378.9 L304.8 371.6 L305.1 377.4 L305.4 393.4 L305.7 399.8 L306 403.4 L306.4 406.6 L306.7 405.6 L307 408.2 L307.3 408.2 L307.6 406.3 L308 408.2 L308.3 393.7 L308.6 383 L308.9 395.1 L309.2 384.8 L309.6 390.5 L309.9 383.9 L310.2 395.9 L310.5 401.7 L310.8 406.4 L311.2 405.9 L311.5 405.9 L311.8 407.2 L312.1 407.8 L312.4 407.1 L312.8 408.2 L313.1 407 L313.4 407.6 L313.7 405.9 L314 408.2 L314.4 400.4 L314.7 389.7 L315 397.6 L315.3 384 L315.6 380.1 L316 386.5 L316.3 381.1 L316.6 388.5 L316.9 383.5 L317.2 383.7 L317.6 376.6 L317.9 379.9 L318.2 394 L318.5 401.2 L318.8 405.9 L319.2 405.4 L319.5 407.8 L319.8 404.4 L320.1 383.8 L320.4 377.4 L320.8 372.8 L321.1 380.1 L321.4 376.8 L321.7 376 L322 377.4 L322.4 392 L322.7 389.7 L323 384.2 L323.3 373.8 L323.6 362.8 L324 351.7 L324.3 360.1 L324.6 372 L324.9 374.3 L325.2 373.8 L325.6 391.1 L325.9 381.2 L326.2 405.9 L326.5 407.3 L326.8 408.1 L327.2 405.8 L327.5 405.7 L327.8 406.2 L328.1 406.6 L328.4 407.3 L328.8 405.4 L329.1 406 L329.4 407.1 L329.7 407.1 L330 407.1 L330.4 408 L330.7 406 L331 406.9 L331.3 407.2 L331.6 407.4 L332 407.9 L332.3 407.5 L332.6 407.4 L332.9 406.3 L333.2 406.6 L333.6 406.4 L333.9 407.1 L334.2 406.5 L334.5 405.8 L334.8 406.2 L335.2 407.9 L335.5 407.6 L335.8 406.4 L336.1 405.5 L336.4 405.9 L336.8 407.3 L337.1 407.8 L337.4 405.6 L337.7 406 L338 407.4 L338.4 406.8 L338.7 407.9 L339 405.9 L339.3 407.3 L339.6 407.1 L340 407.5 L340.3 407.9 L340.6 406.1 L340.9 406.8 L341.2 407.1 L341.6 406.3 L341.9 405.4 L342.2 394.4 L342.5 382.8 L342.8 391 L343.2 389.2 L343.5 400.3 L343.8 403.1 L344.1 404.2 L344.4 406.4 L344.8 396 L345.1 388.1 L345.4 373.3 L345.7 368.3 L346 362.9 L346.4 369.2 L346.7 376.8 L347 375.2 L347.3 384.6 L347.6 379.9 L348 395.5 L348.3 386.3 L348.6 390.7 L348.9 399.1 L349.2 403 L349.6 404.4 L349.9 404.6 L350.2 406.4 L350.5 405.9 L350.8 406.6 L351.2 406.1 L351.5 405.6 L351.8 408.2 L352.1 405.7 L352.4 407 L352.8 407.1 L353.1 405.9 L353.4 406 L353.7 407.1 L354 405 L354.4 406.7 L354.7 406.3 L355 407.2 L355.3 408.2 L355.6 406.7 L356 407 L356.3 408.2 L356.6 408.2 L356.9 405.2 L357.2 407.6 L357.6 408.2 L357.9 406.7 L358.2 406.6 L358.5 405.6 L358.8 407.3 L359.2 407.4 L359.5 405.8 L359.8 408.2 L360.1 407.9 L360.4 406.8 L360.8 407.3 L361.1 406.9 L361.4 405.8 L361.7 406.4 L362 406.1 L362.4 406.8 L362.7 406.9 L363 399.2 L363.3 398.4 L363.6 389.9 L364 391.1 L364.3 384.7 L364.6 380.9 L364.9 386.7 L365.2 394.4 L365.6 400.9 L365.9 403.9 L366.2 406.8 L366.5 405.5 L366.8 408.2 L367.2 408.2 L367.5 408.2 L367.8 408.2 L368.1 408 L368.4 407.2 L368.8 407 L369.1 407.7 L369.4 406.2 L369.7 406.4 L370 408.2 L370.4 405.8 L370.7 405.6 L371 405.4 L371.3 406.4 L371.6 406.8 L372 407.4 L372.3 408 L372.6 408.2 L372.9 408.2 L373.2 386.2 L373.6 378.7 L373.9 383.1 L374.2 374.2 L374.5 375.3 L374.8 374.1 L375.2 387.8 L375.5 385.7 L375.8 380.5 L376.1 374.5 L376.4 376.8 L376.8 380.4 L377.1 376.3 L377.4 381.3 L377.7 391.9 L378 401.6 L378.4 403.4 L378.7 403.5 L379 407.4 L379.3 408.2 L379.6 407.1 L380 406.2 L380.3 408.2 L380.6 407.3 L380.9 406.2 L381.2 405.2 L381.6 407.4 L381.9 407.4 L382.2 407.2 L382.5 408.2 L382.8 408.2 L383.2 407.2 L383.5 407.4 L383.8 407 L384.1 406.3 L384.4 408.2 L384.8 408.2 L385.1 408.2 L385.4 408.2 L385.7 408.2 L386 406.5 L386.4 406.7 L386.7 405.5 L387 406.9 L387.3 408.2 L387.6 408.2 L388 407.8 L388.3 408.2 L388.6 407.9 L388.9 407.1 L389.2 407 L389.6 408.2 L389.9 391.9 L390.2 395.3 L390.5 397.4 L390.8 396.2 L391.2 394.3 L391.5 389.2 L391.8 394.5 L392.1 395.4 L392.4 396.7 L392.8 400 L393.1 405.7 L393.4 406.6 L393.7 408.2 L394 407 L394.4 405.4 L394.7 407.7 L395 406.2 L395.3 403.9 L395.6 406.9 L396 406.8 L396.3 408.2 L396.6 407.7 L396.9 408.2 L397.2 408.2 L397.6 408.2 L397.9 406.2 L398.2 405.4 L398.5 407.8 L398.8 408.2 L399.2 405.9 L399.5 406.2 L399.8 406.9 L400.1 406.9 L400.4 406.8 L400.8 406.7 L401.1 408.2 L401.4 408.2 L401.7 408.2 L402 405.5 L402.4 407.3 L402.7 389.9 L403 387.2 L403.3 387.1 L403.6 383.2 L404 380.2 L404.3 382.2 L404.6 393.4 L404.9 390.7 L405.2 386.2 L405.6 387.2 L405.9 388 L406.2 389.7 L406.5 383.4 L406.8 388.8 L407.2 381.7 L407.5 392.1 L407.8 380.2 L408.1 375.3 L408.4 376.5 L408.8 372.7 L409.1 369.5 L409.4 377.5 L409.7 384.9 L410 392.5 L410.4 401 L410.7 407.9 L411 408 L411.3 405.4 L411.6 407.1 L412 406.3 L412.3 408.1 L412.6 408.2 L412.9 401.6 L413.2 395.6 L413.6 383.7 L413.9 392.3 L414.2 390.5 L414.5 399.2 L414.8 394.6 L415.2 392.9 L415.5 386.4 L415.8 394 L416.1 394.3 L416.4 387.5 L416.8 395.6 L417.1 390.5 L417.4 390.1 L417.7 389 L418 397.6 L418.4 392 L418.7 399.3 L419 401.9 L419.3 405.8 L419.6 406.6 L420 408.2 L420.3 406.8 L420.6 407.2 L420.9 407.1 L421.2 405.7 L421.6 408.2 L421.9 405 L422.2 407.7 L422.5 408.2 L422.8 408.2 L423.2 408.2 L423.5 408.1 L423.8 408.1 L424.1 408.2 L424.4 408.2 L424.8 407.7 L425.1 407.3 L425.4 407.4 L425.7 407.5 L426 407.8 L426.4 408.2 L426.7 408.2 L427 407 L427.3 406.2 L427.6 406.1 L428 406.8 L428.3 406.9 L428.6 408.2 L428.9 408.2 L429.2 407.1 L429.6 397.1 L429.9 390 L430.2 391.9 L430.5 395.5 L430.8 393.8 L431.2 385.6 L431.5 392.3 L431.8 396.1 L432.1 387.5 L432.4 376.4 L432.8 390.6 L433.1 380.3 L433.4 376.2 L433.7 367.6 L434 365 L434.4 371.1 L434.7 377 L435 381.5 L435.3 394.4 L435.6 399.1 L436 398.8 L436.3 390.1 L436.6 398.1 L436.9 388.8 L437.2 391.4 L437.6 390.7 L437.9 397.4 L438.2 401.3 L438.5 405.1 L438.8 403.3 L439.2 396 L439.5 391.1 L439.8 387.4 L440.1 395.7 L440.4 398 L440.8 383.7 L441.1 395.6 L441.4 388.4 L441.7 395.8 L442 392.9 L442.4 387.1 L442.7 396 L443 400.5 L443.3 389.8 L443.6 391.5 L444 395.7 L444.3 386.3 L444.6 389.3 L444.9 397.4 L445.2 402.7 L445.6 405.7 L445.9 404.8 L446.2 406 L446.5 406.4 L446.8 403.8 L447.2 407.4 L447.5 406.7 L447.8 404 L448.1 405.6 L448.4 407.8 L448.8 404.7 L449.1 406.4 L449.4 407.1 L449.7 405.3 L450 406.2 L450.4 407.4 L450.7 406.7 L451 406.4 L451.3 407.6 L451.6 404.9 L452 408 L452.3 406.3 L452.6 408 L452.9 407.5 L453.2 405.9 L453.6 407.3 L453.9 405.8 L454.2 403.3 L454.5 391.5 L454.8 380.8 L455.2 390.4 L455.5 381.1 L455.8 378.6 L456.1 378.6 L456.4 390.4 L456.8 380.7 L457.1 385.7 L457.4 396.8 L457.7 402 L458 404.9 L458.4 405.7 L458.7 406.4 L459 407.5 L459.3 408.2 L459.6 386.6 L460 374.5 L460.3 374.7 L460.6 372.4 L460.9 378 L461.2 376.8 L461.6 372.5 L461.9 369.7 L462.2 375.2 L462.5 392.4 L462.8 398.1 L463.2 403.9 L463.5 406.6 L463.8 406.2 L464.1 407.4 L464.4 407.1 L464.8 406.4 L465.1 407.5 L465.4 407.4 L465.7 406.6 L466 407.3 L466.4 404.3 L466.7 405.6 L467 406.3 L467.3 406.7 L467.6 404.9 L468 408.2 L468.3 408 L468.6 406.9 L468.9 406.8 L469.2 407.4 L469.6 406.9 L469.9 405 L470.2 406.6 L470.5 407 L470.8 407.1 L471.2 406.9 L471.5 398.4 L471.8 388.6 L472.1 376.3 L472.4 364.8 L472.8 353.6 L473.1 355.1 L473.4 366.5 L473.7 379.1 L474 391 L474.4 392.2 L474.7 392.1 L475 379.7 L475.3 397.5 L475.6 394.2 L476 392.3 L476.3 400.3 L476.6 402.6 L476.9 403.8 L477.2 406.5 L477.6 407.6 L477.9 407.6 L478.2 407.4 L478.5 405.3 L478.8 407.4 L479.2 408.2 L479.5 408.2 L479.8 407.8 L480.1 406.4 L480.4 406.9 L480.8 407.4 L481.1 405.1 L481.4 408.2 L481.7 408.2 L482 407 L482.4 406.8 L482.7 405.8 L483 406.7 L483.3 407.2 L483.6 406.6 L484 403.3 L484.3 396.5 L484.6 390.8 L484.9 391.1 L485.2 387.9 L485.6 392.1 L485.9 400.8 L486.2 402.7 L486.5 402.5 L486.8 406.1 L487.2 407.6 L487.5 408.2 L487.8 407.9 L488.1 408.2 L488.4 408.2 L488.8 408.1 L489.1 407.5 L489.4 408.1 L489.7 406.1 L490 407 L490.4 407 L490.7 405.3 L491 405.9 L491.3 407.1 L491.6 405.9 L492 406.7 L492.3 406.3 L492.6 406.5 L492.9 406.4 L493.2 398.2 L493.6 390.3 L493.9 386.4 L494.2 389.1 L494.5 400.3 L494.8 390.9 L495.2 387.4 L495.5 392 L495.8 392.6 L496.1 393 L496.4 389.2 L496.8 394.1 L497.1 393.4 L497.4 401.7 L497.7 391.6 L498 399.3 L498.4 402.6 L498.7 403 L499 403.5 L499.3 407.4 L499.6 407.2 L500 408.2 L500.3 408.2 L500.6 407.9 L500.9 408.2 L501.2 408.2 L501.6 408 L501.9 407.8 L502.2 406.6 L502.5 408.2 L502.8 407.1 L503.2 406.4 L503.5 408.2 L503.8 406.6 L504.1 408.2 L504.4 407.5 L504.8 407.2 L505.1 407.4 L505.4 407.3 L505.7 407.8 L506 406.3 L506.4 406.5 L506.7 406.6 L507 406.6 L507.3 407.8 L507.6 408.2 L508 407.4 L508.3 407.1 L508.6 406.4 L508.9 407.2 L509.2 408.1 L509.6 407.2 L509.9 406.4 L510.2 408.2 L510.5 407.9 L510.8 406.7 L511.2 406.6 L511.5 408.2 L511.8 407.3 L512.1 408 L512.4 407.1 L512.8 408.2 L513.1 389.1 L513.4 393 L513.7 390.5 L514 379.6 L514.4 371.8 L514.7 381.6 L515 387.9 L515.3 383.2 L515.6 371.1 L516 383.1 L516.3 390.6 L516.6 389.9 L516.9 376.9 L517.2 373.5 L517.6 373.3 L517.9 371.1 L518.2 381.4 L518.5 380.6 L518.8 377.4 L519.2 372.7 L519.5 379 L519.8 376.3 L520.1 405.8 L520.4 405.1 L520.8 407.3 L521.1 406.8 L521.4 406.6 L521.7 406.3 L522 407.1 L522.4 405.7 L522.7 405 L523 406.7 L523.3 407.2 L523.6 405.9 L524 406.8 L524.3 405.7 L524.6 407.3 L524.9 406 L525.2 404.8 L525.6 404.9 L525.9 406 L526.2 406.8 L526.5 405.7 L526.8 406 L527.2 406.8 L527.5 407.2 L527.8 405.3 L528.1 406.4 L528.4 406.7 L528.8 406.9 L529.1 406.4 L529.4 407.2 L529.7 405.3 L530 394.2 L530.4 391.3 L530.7 385.8 L531 393.3 L531.3 396.5 L531.6 388.6 L532 389.8 L532.3 382.5 L532.6 382.3 L532.9 382.3 L533.2 371.2 L533.6 375.4 L533.9 383.3 L534.2 384.7 L534.5 383.3 L534.8 391.5 L535.2 378.6 L535.5 383.1 L535.8 376.6 L536.1 372.1 L536.4 369.9 L536.8 367.1 L537.1 365.8 L537.4 373.7 L537.7 382.8 L538 391.8 L538.4 401.6 L538.7 406.3 L539 405.9 L539.3 408.1 L539.6 408.2 L540 405.6 L540.3 403 L540.6 384.8 L540.9 379.4 L541.2 380.2 L541.6 387.4 L541.9 380.5 L542.2 386.5 L542.5 385.7 L542.8 381.2 L543.2 384.1 L543.5 384.3 L543.8 380.7 L544.1 380.5 L544.4 380 L544.8 392.4 L545.1 399.6 L545.4 405.1 L545.7 407 L546 406.5 L546.4 406.7 L546.7 405 L547 405.9 L547.3 406.8 L547.6 406.2 L548 407.9 L548.3 404.9 L548.6 407.6 L548.9 407.1 L549.2 406.7 L549.6 401.9 L549.9 394.2 L550.2 386.1 L550.5 376.8 L550.8 368.5 L551.2 368.4 L551.5 376.8 L551.8 385.9 L552.1 394.2 L552.4 403 L552.8 407.3 L553.1 408.2 L553.4 386.1 L553.7 380.9 L554 386.6 L554.4 381.8 L554.7 380.2 L555 380.4 L555.3 390.7 L555.6 386.7 L556 372.4 L556.3 383.7 L556.6 386.4 L556.9 374.6 L557.2 375.4 L557.6 374.1 L557.9 378.4 L558.2 374.9 L558.5 390.4 L558.8 398.4 L559.2 399 L559.5 396.4 L559.8 394 L560.1 398.7 L560.4 396.6 L560.8 389 L561.1 381 L561.4 389.7 L561.7 397.2 L562 391.4 L562.4 399.4 L562.7 395.1 L563 395.3 L563.3 397.7 L563.6 387.9 L564 386.8 L564.3 404.2 L564.6 395 L564.9 398.5 L565.2 394.5 L565.6 392.4 L565.9 400.1 L566.2 401.2 L566.5 404.9 L566.8 405.9 L567.2 406.5 L567.5 407.4 L567.8 406.8 L568.1 408.2 L568.4 408.2 L568.8 407.3 L569.1 407.8 L569.4 408.1 L569.7 407.2 L570 408.2 L570.4 406 L570.7 407.5 L571 408.2 L571.3 407.3 L571.6 407 L572 406.5 L572.3 406.5 L572.6 406.7 L572.9 407.1 L573.2 406.1 L573.6 404.9 L573.9 405.8 L574.2 407.7 L574.5 406.3 L574.8 408.2 L575.2 385.5 L575.5 378.9 L575.8 368.4 L576.1 383.9 L576.4 384.4 L576.8 373 L577.1 382.8 L577.4 384.5 L577.7 394.3 L578 403.3 L578.4 405 L578.7 405.7 L579 405.7 L579.3 407.4 L579.6 408.2 L580 404.9 L580.3 406.3 L580.6 407.5 L580.9 407.7 L581.2 407.7 L581.6 406.2 L581.9 406.1 L582.2 399.3 L582.5 408.2 L582.8 396.3 L583.2 395.3 L583.5 391.4 L583.8 391.9 L584.1 390.5 L584.4 389.8 L584.8 388.1 L585.1 384.8 L585.4 386.9 L585.7 380.2 L586 391.7 L586.4 383.8 L586.7 379.1 L587 376.8 L587.3 378.6 L587.6 379.8 L588 374.3 L588.3 375 L588.6 371.3 L588.9 373.4 L589.2 368.2 L589.6 363.9 L589.9 372.5 L590.2 377.3 L590.5 382 L590.8 372.9 L591.2 375.1 L591.5 365.9 L591.8 373.8 L592.1 369.3 L592.4 368.1 L592.8 360.7 L593.1 369.8 L593.4 368.9 L593.7 360.7 L594 366.4 L594.4 364.7 L594.7 364.4 L595 362.6 L595.3 371.6 L595.6 375.3 L596 357 L596.3 367.2 L596.6 369.8 L596.9 366.5 L597.2 371 L597.6 373.5 L597.9 366.1 L598.2 375.8 L598.5 368.9 L598.8 354.1 L599.2 342.5 L599.5 336.6 L599.8 348 L600.1 356.1 L600.4 356 L600.8 355 L601.1 352.5 L601.4 353.8 L601.7 354.7 L602 357.5 L602.4 360.9 L602.7 368.1 L603 362.2 L603.3 366.9 L603.6 366.6 L604 369.4 L604.3 366.1 L604.6 366.3 L604.9 367.9 L605.2 370.7 L605.6 375 L605.9 375.6 L606.2 381.7 L606.5 384.3 L606.8 371.2 L607.2 371.4 L607.5 377.8 L607.8 375.1 L608.1 374.4 L608.4 373.2 L608.8 373.7 L609.1 376 L609.4 378.4 L609.7 381.1 L610 373.4 L610.4 379.2 L610.7 371.2 L611 378 L611.3 379.8 L611.6 381.4 L612 376.4 L612.3 369.2 L612.6 379.8 L612.9 373 L613.2 365.1 L613.6 373.5 L613.9 369.2 L614.2 375.5 L614.5 379.4 L614.8 376.9 L615.2 374.3 L615.5 377.9 L615.8 372.9 L616.1 369.4 L616.4 368.1 L616.8 375.8 L617.1 370.7 L617.4 368.4 L617.7 371.5 L618 367.7 L618.4 362.2 L618.7 373.6 L619 371.2 L619.3 353.8 L619.6 360.8 L620 369.4 L620.3 372.2 L620.6 372.7 L620.9 370.4 L621.2 365.2 L621.6 384.2 L621.9 368.7 L622.2 370.8 L622.5 380.1 L622.8 381.2 L623.2 375.6 L623.5 383.8 L623.8 380.8 L624.1 364.6 L624.4 370 L624.8 372.3 L625.1 376.1 L625.4 369.1 L625.7 371.4 L626 375.8 L626.4 365.3 L626.7 375.4 L627 377.5 L627.3 371.1 L627.6 366.3 L628 373.9 L628.3 372.8 L628.6 373.9 L628.9 375.1 L629.2 374.1 L629.6 372.7 L629.9 376.7 L630.2 375 L630.5 370.3 L630.8 362.5 L631.2 372.2 L631.5 368 L631.8 372.3 L632.1 372.5 L632.4 366.7 L632.8 369.7 L633.1 366.9 L633.4 372.9 L633.7 384.9 L634 378.8 L634.4 377.3 L634.7 380.3 L635 388.3 L635.3 380.3 L635.6 380.5 L636 380.6 L636.3 384.3 L636.6 382.9 L636.9 379.6 L637.2 383.1 L637.6 381.3 L637.9 382.1 L638.2 388.3 L638.5 374.7 L638.8 368.3 L639.2 376.6 L639.5 371.3 L639.8 369.2 L640.1 374.9 L640.4 365 L640.8 370.1 L641.1 375.8 L641.4 367.8 L641.7 373.5 L642 374.5 L642.4 376.3 L642.7 377.7 L643 374.9 L643.3 372.8 L643.6 380 L644 376.9 L644.3 380.9 L644.6 376.3 L644.9 370 L645.2 381.1 L645.6 380.4 L645.9 383.7 L646.2 376.3 L646.5 386.7 L646.8 378.8 L647.2 388.8 L647.5 396 L647.8 406.4 L648.1 396.1 L648.4 397.7 L648.8 390.9 L649.1 381.1 L649.4 379.6 L649.7 387.9 L650 391.8 L650.4 382.7 L650.7 392.8 L651 387.1 L651.3 382.3 L651.6 375.6 L652 371.5 L652.3 378.6 L652.6 375.4 L652.9 372 L653.2 370.3 L653.6 370.2 L653.9 372 L654.2 366.3 L654.5 379.1 L654.8 372.2 L655.2 367.1 L655.5 380.4 L655.8 372.2 L656.1 384.3 L656.4 372.9 L656.8 360.6 L657.1 372.2 L657.4 377.1 L657.7 361.3 L658 376.2 L658.4 381.5 L658.7 372 L659 378.2 L659.3 367.7 L659.6 372 L660 369.7 L660.3 372.9 L660.6 370.1 L660.9 376.4 L661.2 375.6 L661.6 368.1 L661.9 381.2 L662.2 372.3 L662.5 372.2 L662.8 376.3 L663.2 378.1 L663.5 376.4 L663.8 381.4 L664.1 374.2 L664.4 373 L664.8 382.2 L665.1 381 L665.4 369.7" fill="none" stroke="#d6b27e" stroke-width="1.6" stroke-linejoin="round"/>
<line x1="612.5" y1="310.5" x2="623.9" y2="310.5" stroke="#d6b27e" stroke-width="1.1"/>
<line x1="612.5" y1="324.5" x2="623.9" y2="324.5" stroke="#b82a5e" stroke-width="1.1"/>
<line x1="612.5" y1="338.6" x2="623.9" y2="338.6" stroke="#1b8a8f" stroke-width="1.1"/>
<text x="631" y="314.3" font-size="10.5" text-anchor="start" fill="#1a1a1a" font-weight="normal" font-style="italic">gg</text>
<text x="631" y="328" font-size="10.5" text-anchor="start" fill="#1a1a1a" font-weight="normal" font-style="italic">Gg</text>
<text x="631" y="342" font-size="10.5" text-anchor="start" fill="#1a1a1a" font-weight="normal" font-style="italic">GG</text>
<line x1="233.5" y1="546.2" x2="233.5" y2="556.6" stroke="#0000ff" stroke-width="1.3"/>
<line x1="252" y1="546.2" x2="252" y2="556.6" stroke="#0000ff" stroke-width="1.3"/>
<line x1="373.8" y1="546.2" x2="373.8" y2="556.6" stroke="#0000ff" stroke-width="1.3"/>
<line x1="382.4" y1="546.2" x2="382.4" y2="556.6" stroke="#0000ff" stroke-width="1.3"/>
<line x1="393" y1="546.2" x2="393" y2="556.6" stroke="#0000ff" stroke-width="1.3"/>
<line x1="476" y1="546.2" x2="476" y2="556.6" stroke="#0000ff" stroke-width="1.3"/>
<line x1="488" y1="546.2" x2="488" y2="556.6" stroke="#0000ff" stroke-width="1.3"/>
<line x1="497.5" y1="546.2" x2="497.5" y2="556.6" stroke="#0000ff" stroke-width="1.3"/>
<line x1="505.6" y1="546.2" x2="505.6" y2="556.6" stroke="#0000ff" stroke-width="1.3"/>
<line x1="504" y1="546.2" x2="504" y2="556.6" stroke="#0000ff" stroke-width="1.3"/>
<line x1="537.7" y1="546.2" x2="537.7" y2="556.6" stroke="#0000ff" stroke-width="1.3"/>
<line x1="321.3" y1="546.2" x2="321.3" y2="556.6" stroke="#ff0000" stroke-width="1.3"/>
<line x1="342.7" y1="546.2" x2="342.7" y2="556.6" stroke="#ff0000" stroke-width="1.3"/>
<line x1="344.6" y1="546.2" x2="344.6" y2="556.6" stroke="#ff0000" stroke-width="1.3"/>
<line x1="346.5" y1="546.2" x2="346.5" y2="556.6" stroke="#ff0000" stroke-width="1.3"/>
<line x1="357.9" y1="546.2" x2="357.9" y2="556.6" stroke="#ff0000" stroke-width="1.3"/>
<line x1="375" y1="546.2" x2="375" y2="556.6" stroke="#ff0000" stroke-width="1.3"/>
<line x1="390.7" y1="546.2" x2="390.7" y2="556.6" stroke="#ff0000" stroke-width="1.3"/>
<line x1="392" y1="546.2" x2="392" y2="556.6" stroke="#ff0000" stroke-width="1.3"/>
<line x1="393.7" y1="546.2" x2="393.7" y2="556.6" stroke="#ff0000" stroke-width="1.3"/>
<line x1="395" y1="546.2" x2="395" y2="556.6" stroke="#ff0000" stroke-width="1.3"/>
<line x1="399.8" y1="546.2" x2="399.8" y2="556.6" stroke="#ff0000" stroke-width="1.3"/>
<line x1="402.3" y1="546.2" x2="402.3" y2="556.6" stroke="#ff0000" stroke-width="1.3"/>
<line x1="403.8" y1="546.2" x2="403.8" y2="556.6" stroke="#ff0000" stroke-width="1.3"/>
<line x1="474" y1="546.2" x2="474" y2="556.6" stroke="#ff0000" stroke-width="1.3"/>
<line x1="479" y1="546.2" x2="479" y2="556.6" stroke="#ff0000" stroke-width="1.3"/>
<line x1="494.2" y1="546.2" x2="494.2" y2="556.6" stroke="#ff0000" stroke-width="1.3"/>
<line x1="495.5" y1="546.2" x2="495.5" y2="556.6" stroke="#ff0000" stroke-width="1.3"/>
<line x1="496.8" y1="546.2" x2="496.8" y2="556.6" stroke="#ff0000" stroke-width="1.3"/>
<line x1="502.3" y1="546.2" x2="502.3" y2="556.6" stroke="#ff0000" stroke-width="1.3"/>
<line x1="503.8" y1="546.2" x2="503.8" y2="556.6" stroke="#ff0000" stroke-width="1.3"/>
<line x1="506.9" y1="546.2" x2="506.9" y2="556.6" stroke="#ff0000" stroke-width="1.3"/>
<line x1="536" y1="546.2" x2="536" y2="556.6" stroke="#ff0000" stroke-width="1.3"/>
<line x1="539.6" y1="546.2" x2="539.6" y2="556.6" stroke="#ff0000" stroke-width="1.3"/>
<line x1="541.3" y1="546.2" x2="541.3" y2="556.6" stroke="#ff0000" stroke-width="1.3"/>
<line x1="561.9" y1="546.2" x2="561.9" y2="556.6" stroke="#ff0000" stroke-width="1.3"/>
<g fill="#000"><circle cx="149.4" cy="545.6" r="1.9"/><circle cx="160.3" cy="545.6" r="1.9"/><circle cx="162.8" cy="545.6" r="1.9"/><circle cx="165.4" cy="545.6" r="1.9"/><circle cx="176.7" cy="545.6" r="1.9"/><circle cx="179.2" cy="545.6" r="1.9"/><circle cx="181.8" cy="545.6" r="1.9"/><circle cx="176.2" cy="528.4" r="1.9"/><circle cx="178" cy="525.9" r="1.9"/><circle cx="176.7" cy="533.4" r="1.9"/><circle cx="179.2" cy="534.7" r="1.9"/><circle cx="189.3" cy="542.5" r="1.9"/><circle cx="190.6" cy="541.5" r="1.9"/><circle cx="189.5" cy="545.6" r="1.9"/><circle cx="196.9" cy="531.7" r="1.9"/><circle cx="196.9" cy="545.6" r="1.9"/><circle cx="209.5" cy="534.7" r="1.9"/><circle cx="209.5" cy="545.6" r="1.9"/><circle cx="214.6" cy="545.6" r="1.9"/><circle cx="226.7" cy="526.6" r="1.9"/><circle cx="227.2" cy="545.6" r="1.9"/><circle cx="229.5" cy="545.6" r="1.9"/><circle cx="231" cy="545.6" r="1.9"/><circle cx="233.5" cy="517.5" r="1.9"/><circle cx="237.8" cy="510.7" r="1.9"/><circle cx="237.3" cy="530.4" r="1.9"/><circle cx="234" cy="536.5" r="1.9"/><circle cx="234.8" cy="539.7" r="1.9"/><circle cx="238" cy="545.6" r="1.9"/><circle cx="251.2" cy="522.8" r="1.9"/><circle cx="321.2" cy="461.5" r="1.9"/><circle cx="321.9" cy="494.3" r="1.9"/><circle cx="321.4" cy="520" r="1.9"/><circle cx="321.4" cy="545.6" r="1.9"/><circle cx="345.3" cy="459.7" r="1.9"/><circle cx="346" cy="492.5" r="1.9"/><circle cx="343.2" cy="498.6" r="1.9"/><circle cx="344" cy="511.2" r="1.9"/><circle cx="344.7" cy="512.7" r="1.9"/><circle cx="345.3" cy="518.8" r="1.9"/><circle cx="344.5" cy="525.9" r="1.9"/><circle cx="345.3" cy="545.6" r="1.9"/><circle cx="357.9" cy="515.8" r="1.9"/><circle cx="373.8" cy="493.8" r="1.9"/><circle cx="376" cy="516.3" r="1.9"/><circle cx="375.6" cy="518.8" r="1.9"/><circle cx="375" cy="526.4" r="1.9"/><circle cx="376.8" cy="545.6" r="1.9"/><circle cx="382.6" cy="493.8" r="1.9"/><circle cx="382.6" cy="506.9" r="1.9"/><circle cx="382.6" cy="509.4" r="1.9"/><circle cx="393.2" cy="464" r="1.9"/><circle cx="390.7" cy="485" r="1.9"/><circle cx="392.7" cy="487.5" r="1.9"/><circle cx="394" cy="498" r="1.9"/><circle cx="395.3" cy="508.2" r="1.9"/><circle cx="390.2" cy="511.5" r="1.9"/><circle cx="404.6" cy="469.8" r="1.9"/><circle cx="402.8" cy="476.1" r="1.9"/><circle cx="402" cy="481.7" r="1.9"/><circle cx="402.6" cy="484.2" r="1.9"/><circle cx="400" cy="500.1" r="1.9"/><circle cx="402.8" cy="521.3" r="1.9"/><circle cx="403.3" cy="530.4" r="1.9"/><circle cx="466" cy="545.6" r="1.9"/><circle cx="474" cy="498.8" r="1.9"/><circle cx="479.8" cy="513.2" r="1.9"/><circle cx="478.6" cy="518.8" r="1.9"/><circle cx="474.8" cy="522.8" r="1.9"/><circle cx="474" cy="545.6" r="1.9"/><circle cx="476.5" cy="545.6" r="1.9"/><circle cx="479" cy="545.6" r="1.9"/><circle cx="488" cy="475.4" r="1.9"/><circle cx="493.7" cy="472.8" r="1.9"/><circle cx="494.2" cy="476.6" r="1.9"/><circle cx="494.7" cy="479.9" r="1.9"/><circle cx="496" cy="480.4" r="1.9"/><circle cx="493.7" cy="500.6" r="1.9"/><circle cx="494.2" cy="505.7" r="1.9"/><circle cx="496.8" cy="522.8" r="1.9"/><circle cx="496.8" cy="545.6" r="1.9"/><circle cx="503.1" cy="493.8" r="1.9"/><circle cx="506.9" cy="509.4" r="1.9"/><circle cx="506.1" cy="511.5" r="1.9"/><circle cx="502.3" cy="514.5" r="1.9"/><circle cx="503.1" cy="522.8" r="1.9"/><circle cx="505.6" cy="533.4" r="1.9"/><circle cx="505.6" cy="545.6" r="1.9"/><circle cx="501.9" cy="514.4" r="1.9"/><circle cx="535.5" cy="454.4" r="1.9"/><circle cx="539.6" cy="453.9" r="1.9"/><circle cx="540" cy="460" r="1.9"/><circle cx="536" cy="478.4" r="1.9"/><circle cx="539.6" cy="483.2" r="1.9"/><circle cx="542" cy="488" r="1.9"/><circle cx="541.3" cy="497.6" r="1.9"/><circle cx="541.3" cy="506.7" r="1.9"/><circle cx="537.2" cy="512.7" r="1.9"/><circle cx="540.8" cy="518.5" r="1.9"/><circle cx="536.5" cy="523.5" r="1.9"/><circle cx="538.4" cy="537.6" r="1.9"/><circle cx="540.8" cy="545.6" r="1.9"/><circle cx="561.2" cy="495.9" r="1.9"/><circle cx="561.9" cy="513.2" r="1.9"/><circle cx="561.9" cy="518.2" r="1.9"/><circle cx="561.2" cy="545.6" r="1.9"/><circle cx="591.9" cy="482" r="1.9"/><circle cx="584" cy="525.9" r="1.9"/><circle cx="593.1" cy="531.7" r="1.9"/><circle cx="592.4" cy="540.8" r="1.9"/><circle cx="593.6" cy="545.6" r="1.9"/><circle cx="606.8" cy="536" r="1.9"/><circle cx="606.8" cy="545.6" r="1.9"/><circle cx="614.4" cy="525.2" r="1.9"/><circle cx="620" cy="536" r="1.9"/><circle cx="624.8" cy="528.3" r="1.9"/><circle cx="622.4" cy="545.6" r="1.9"/><circle cx="624.5" cy="545.6" r="1.9"/><circle cx="627" cy="545.6" r="1.9"/><circle cx="629.5" cy="545.6" r="1.9"/><circle cx="632" cy="545.6" r="1.9"/><circle cx="633.2" cy="545.6" r="1.9"/><circle cx="627.2" cy="542" r="1.9"/><circle cx="625.5" cy="543.5" r="1.9"/><circle cx="629" cy="543.5" r="1.9"/><circle cx="639.2" cy="545.6" r="1.9"/><circle cx="641" cy="545.6" r="1.9"/><circle cx="648.8" cy="529.2" r="1.9"/><circle cx="650.6" cy="529.2" r="1.9"/><circle cx="652.4" cy="529.6" r="1.9"/><circle cx="650" cy="537.2" r="1.9"/><circle cx="654.7" cy="534.8" r="1.9"/><circle cx="657.1" cy="538.8" r="1.9"/><circle cx="659" cy="542" r="1.9"/><circle cx="648.8" cy="545.6" r="1.9"/><circle cx="651" cy="545.6" r="1.9"/><circle cx="653.5" cy="545.6" r="1.9"/><circle cx="656" cy="545.6" r="1.9"/><circle cx="658.5" cy="545.6" r="1.9"/><circle cx="660.7" cy="545.6" r="1.9"/></g>
<path d="M15.2 873.4 L173.9 600" fill="none" stroke="#000" stroke-width="2.7" stroke-linejoin="miter" stroke-linecap="butt"/>
<path d="M39.8 873.4 L200.2 600" fill="none" stroke="#b4b0b0" stroke-width="2.7" stroke-linejoin="miter" stroke-linecap="butt"/>
<path d="M182.2 631 L216.4 681.5" fill="none" stroke="#b4b0b0" stroke-width="2.6" stroke-linejoin="miter" stroke-linecap="butt"/>
<path d="M58.7 873.4 L179.6 669.6 L230 751.8 L162.1 873.4" fill="none" stroke="#000" stroke-width="2.7" stroke-linejoin="miter" stroke-linecap="butt"/>
<path d="M225.4 600 L209.6 625.4 L372.7 873.4" fill="none" stroke="#000" stroke-width="2.7" stroke-linejoin="miter" stroke-linecap="butt"/>
<path d="M218.2 873.4 L260.6 798.8 L277.3 823 L251.5 873.4" fill="none" stroke="#000" stroke-width="2.7" stroke-linejoin="miter" stroke-linecap="butt"/>
<path d="M289.4 873.4 L303 847.3 L319.7 873.4" fill="none" stroke="#000" stroke-width="2.7" stroke-linejoin="miter" stroke-linecap="butt"/>
<path d="M216.4 681.2 L216.4 702 L295.5 824.5 L269.7 873.4" fill="none" stroke="#d5168c" stroke-width="2.6" stroke-linejoin="miter" stroke-linecap="butt"/>
<path d="M248.4 751.4 L180.3 873.4" fill="none" stroke="#d5168c" stroke-width="2.6" stroke-linejoin="miter" stroke-linecap="butt"/>
<path d="M216.6 682.4 L233 691 L351.5 873.4" fill="none" stroke="#c4dd6c" stroke-width="2.5" stroke-linejoin="miter" stroke-linecap="butt"/>
<path d="M271.6 749.8 L264.1 760.8 A9.6 9.6 0 0 1 252.0 775.5 L200.0 873.4" fill="none" stroke="#c4dd6c" stroke-width="2.5"/>
<text x="197.4" y="689.7" font-size="14" text-anchor="start" fill="#000" font-weight="normal" font-style="italic">G</text>
<text x="224.6" y="677.6" font-size="14" text-anchor="start" fill="#000" font-weight="normal" font-style="italic">g</text>
<path d="M293.3 630.4 C293.3 658.6 332.1 658.6 332.1 686.8" fill="none" stroke="#e6e6e6" stroke-width="2.8"/>
<path d="M300.5 630.4 C300.5 658.6 337.4 658.6 337.4 686.8" fill="none" stroke="#e6e6e6" stroke-width="1.4"/>
<path d="M315.1 630.4 C315.1 658.6 345.8 658.6 345.8 686.8" fill="none" stroke="#dfdfdf" stroke-width="7.6"/>
<path d="M330.6 630.4 C330.6 658.6 349.6 658.6 349.6 686.8" fill="none" stroke="#dfdfdf" stroke-width="5.7"/>
<path d="M681.7 630.4 C681.7 658.6 649.7 658.6 649.7 686.8" fill="none" stroke="#dfdfdf" stroke-width="4.2"/>
<path d="M694.5 630.4 C694.5 658.6 659.8 658.6 659.8 686.8" fill="none" stroke="#e6e6e6" stroke-width="1.4"/>
<path d="M701.6 630.4 C701.6 658.6 664.8 658.6 664.8 686.8" fill="none" stroke="#e6e6e6" stroke-width="1.5"/>
<path d="M707.2 630.4 C707.2 658.6 670.1 658.6 670.1 686.8" fill="none" stroke="#e6e6e6" stroke-width="1.4"/>
<path d="M710.2 630.4 C710.2 658.6 671.8 658.6 671.8 686.8" fill="none" stroke="#e6e6e6" stroke-width="1.5"/>
<path d="M332.1 686.8 C332.1 714.8 388.3 714.8 388.3 742.7" fill="none" stroke="#dfdfdf" stroke-width="3.9"/>
<path d="M337.4 686.8 C337.4 714.8 393.2 714.8 393.2 742.7" fill="none" stroke="#e6e6e6" stroke-width="1.4"/>
<path d="M341.5 686.8 C341.5 714.8 407.9 714.8 407.9 742.7 L413.9 742.7 C413.9 714.8 352.6 714.8 352.6 686.8 Z" fill="#dfdfdf" stroke="#dfdfdf" stroke-width="0.6"/>
<path d="M347.1 686.8 C347.1 714.8 410.9 714.8 410.9 742.7" fill="none" stroke="#dfdfdf" stroke-width="6.6"/>
<path d="M359.9 686.8 C359.9 714.8 426.1 714.8 426.1 742.7" fill="none" stroke="#dfdfdf" stroke-width="6.6"/>
<path d="M649.6 686.8 C649.6 714.8 590.3 714.8 590.3 742.7" fill="none" stroke="#dfdfdf" stroke-width="3.7"/>
<path d="M659.8 686.8 C659.8 714.8 599 714.8 599 742.7" fill="none" stroke="#e6e6e6" stroke-width="1.4"/>
<path d="M664.9 686.8 C664.9 714.8 606.9 714.8 606.9 742.7" fill="none" stroke="#e6e6e6" stroke-width="1.4"/>
<path d="M670 686.8 C670 714.8 612.5 714.8 612.5 742.7" fill="none" stroke="#e6e6e6" stroke-width="1.3"/>
<path d="M671.8 686.8 C671.8 714.8 615.1 714.8 615.1 742.7" fill="none" stroke="#e6e6e6" stroke-width="1.4"/>
<path d="M388.2 742.7 C388.2 770.8 376.1 770.8 376.1 798.9" fill="none" stroke="#e6e6e6" stroke-width="3.3"/>
<path d="M392.7 742.7 C392.7 770.8 382.9 770.8 382.9 798.9 L385.5 798.9 C385.5 770.8 393.9 770.8 393.9 742.7 Z" fill="#e6e6e6" stroke="#e6e6e6" stroke-width="0.6"/>
<path d="M393.3 742.7 C393.3 770.8 384.2 770.8 384.2 798.9" fill="none" stroke="#e6e6e6" stroke-width="1.8"/>
<path d="M410.9 742.7 C410.9 770.8 392.2 770.8 392.2 798.9" fill="none" stroke="#dfdfdf" stroke-width="8.4"/>
<path d="M426.1 742.7 C426.1 770.8 401.8 770.8 401.8 798.9" fill="none" stroke="#dfdfdf" stroke-width="4.3"/>
<path d="M590.5 742.7 C590.5 770.8 598.7 770.8 598.7 798.9" fill="none" stroke="#dfdfdf" stroke-width="3.2"/>
<path d="M598.5 742.7 C598.5 770.8 604.4 770.8 604.4 798.9 L607 798.9 C607 770.8 599.5 770.8 599.5 742.7 Z" fill="#e6e6e6" stroke="#e6e6e6" stroke-width="0.6"/>
<path d="M599 742.7 C599 770.8 605.7 770.8 605.7 798.9" fill="none" stroke="#e6e6e6" stroke-width="1.6"/>
<path d="M606.9 742.7 C606.9 770.8 610.5 770.8 610.5 798.9" fill="none" stroke="#e6e6e6" stroke-width="1.3"/>
<path d="M612.5 742.7 C612.5 770.8 620.1 770.8 620.1 798.9" fill="none" stroke="#e6e6e6" stroke-width="1.3"/>
<path d="M615.1 742.7 C615.1 770.8 627 770.8 627 798.9" fill="none" stroke="#e6e6e6" stroke-width="1.4"/>
<path d="M375.7 798.9 C375.7 827 391.8 827 391.8 855.2" fill="none" stroke="#e6e6e6" stroke-width="2.3"/>
<path d="M383.2 798.9 C383.2 827 400.1 827 400.1 855.2" fill="none" stroke="#e6e6e6" stroke-width="2.2"/>
<path d="M392.2 798.9 C392.2 827 411.2 827 411.2 855.2" fill="none" stroke="#dfdfdf" stroke-width="8.8"/>
<path d="M402.1 798.9 C402.1 827 417 827 417 855.2" fill="none" stroke="#dfdfdf" stroke-width="4.8"/>
<path d="M409.9 798.9 C409.9 827 425 827 425 855.2" fill="none" stroke="#e6e6e6" stroke-width="1.5"/>
<path d="M598.5 798.9 C598.5 827 596.9 827 596.9 855.2" fill="none" stroke="#dfdfdf" stroke-width="4"/>
<path d="M604.5 798.9 C604.5 827 603.2 827 603.2 855.2 L604.5 855.2 C604.5 827 607 827 607 798.9 Z" fill="#e6e6e6" stroke="#e6e6e6" stroke-width="0.6"/>
<path d="M605.8 798.9 C605.8 827 603.9 827 603.9 855.2" fill="none" stroke="#e6e6e6" stroke-width="1.9"/>
<path d="M610.9 798.9 C610.9 827 607 827 607 855.2" fill="none" stroke="#e6e6e6" stroke-width="1.1"/>
<path d="M620.4 798.9 C620.4 827 611 827 611 855.2" fill="none" stroke="#e6e6e6" stroke-width="1"/>
<path d="M627.2 798.9 C627.2 827 611.9 827 611.9 855.2" fill="none" stroke="#e6e6e6" stroke-width="0.9"/>
<path d="M335.5 630.4 C335.5 658.6 375.4 658.6 375.4 686.8" fill="none" stroke="#fff" stroke-width="4.7"/>
<path d="M335.5 630.4 C335.5 658.6 375.4 658.6 375.4 686.8" fill="none" stroke="#c94f4f" stroke-width="3.9"/>
<path d="M339.7 630.4 C339.7 658.6 379 658.6 379 686.8" fill="none" stroke="#fff" stroke-width="4.3"/>
<path d="M339.7 630.4 C339.7 658.6 379 658.6 379 686.8" fill="none" stroke="#c94f4f" stroke-width="3.5"/>
<path d="M352.4 630.4 C352.4 658.6 382.8 658.6 382.8 686.8" fill="none" stroke="#fff" stroke-width="5.2"/>
<path d="M352.4 630.4 C352.4 658.6 382.8 658.6 382.8 686.8" fill="none" stroke="#c94f4f" stroke-width="4.4"/>
<path d="M420.1 630.4 C420.1 658.6 409.8 658.6 409.8 686.8" fill="none" stroke="#fff" stroke-width="3.3"/>
<path d="M420.1 630.4 C420.1 658.6 409.8 658.6 409.8 686.8" fill="none" stroke="#c94f4f" stroke-width="2.5"/>
<path d="M442.3 630.4 C442.3 658.6 438 658.6 438 686.8" fill="none" stroke="#fff" stroke-width="6"/>
<path d="M442.3 630.4 C442.3 658.6 438 658.6 438 686.8" fill="none" stroke="#c94f4f" stroke-width="5.2"/>
<path d="M454.8 630.4 C454.8 658.6 449.8 658.6 449.8 686.8" fill="none" stroke="#fff" stroke-width="3.5"/>
<path d="M454.8 630.4 C454.8 658.6 449.8 658.6 449.8 686.8" fill="none" stroke="#c94f4f" stroke-width="2.7"/>
<path d="M472 630.4 C472 658.6 456.5 658.6 456.5 686.8" fill="none" stroke="#fff" stroke-width="5.3"/>
<path d="M472 630.4 C472 658.6 456.5 658.6 456.5 686.8" fill="none" stroke="#c94f4f" stroke-width="4.5"/>
<path d="M479 630.4 C479 658.6 470.4 658.6 470.4 686.8" fill="none" stroke="#fff" stroke-width="3"/>
<path d="M479 630.4 C479 658.6 470.4 658.6 470.4 686.8" fill="none" stroke="#c94f4f" stroke-width="2.2"/>
<path d="M489.1 630.4 C489.1 658.6 484.4 658.6 484.4 686.8" fill="none" stroke="#fff" stroke-width="5.7"/>
<path d="M489.1 630.4 C489.1 658.6 484.4 658.6 484.4 686.8" fill="none" stroke="#c94f4f" stroke-width="4.9"/>
<path d="M495.8 630.4 C495.8 658.6 494.9 658.6 494.9 686.8" fill="none" stroke="#fff" stroke-width="2.8"/>
<path d="M495.8 630.4 C495.8 658.6 494.9 658.6 494.9 686.8" fill="none" stroke="#c94f4f" stroke-width="2"/>
<path d="M497.8 630.4 C497.8 658.6 503.9 658.6 503.9 686.8 L506.7 686.8 C506.7 658.6 502.9 658.6 502.9 630.4 Z" fill="none" stroke="#fff" stroke-width="1.0"/>
<path d="M500.4 630.4 C500.4 658.6 505.3 658.6 505.3 686.8" fill="none" stroke="#fff" stroke-width="3.8"/>
<path d="M497.8 630.4 C497.8 658.6 503.9 658.6 503.9 686.8 L506.7 686.8 C506.7 658.6 502.9 658.6 502.9 630.4 Z" fill="#c94f4f" stroke="#c94f4f" stroke-width="0.9"/>
<path d="M500.4 630.4 C500.4 658.6 505.3 658.6 505.3 686.8" fill="none" stroke="#c94f4f" stroke-width="3.8"/>
<path d="M563.8 630.4 C563.8 658.6 528.5 658.6 528.5 686.8" fill="none" stroke="#fff" stroke-width="10"/>
<path d="M563.8 630.4 C563.8 658.6 528.5 658.6 528.5 686.8" fill="none" stroke="#c94f4f" stroke-width="9.2"/>
<path d="M572 630.4 C572 658.6 552.6 658.6 552.6 686.8" fill="none" stroke="#fff" stroke-width="4.1"/>
<path d="M572 630.4 C572 658.6 552.6 658.6 552.6 686.8" fill="none" stroke="#c94f4f" stroke-width="3.3"/>
<path d="M588.8 630.4 C588.8 658.6 567.5 658.6 567.5 686.8" fill="none" stroke="#fff" stroke-width="23.4"/>
<path d="M588.8 630.4 C588.8 658.6 567.5 658.6 567.5 686.8" fill="none" stroke="#c94f4f" stroke-width="22.6"/>
<path d="M629.5 630.4 C629.5 658.6 595.1 658.6 595.1 686.8" fill="none" stroke="#fff" stroke-width="6.9"/>
<path d="M629.5 630.4 C629.5 658.6 595.1 658.6 595.1 686.8" fill="none" stroke="#c94f4f" stroke-width="6.1"/>
<path d="M650.6 630.4 C650.6 658.6 607.8 658.6 607.8 686.8" fill="none" stroke="#fff" stroke-width="3.9"/>
<path d="M650.6 630.4 C650.6 658.6 607.8 658.6 607.8 686.8" fill="none" stroke="#c94f4f" stroke-width="3.1"/>
<path d="M673 630.4 C673 658.6 637.5 658.6 637.5 686.8" fill="none" stroke="#fff" stroke-width="3.3"/>
<path d="M673 630.4 C673 658.6 637.5 658.6 637.5 686.8" fill="none" stroke="#c94f4f" stroke-width="2.5"/>
<path d="M522.2 630.4 C522.2 658.6 517.1 658.6 517.1 686.8 L520.5 686.8 C520.5 658.6 545.9 658.6 545.9 630.4 Z" fill="none" stroke="#fff" stroke-width="1.0"/>
<path d="M534 630.4 C534 658.6 518.8 658.6 518.8 686.8" fill="none" stroke="#fff" stroke-width="4.4"/>
<path d="M522.2 630.4 C522.2 658.6 517.1 658.6 517.1 686.8 L520.5 686.8 C520.5 658.6 545.9 658.6 545.9 630.4 Z" fill="#000" stroke="#000" stroke-width="0.9"/>
<path d="M534 630.4 C534 658.6 518.8 658.6 518.8 686.8" fill="none" stroke="#000" stroke-width="4.4"/>
<path d="M375.4 686.8 C375.4 714.8 431 714.8 431 742.7" fill="none" stroke="#fff" stroke-width="6"/>
<path d="M375.4 686.8 C375.4 714.8 431 714.8 431 742.7" fill="none" stroke="#c94f4f" stroke-width="5.2"/>
<path d="M379 686.8 C379 714.8 436.5 714.8 436.5 742.7" fill="none" stroke="#fff" stroke-width="5.3"/>
<path d="M379 686.8 C379 714.8 436.5 714.8 436.5 742.7" fill="none" stroke="#c94f4f" stroke-width="4.5"/>
<path d="M382.8 686.8 C382.8 714.8 441 714.8 441 742.7" fill="none" stroke="#fff" stroke-width="5.3"/>
<path d="M382.8 686.8 C382.8 714.8 441 714.8 441 742.7" fill="none" stroke="#c94f4f" stroke-width="4.5"/>
<path d="M409.8 686.8 C409.8 714.8 460.1 714.8 460.1 742.7" fill="none" stroke="#fff" stroke-width="3.3"/>
<path d="M409.8 686.8 C409.8 714.8 460.1 714.8 460.1 742.7" fill="none" stroke="#c94f4f" stroke-width="2.5"/>
<path d="M438.4 686.8 C438.4 714.8 464.1 714.8 464.1 742.7" fill="none" stroke="#fff" stroke-width="6.5"/>
<path d="M438.4 686.8 C438.4 714.8 464.1 714.8 464.1 742.7" fill="none" stroke="#c94f4f" stroke-width="5.7"/>
<path d="M449.8 686.8 C449.8 714.8 467.9 714.8 467.9 742.7" fill="none" stroke="#fff" stroke-width="3.5"/>
<path d="M449.8 686.8 C449.8 714.8 467.9 714.8 467.9 742.7" fill="none" stroke="#c94f4f" stroke-width="2.7"/>
<path d="M456.1 686.8 C456.1 714.8 473.3 714.8 473.3 742.7" fill="none" stroke="#fff" stroke-width="5.1"/>
<path d="M456.1 686.8 C456.1 714.8 473.3 714.8 473.3 742.7" fill="none" stroke="#c94f4f" stroke-width="4.3"/>
<path d="M470.4 686.8 C470.4 714.8 479.6 714.8 479.6 742.7" fill="none" stroke="#fff" stroke-width="3.4"/>
<path d="M470.4 686.8 C470.4 714.8 479.6 714.8 479.6 742.7" fill="none" stroke="#c94f4f" stroke-width="2.6"/>
<path d="M484.4 686.8 C484.4 714.8 483.9 714.8 483.9 742.7" fill="none" stroke="#fff" stroke-width="4.8"/>
<path d="M484.4 686.8 C484.4 714.8 483.9 714.8 483.9 742.7" fill="none" stroke="#c94f4f" stroke-width="4"/>
<path d="M494.4 686.8 C494.4 714.8 493 714.8 493 742.7 L496.4 742.7 C496.4 714.8 495.4 714.8 495.4 686.8 Z" fill="none" stroke="#fff" stroke-width="1.0"/>
<path d="M494.9 686.8 C494.9 714.8 494.7 714.8 494.7 742.7" fill="none" stroke="#fff" stroke-width="2"/>
<path d="M494.4 686.8 C494.4 714.8 493 714.8 493 742.7 L496.4 742.7 C496.4 714.8 495.4 714.8 495.4 686.8 Z" fill="#c94f4f" stroke="#c94f4f" stroke-width="0.9"/>
<path d="M494.9 686.8 C494.9 714.8 494.7 714.8 494.7 742.7" fill="none" stroke="#c94f4f" stroke-width="2"/>
<path d="M505.3 686.8 C505.3 714.8 512 714.8 512 742.7" fill="none" stroke="#fff" stroke-width="4.7"/>
<path d="M505.3 686.8 C505.3 714.8 512 714.8 512 742.7" fill="none" stroke="#c94f4f" stroke-width="3.9"/>
<path d="M519 686.8 C519 714.8 516.7 714.8 516.7 742.7" fill="none" stroke="#fff" stroke-width="4.3"/>
<path d="M519 686.8 C519 714.8 516.7 714.8 516.7 742.7" fill="none" stroke="#c94f4f" stroke-width="3.5"/>
<path d="M528.5 686.8 C528.5 714.8 527.4 714.8 527.4 742.7" fill="none" stroke="#fff" stroke-width="8.8"/>
<path d="M528.5 686.8 C528.5 714.8 527.4 714.8 527.4 742.7" fill="none" stroke="#c94f4f" stroke-width="8"/>
<path d="M551 686.8 C551 714.8 531 714.8 531 742.7 L543.2 742.7 C543.2 714.8 578.5 714.8 578.5 686.8 Z" fill="none" stroke="#fff" stroke-width="1.0"/>
<path d="M564.8 686.8 C564.8 714.8 537.1 714.8 537.1 742.7" fill="none" stroke="#fff" stroke-width="13.2"/>
<path d="M551 686.8 C551 714.8 531 714.8 531 742.7 L543.2 742.7 C543.2 714.8 578.5 714.8 578.5 686.8 Z" fill="#c94f4f" stroke="#c94f4f" stroke-width="0.9"/>
<path d="M564.8 686.8 C564.8 714.8 537.1 714.8 537.1 742.7" fill="none" stroke="#c94f4f" stroke-width="13.2"/>
<path d="M594.9 686.8 C594.9 714.8 554.5 714.8 554.5 742.7" fill="none" stroke="#fff" stroke-width="7.2"/>
<path d="M594.9 686.8 C594.9 714.8 554.5 714.8 554.5 742.7" fill="none" stroke="#c94f4f" stroke-width="6.4"/>
<path d="M607.8 686.8 C607.8 714.8 562.5 714.8 562.5 742.7" fill="none" stroke="#fff" stroke-width="3.7"/>
<path d="M607.8 686.8 C607.8 714.8 562.5 714.8 562.5 742.7" fill="none" stroke="#c94f4f" stroke-width="2.9"/>
<path d="M637.5 686.8 C637.5 714.8 581.7 714.8 581.7 742.7" fill="none" stroke="#fff" stroke-width="3.2"/>
<path d="M637.5 686.8 C637.5 714.8 581.7 714.8 581.7 742.7" fill="none" stroke="#c94f4f" stroke-width="2.4"/>
<path d="M429.9 742.7 C429.9 770.8 410.1 770.8 410.1 798.9" fill="none" stroke="#fff" stroke-width="4.2"/>
<path d="M429.9 742.7 C429.9 770.8 410.1 770.8 410.1 798.9" fill="none" stroke="#c94f4f" stroke-width="3.4"/>
<path d="M433.5 742.7 C433.5 770.8 413.9 770.8 413.9 798.9" fill="none" stroke="#fff" stroke-width="4.2"/>
<path d="M433.5 742.7 C433.5 770.8 413.9 770.8 413.9 798.9" fill="none" stroke="#c94f4f" stroke-width="3.4"/>
<path d="M436.9 742.7 C436.9 770.8 417.4 770.8 417.4 798.9" fill="none" stroke="#fff" stroke-width="4.4"/>
<path d="M436.9 742.7 C436.9 770.8 417.4 770.8 417.4 798.9" fill="none" stroke="#c94f4f" stroke-width="3.6"/>
<path d="M441.2 742.7 C441.2 770.8 422.1 770.8 422.1 798.9" fill="none" stroke="#fff" stroke-width="4.6"/>
<path d="M441.2 742.7 C441.2 770.8 422.1 770.8 422.1 798.9" fill="none" stroke="#c94f4f" stroke-width="3.8"/>
<path d="M460.6 742.7 C460.6 770.8 444.6 770.8 444.6 798.9" fill="none" stroke="#fff" stroke-width="4.4"/>
<path d="M460.6 742.7 C460.6 770.8 444.6 770.8 444.6 798.9" fill="none" stroke="#c94f4f" stroke-width="3.6"/>
<path d="M464.1 742.7 C464.1 770.8 448.1 770.8 448.1 798.9" fill="none" stroke="#fff" stroke-width="5.4"/>
<path d="M464.1 742.7 C464.1 770.8 448.1 770.8 448.1 798.9" fill="none" stroke="#c94f4f" stroke-width="4.6"/>
<path d="M467.9 742.7 C467.9 770.8 453.4 770.8 453.4 798.9" fill="none" stroke="#fff" stroke-width="3.6"/>
<path d="M467.9 742.7 C467.9 770.8 453.4 770.8 453.4 798.9" fill="none" stroke="#c94f4f" stroke-width="2.8"/>
<path d="M473.3 742.7 C473.3 770.8 459.6 770.8 459.6 798.9" fill="none" stroke="#fff" stroke-width="4.4"/>
<path d="M473.3 742.7 C473.3 770.8 459.6 770.8 459.6 798.9" fill="none" stroke="#c94f4f" stroke-width="3.6"/>
<path d="M479.6 742.7 C479.6 770.8 466.9 770.8 466.9 798.9" fill="none" stroke="#fff" stroke-width="4.1"/>
<path d="M479.6 742.7 C479.6 770.8 466.9 770.8 466.9 798.9" fill="none" stroke="#c94f4f" stroke-width="3.3"/>
<path d="M483.9 742.7 C483.9 770.8 470.8 770.8 470.8 798.9" fill="none" stroke="#fff" stroke-width="5"/>
<path d="M483.9 742.7 C483.9 770.8 470.8 770.8 470.8 798.9" fill="none" stroke="#c94f4f" stroke-width="4.2"/>
<path d="M487 742.7 C487 770.8 480.1 770.8 480.1 798.9" fill="none" stroke="#fff" stroke-width="3"/>
<path d="M487 742.7 C487 770.8 480.1 770.8 480.1 798.9" fill="none" stroke="#c94f4f" stroke-width="2.2"/>
<path d="M494.7 742.7 C494.7 770.8 482.3 770.8 482.3 798.9" fill="none" stroke="#fff" stroke-width="4.6"/>
<path d="M494.7 742.7 C494.7 770.8 482.3 770.8 482.3 798.9" fill="none" stroke="#c94f4f" stroke-width="3.8"/>
<path d="M512 742.7 C512 770.8 489 770.8 489 798.9" fill="none" stroke="#fff" stroke-width="5"/>
<path d="M512 742.7 C512 770.8 489 770.8 489 798.9" fill="none" stroke="#c94f4f" stroke-width="4.2"/>
<path d="M516.7 742.7 C516.7 770.8 503.7 770.8 503.7 798.9" fill="none" stroke="#fff" stroke-width="4"/>
<path d="M516.7 742.7 C516.7 770.8 503.7 770.8 503.7 798.9" fill="none" stroke="#c94f4f" stroke-width="3.2"/>
<path d="M533.7 742.7 C533.7 770.8 521.8 770.8 521.8 798.9" fill="none" stroke="#fff" stroke-width="18.6"/>
<path d="M533.7 742.7 C533.7 770.8 521.8 770.8 521.8 798.9" fill="none" stroke="#c94f4f" stroke-width="17.8"/>
<path d="M554.5 742.7 C554.5 770.8 544 770.8 544 798.9" fill="none" stroke="#fff" stroke-width="6.6"/>
<path d="M554.5 742.7 C554.5 770.8 544 770.8 544 798.9" fill="none" stroke="#c94f4f" stroke-width="5.8"/>
<path d="M562.5 742.7 C562.5 770.8 552.8 770.8 552.8 798.9" fill="none" stroke="#fff" stroke-width="3.5"/>
<path d="M562.5 742.7 C562.5 770.8 552.8 770.8 552.8 798.9" fill="none" stroke="#c94f4f" stroke-width="2.8"/>
<path d="M581.7 742.7 C581.7 770.8 590 770.8 590 798.9" fill="none" stroke="#fff" stroke-width="3.1"/>
<path d="M581.7 742.7 C581.7 770.8 590 770.8 590 798.9" fill="none" stroke="#c94f4f" stroke-width="2.3"/>
<path d="M413.9 798.9 C413.9 827 426.7 827 426.7 855.2" fill="none" stroke="#fff" stroke-width="3.9"/>
<path d="M413.9 798.9 C413.9 827 426.7 827 426.7 855.2" fill="none" stroke="#c94f4f" stroke-width="3.1"/>
<path d="M417.6 798.9 C417.6 827 430 827 430 855.2" fill="none" stroke="#fff" stroke-width="4.1"/>
<path d="M417.6 798.9 C417.6 827 430 827 430 855.2" fill="none" stroke="#c94f4f" stroke-width="3.3"/>
<path d="M419.7 798.9 C419.7 827 434.4 827 434.4 855.2" fill="none" stroke="#fff" stroke-width="3.3"/>
<path d="M419.7 798.9 C419.7 827 434.4 827 434.4 855.2" fill="none" stroke="#c94f4f" stroke-width="2.5"/>
<path d="M422.2 798.9 C422.2 827 438.5 827 438.5 855.2" fill="none" stroke="#fff" stroke-width="4.9"/>
<path d="M422.2 798.9 C422.2 827 438.5 827 438.5 855.2" fill="none" stroke="#c94f4f" stroke-width="4.1"/>
<path d="M443 798.9 C443 827 453.1 827 453.1 855.2" fill="none" stroke="#fff" stroke-width="3.2"/>
<path d="M443 798.9 C443 827 453.1 827 453.1 855.2" fill="none" stroke="#c94f4f" stroke-width="2.4"/>
<path d="M448.2 798.9 C448.2 827 457.1 827 457.1 855.2" fill="none" stroke="#fff" stroke-width="6.1"/>
<path d="M448.2 798.9 C448.2 827 457.1 827 457.1 855.2" fill="none" stroke="#c94f4f" stroke-width="5.3"/>
<path d="M453.5 798.9 C453.5 827 461.3 827 461.3 855.2" fill="none" stroke="#fff" stroke-width="4.2"/>
<path d="M453.5 798.9 C453.5 827 461.3 827 461.3 855.2" fill="none" stroke="#c94f4f" stroke-width="3.4"/>
<path d="M458.4 798.9 C458.4 827 466.6 827 466.6 855.2" fill="none" stroke="#fff" stroke-width="8"/>
<path d="M458.4 798.9 C458.4 827 466.6 827 466.6 855.2" fill="none" stroke="#c94f4f" stroke-width="7.2"/>
<path d="M468.9 798.9 C468.9 827 475.8 827 475.8 855.2" fill="none" stroke="#fff" stroke-width="10.7"/>
<path d="M468.9 798.9 C468.9 827 475.8 827 475.8 855.2" fill="none" stroke="#c94f4f" stroke-width="9.9"/>
<path d="M481.4 798.9 C481.4 827 484.5 827 484.5 855.2" fill="none" stroke="#fff" stroke-width="5"/>
<path d="M481.4 798.9 C481.4 827 484.5 827 484.5 855.2" fill="none" stroke="#c94f4f" stroke-width="4.2"/>
<path d="M488.9 798.9 C488.9 827 498 827 498 855.2" fill="none" stroke="#fff" stroke-width="4.7"/>
<path d="M488.9 798.9 C488.9 827 498 827 498 855.2" fill="none" stroke="#c94f4f" stroke-width="3.9"/>
<path d="M503.1 798.9 C503.1 827 513.9 827 513.9 855.2 L517.7 855.2 C517.7 827 505 827 505 798.9 Z" fill="none" stroke="#fff" stroke-width="1.0"/>
<path d="M504.1 798.9 C504.1 827 515.8 827 515.8 855.2" fill="none" stroke="#fff" stroke-width="2.9"/>
<path d="M503.1 798.9 C503.1 827 513.9 827 513.9 855.2 L517.7 855.2 C517.7 827 505 827 505 798.9 Z" fill="#c94f4f" stroke="#c94f4f" stroke-width="0.9"/>
<path d="M504.1 798.9 C504.1 827 515.8 827 515.8 855.2" fill="none" stroke="#c94f4f" stroke-width="2.9"/>
<path d="M505.6 798.9 C505.6 827 520.8 827 520.8 855.2 L524 855.2 C524 827 506.6 827 506.6 798.9 Z" fill="none" stroke="#fff" stroke-width="1.0"/>
<path d="M506.1 798.9 C506.1 827 522.4 827 522.4 855.2" fill="none" stroke="#fff" stroke-width="2"/>
<path d="M505.6 798.9 C505.6 827 520.8 827 520.8 855.2 L524 855.2 C524 827 506.6 827 506.6 798.9 Z" fill="#c94f4f" stroke="#c94f4f" stroke-width="0.9"/>
<path d="M506.1 798.9 C506.1 827 522.4 827 522.4 855.2" fill="none" stroke="#c94f4f" stroke-width="2"/>
<path d="M521.5 798.9 C521.5 827 541.9 827 541.9 855.2" fill="none" stroke="#fff" stroke-width="17.1"/>
<path d="M521.5 798.9 C521.5 827 541.9 827 541.9 855.2" fill="none" stroke="#c94f4f" stroke-width="16.2"/>
<path d="M544.2 798.9 C544.2 827 556.6 827 556.6 855.2" fill="none" stroke="#fff" stroke-width="7.2"/>
<path d="M544.2 798.9 C544.2 827 556.6 827 556.6 855.2" fill="none" stroke="#c94f4f" stroke-width="6.4"/>
<path d="M552.7 798.9 C552.7 827 566 827 566 855.2" fill="none" stroke="#fff" stroke-width="3.3"/>
<path d="M552.7 798.9 C552.7 827 566 827 566 855.2" fill="none" stroke="#c94f4f" stroke-width="2.5"/>
<path d="M590.6 798.9 C590.6 827 588.1 827 588.1 855.2" fill="none" stroke="#fff" stroke-width="3.1"/>
<path d="M590.6 798.9 C590.6 827 588.1 827 588.1 855.2" fill="none" stroke="#c94f4f" stroke-width="2.3"/>
<path d="M577.6 630.4 C577.6 658.6 556.0 658.6 556.0 686.8" fill="none" stroke="#000" stroke-width="1.1"/>
<line x1="290.5" y1="630.4" x2="711.5" y2="630.4" stroke="#808080" stroke-width="1.9"/>
<rect x="291.9" y="627.1" width="2.8" height="6.6" fill="#4a72c0"/>
<rect x="299.8" y="627.1" width="1.4" height="6.6" fill="#4a72c0"/>
<rect x="312.3" y="627.1" width="5.6" height="6.6" fill="#4a72c0"/>
<rect x="328.6" y="627.1" width="1.4" height="6.6" fill="#4a72c0"/>
<rect x="330" y="627.1" width="2.7" height="6.6" fill="#55aa5a"/>
<rect x="334.1" y="627.1" width="2.8" height="6.6" fill="#4a72c0"/>
<rect x="339.1" y="627.1" width="1.4" height="6.6" fill="#4a72c0"/>
<rect x="350.8" y="627.1" width="3.2" height="6.6" fill="#55aa5a"/>
<rect x="419.3" y="627.1" width="1.6" height="6.6" fill="#4a72c0"/>
<rect x="440.4" y="627.1" width="3.8" height="6.6" fill="#55aa5a"/>
<rect x="453.7" y="627.1" width="2.2" height="6.6" fill="#55aa5a"/>
<rect x="470.3" y="627.1" width="3.3" height="6.6" fill="#4a72c0"/>
<rect x="478.3" y="627.1" width="1.3" height="6.6" fill="#4a72c0"/>
<rect x="486" y="627.1" width="1.1" height="6.6" fill="#4a72c0"/>
<rect x="487.8" y="627.1" width="3.8" height="6.6" fill="#55aa5a"/>
<rect x="495.3" y="627.1" width="1.1" height="6.6" fill="#55aa5a"/>
<rect x="497.8" y="627.1" width="2.3" height="6.6" fill="#55aa5a"/>
<rect x="501.6" y="627.1" width="1.3" height="6.6" fill="#55aa5a"/>
<rect x="522.2" y="627.1" width="23.7" height="6.6" fill="#4a72c0"/>
<rect x="559.4" y="627.1" width="8.9" height="6.6" fill="#4a72c0"/>
<rect x="571.1" y="627.1" width="1.9" height="6.6" fill="#4a72c0"/>
<rect x="579.5" y="627.1" width="7.5" height="6.6" fill="#4a72c0"/>
<rect x="587" y="627.1" width="12.4" height="6.6" fill="#55aa5a"/>
<rect x="626.8" y="627.1" width="3.4" height="6.6" fill="#4a72c0"/>
<rect x="630.2" y="627.1" width="1.9" height="6.6" fill="#55aa5a"/>
<rect x="649.5" y="627.1" width="2.3" height="6.6" fill="#4a72c0"/>
<rect x="672.3" y="627.1" width="1.5" height="6.6" fill="#55aa5a"/>
<rect x="679.8" y="627.1" width="3.8" height="6.6" fill="#55aa5a"/>
<rect x="694" y="627.1" width="1.1" height="6.6" fill="#55aa5a"/>
<rect x="700.9" y="627.1" width="1.5" height="6.6" fill="#4a72c0"/>
<rect x="706.5" y="627.1" width="1.5" height="6.6" fill="#4a72c0"/>
<rect x="709.5" y="627.1" width="1.5" height="6.6" fill="#4a72c0"/>
<line x1="329" y1="686.8" x2="672.5" y2="686.8" stroke="#808080" stroke-width="1.9"/>
<rect x="330.4" y="683.5" width="3.4" height="6.6" fill="#4a72c0"/>
<rect x="336.9" y="683.5" width="1.1" height="6.6" fill="#4a72c0"/>
<rect x="341.5" y="683.5" width="11.1" height="6.6" fill="#4a72c0"/>
<rect x="356" y="683.5" width="7.7" height="6.6" fill="#4a72c0"/>
<rect x="369.7" y="683.5" width="1.3" height="6.6" fill="#55aa5a"/>
<rect x="373.8" y="683.5" width="2" height="6.6" fill="#4a72c0"/>
<rect x="378" y="683.5" width="1.7" height="6.6" fill="#4a72c0"/>
<rect x="381.3" y="683.5" width="3.2" height="6.6" fill="#55aa5a"/>
<rect x="409.2" y="683.5" width="1.2" height="6.6" fill="#4a72c0"/>
<rect x="428" y="683.5" width="1.1" height="6.6" fill="#55aa5a"/>
<rect x="435.2" y="683.5" width="6" height="6.6" fill="#55aa5a"/>
<rect x="453.6" y="683.5" width="4.7" height="6.6" fill="#4a72c0"/>
<rect x="482.7" y="683.5" width="3.1" height="6.6" fill="#55aa5a"/>
<rect x="504" y="683.5" width="2" height="6.6" fill="#55aa5a"/>
<rect x="517.6" y="683.5" width="3" height="6.6" fill="#4a72c0"/>
<rect x="525" y="683.5" width="7.7" height="6.6" fill="#4a72c0"/>
<rect x="550" y="683.5" width="2.2" height="6.6" fill="#4a72c0"/>
<rect x="553.3" y="683.5" width="2.7" height="6.6" fill="#55aa5a"/>
<rect x="558.3" y="683.5" width="8.3" height="6.6" fill="#4a72c0"/>
<rect x="566.6" y="683.5" width="11.8" height="6.6" fill="#55aa5a"/>
<rect x="591.8" y="683.5" width="6.1" height="6.6" fill="#4a72c0"/>
<rect x="607.5" y="683.5" width="1.1" height="6.6" fill="#4a72c0"/>
<rect x="637" y="683.5" width="1.1" height="6.6" fill="#55aa5a"/>
<rect x="648" y="683.5" width="3.2" height="6.6" fill="#55aa5a"/>
<rect x="659.2" y="683.5" width="1.2" height="6.6" fill="#4a72c0"/>
<rect x="664.5" y="683.5" width="1.1" height="6.6" fill="#4a72c0"/>
<rect x="670.6" y="683.5" width="1.4" height="6.6" fill="#4a72c0"/>
<line x1="385.8" y1="742.7" x2="616" y2="742.7" stroke="#808080" stroke-width="1.9"/>
<rect x="386.7" y="739.4" width="3" height="6.6" fill="#4a72c0"/>
<rect x="392.7" y="739.4" width="1.2" height="6.6" fill="#4a72c0"/>
<rect x="407.9" y="739.4" width="6" height="6.6" fill="#4a72c0"/>
<rect x="426.8" y="739.4" width="1.5" height="6.6" fill="#4a72c0"/>
<rect x="428.3" y="739.4" width="3.1" height="6.6" fill="#55aa5a"/>
<rect x="432.1" y="739.4" width="2.7" height="6.6" fill="#4a72c0"/>
<rect x="437.4" y="739.4" width="1.1" height="6.6" fill="#4a72c0"/>
<rect x="439.7" y="739.4" width="3" height="6.6" fill="#55aa5a"/>
<rect x="459.4" y="739.4" width="1.5" height="6.6" fill="#4a72c0"/>
<rect x="462" y="739.4" width="4" height="6.6" fill="#55aa5a"/>
<rect x="467" y="739.4" width="1.8" height="6.6" fill="#55aa5a"/>
<rect x="472.1" y="739.4" width="2.4" height="6.6" fill="#4a72c0"/>
<rect x="478.6" y="739.4" width="2" height="6.6" fill="#4a72c0"/>
<rect x="482.4" y="739.4" width="3.1" height="6.6" fill="#55aa5a"/>
<rect x="493" y="739.4" width="3.4" height="6.6" fill="#55aa5a"/>
<rect x="510.5" y="739.4" width="3" height="6.6" fill="#4a72c0"/>
<rect x="515.8" y="739.4" width="1.8" height="6.6" fill="#4a72c0"/>
<rect x="524.1" y="739.4" width="6.8" height="6.6" fill="#4a72c0"/>
<rect x="530.9" y="739.4" width="12.1" height="6.6" fill="#55aa5a"/>
<rect x="552" y="739.4" width="3.2" height="6.6" fill="#4a72c0"/>
<rect x="555.2" y="739.4" width="2.2" height="6.6" fill="#55aa5a"/>
<rect x="561.5" y="739.4" width="1.9" height="6.6" fill="#4a72c0"/>
<rect x="581" y="739.4" width="1.1" height="6.6" fill="#55aa5a"/>
<rect x="589.2" y="739.4" width="2.6" height="6.6" fill="#55aa5a"/>
<rect x="598.5" y="739.4" width="1.1" height="6.6" fill="#55aa5a"/>
<rect x="606.3" y="739.4" width="1.2" height="6.6" fill="#4a72c0"/>
<rect x="612" y="739.4" width="1.1" height="6.6" fill="#4a72c0"/>
<rect x="614.5" y="739.4" width="1.3" height="6.6" fill="#4a72c0"/>
<line x1="373" y1="798.9" x2="628" y2="798.9" stroke="#808080" stroke-width="1.9"/>
<rect x="373.8" y="795.6" width="3.8" height="6.6" fill="#4a72c0"/>
<rect x="381.1" y="795.6" width="1.5" height="6.6" fill="#4a72c0"/>
<rect x="383.9" y="795.6" width="1.5" height="6.6" fill="#4a72c0"/>
<rect x="387.4" y="795.6" width="9.7" height="6.6" fill="#4a72c0"/>
<rect x="400.3" y="795.6" width="3.5" height="6.6" fill="#4a72c0"/>
<rect x="409.1" y="795.6" width="1.6" height="6.6" fill="#55aa5a"/>
<rect x="412.9" y="795.6" width="1.9" height="6.6" fill="#4a72c0"/>
<rect x="417" y="795.6" width="1.6" height="6.6" fill="#4a72c0"/>
<rect x="420.5" y="795.6" width="3.2" height="6.6" fill="#55aa5a"/>
<rect x="442.3" y="795.6" width="1.1" height="6.6" fill="#4a72c0"/>
<rect x="446.3" y="795.6" width="3.8" height="6.6" fill="#55aa5a"/>
<rect x="453.6" y="795.6" width="1.1" height="6.6" fill="#55aa5a"/>
<rect x="455.6" y="795.6" width="1.1" height="6.6" fill="#4a72c0"/>
<rect x="458.3" y="795.6" width="2.5" height="6.6" fill="#4a72c0"/>
<rect x="465.3" y="795.6" width="3.1" height="6.6" fill="#4a72c0"/>
<rect x="468.8" y="795.6" width="3.4" height="6.6" fill="#55aa5a"/>
<rect x="479.8" y="795.6" width="3.1" height="6.6" fill="#55aa5a"/>
<rect x="487.3" y="795.6" width="3" height="6.6" fill="#4a72c0"/>
<rect x="497.8" y="795.6" width="1.1" height="6.6" fill="#55aa5a"/>
<rect x="503.1" y="795.6" width="1.9" height="6.6" fill="#4a72c0"/>
<rect x="514.5" y="795.6" width="6.9" height="6.6" fill="#4a72c0"/>
<rect x="521.4" y="795.6" width="7" height="6.6" fill="#55aa5a"/>
<rect x="541.4" y="795.6" width="4.4" height="6.6" fill="#4a72c0"/>
<rect x="545.8" y="795.6" width="1.2" height="6.6" fill="#55aa5a"/>
<rect x="552" y="795.6" width="1.2" height="6.6" fill="#4a72c0"/>
<rect x="589.6" y="795.6" width="1.1" height="6.6" fill="#55aa5a"/>
<rect x="596.9" y="795.6" width="3.1" height="6.6" fill="#55aa5a"/>
<rect x="604.5" y="795.6" width="2.5" height="6.6" fill="#4a72c0"/>
<rect x="610.5" y="795.6" width="1.1" height="6.6" fill="#55aa5a"/>
<rect x="620" y="795.6" width="1.1" height="6.6" fill="#4a72c0"/>
<rect x="626.8" y="795.6" width="1.1" height="6.6" fill="#4a72c0"/>
<line x1="389.3" y1="855.2" x2="612.3" y2="855.2" stroke="#808080" stroke-width="1.9"/>
<rect x="390.2" y="851.9" width="3.2" height="6.6" fill="#4a72c0"/>
<rect x="399.3" y="851.9" width="1.6" height="6.6" fill="#4a72c0"/>
<rect x="407.9" y="851.9" width="11.6" height="6.6" fill="#4a72c0"/>
<rect x="425.6" y="851.9" width="1.9" height="6.6" fill="#55aa5a"/>
<rect x="428.7" y="851.9" width="2.5" height="6.6" fill="#4a72c0"/>
<rect x="433.8" y="851.9" width="1.2" height="6.6" fill="#4a72c0"/>
<rect x="436.9" y="851.9" width="3.2" height="6.6" fill="#55aa5a"/>
<rect x="452.7" y="851.9" width="1.3" height="6.6" fill="#4a72c0"/>
<rect x="456.5" y="851.9" width="4.4" height="6.6" fill="#55aa5a"/>
<rect x="460.9" y="851.9" width="5.6" height="6.6" fill="#4a72c0"/>
<rect x="466.5" y="851.9" width="2.5" height="6.6" fill="#55aa5a"/>
<rect x="469" y="851.9" width="8.9" height="6.6" fill="#4a72c0"/>
<rect x="477.9" y="851.9" width="1.9" height="6.6" fill="#4a72c0"/>
<rect x="482.9" y="851.9" width="3.2" height="6.6" fill="#55aa5a"/>
<rect x="496.6" y="851.9" width="2.7" height="6.6" fill="#55aa5a"/>
<rect x="513.9" y="851.9" width="3.8" height="6.6" fill="#4a72c0"/>
<rect x="520.8" y="851.9" width="3.2" height="6.6" fill="#4a72c0"/>
<rect x="533.6" y="851.9" width="9" height="6.6" fill="#4a72c0"/>
<rect x="542.6" y="851.9" width="7.6" height="6.6" fill="#55aa5a"/>
<rect x="554" y="851.9" width="3.8" height="6.6" fill="#4a72c0"/>
<rect x="557.8" y="851.9" width="1.5" height="6.6" fill="#55aa5a"/>
<rect x="565.4" y="851.9" width="1.2" height="6.6" fill="#4a72c0"/>
<rect x="587.4" y="851.9" width="1.3" height="6.6" fill="#55aa5a"/>
<rect x="595" y="851.9" width="3.8" height="6.6" fill="#55aa5a"/>
<rect x="603.2" y="851.9" width="1.3" height="6.6" fill="#4a72c0"/>
<rect x="610.8" y="851.9" width="1.2" height="6.6" fill="#4a72c0"/>
<circle cx="419.6" cy="624.0" r="1.05" fill="#222"/>
<circle cx="442.4" cy="624.0" r="1.05" fill="#222"/>
<circle cx="454.2" cy="624.0" r="1.05" fill="#222"/>
<circle cx="471.8" cy="624.0" r="1.05" fill="#222"/>
<circle cx="478.9" cy="624.0" r="1.05" fill="#222"/>
<circle cx="489.6" cy="624.0" r="1.05" fill="#222"/>
<circle cx="494.5" cy="624.0" r="1.05" fill="#222"/>
<circle cx="498.5" cy="624.0" r="1.05" fill="#222"/>
<circle cx="563.6" cy="624.0" r="1.05" fill="#222"/>
<circle cx="572" cy="624.0" r="1.05" fill="#222"/>
<circle cx="582.3" cy="624.0" r="1.05" fill="#222"/>
<circle cx="593.1" cy="624.0" r="1.05" fill="#222"/>
<circle cx="626.8" cy="624.0" r="1.05" fill="#222"/>
<circle cx="631" cy="624.0" r="1.05" fill="#222"/>
<circle cx="650.9" cy="624.0" r="1.05" fill="#222"/>
<text x="535.3" y="625" font-size="9" text-anchor="middle" fill="#111" font-weight="normal" font-style="normal">†</text>
<text x="577.5" y="625" font-size="9" text-anchor="middle" fill="#111" font-weight="normal" font-style="normal">†</text>
</svg>
</body></html>
